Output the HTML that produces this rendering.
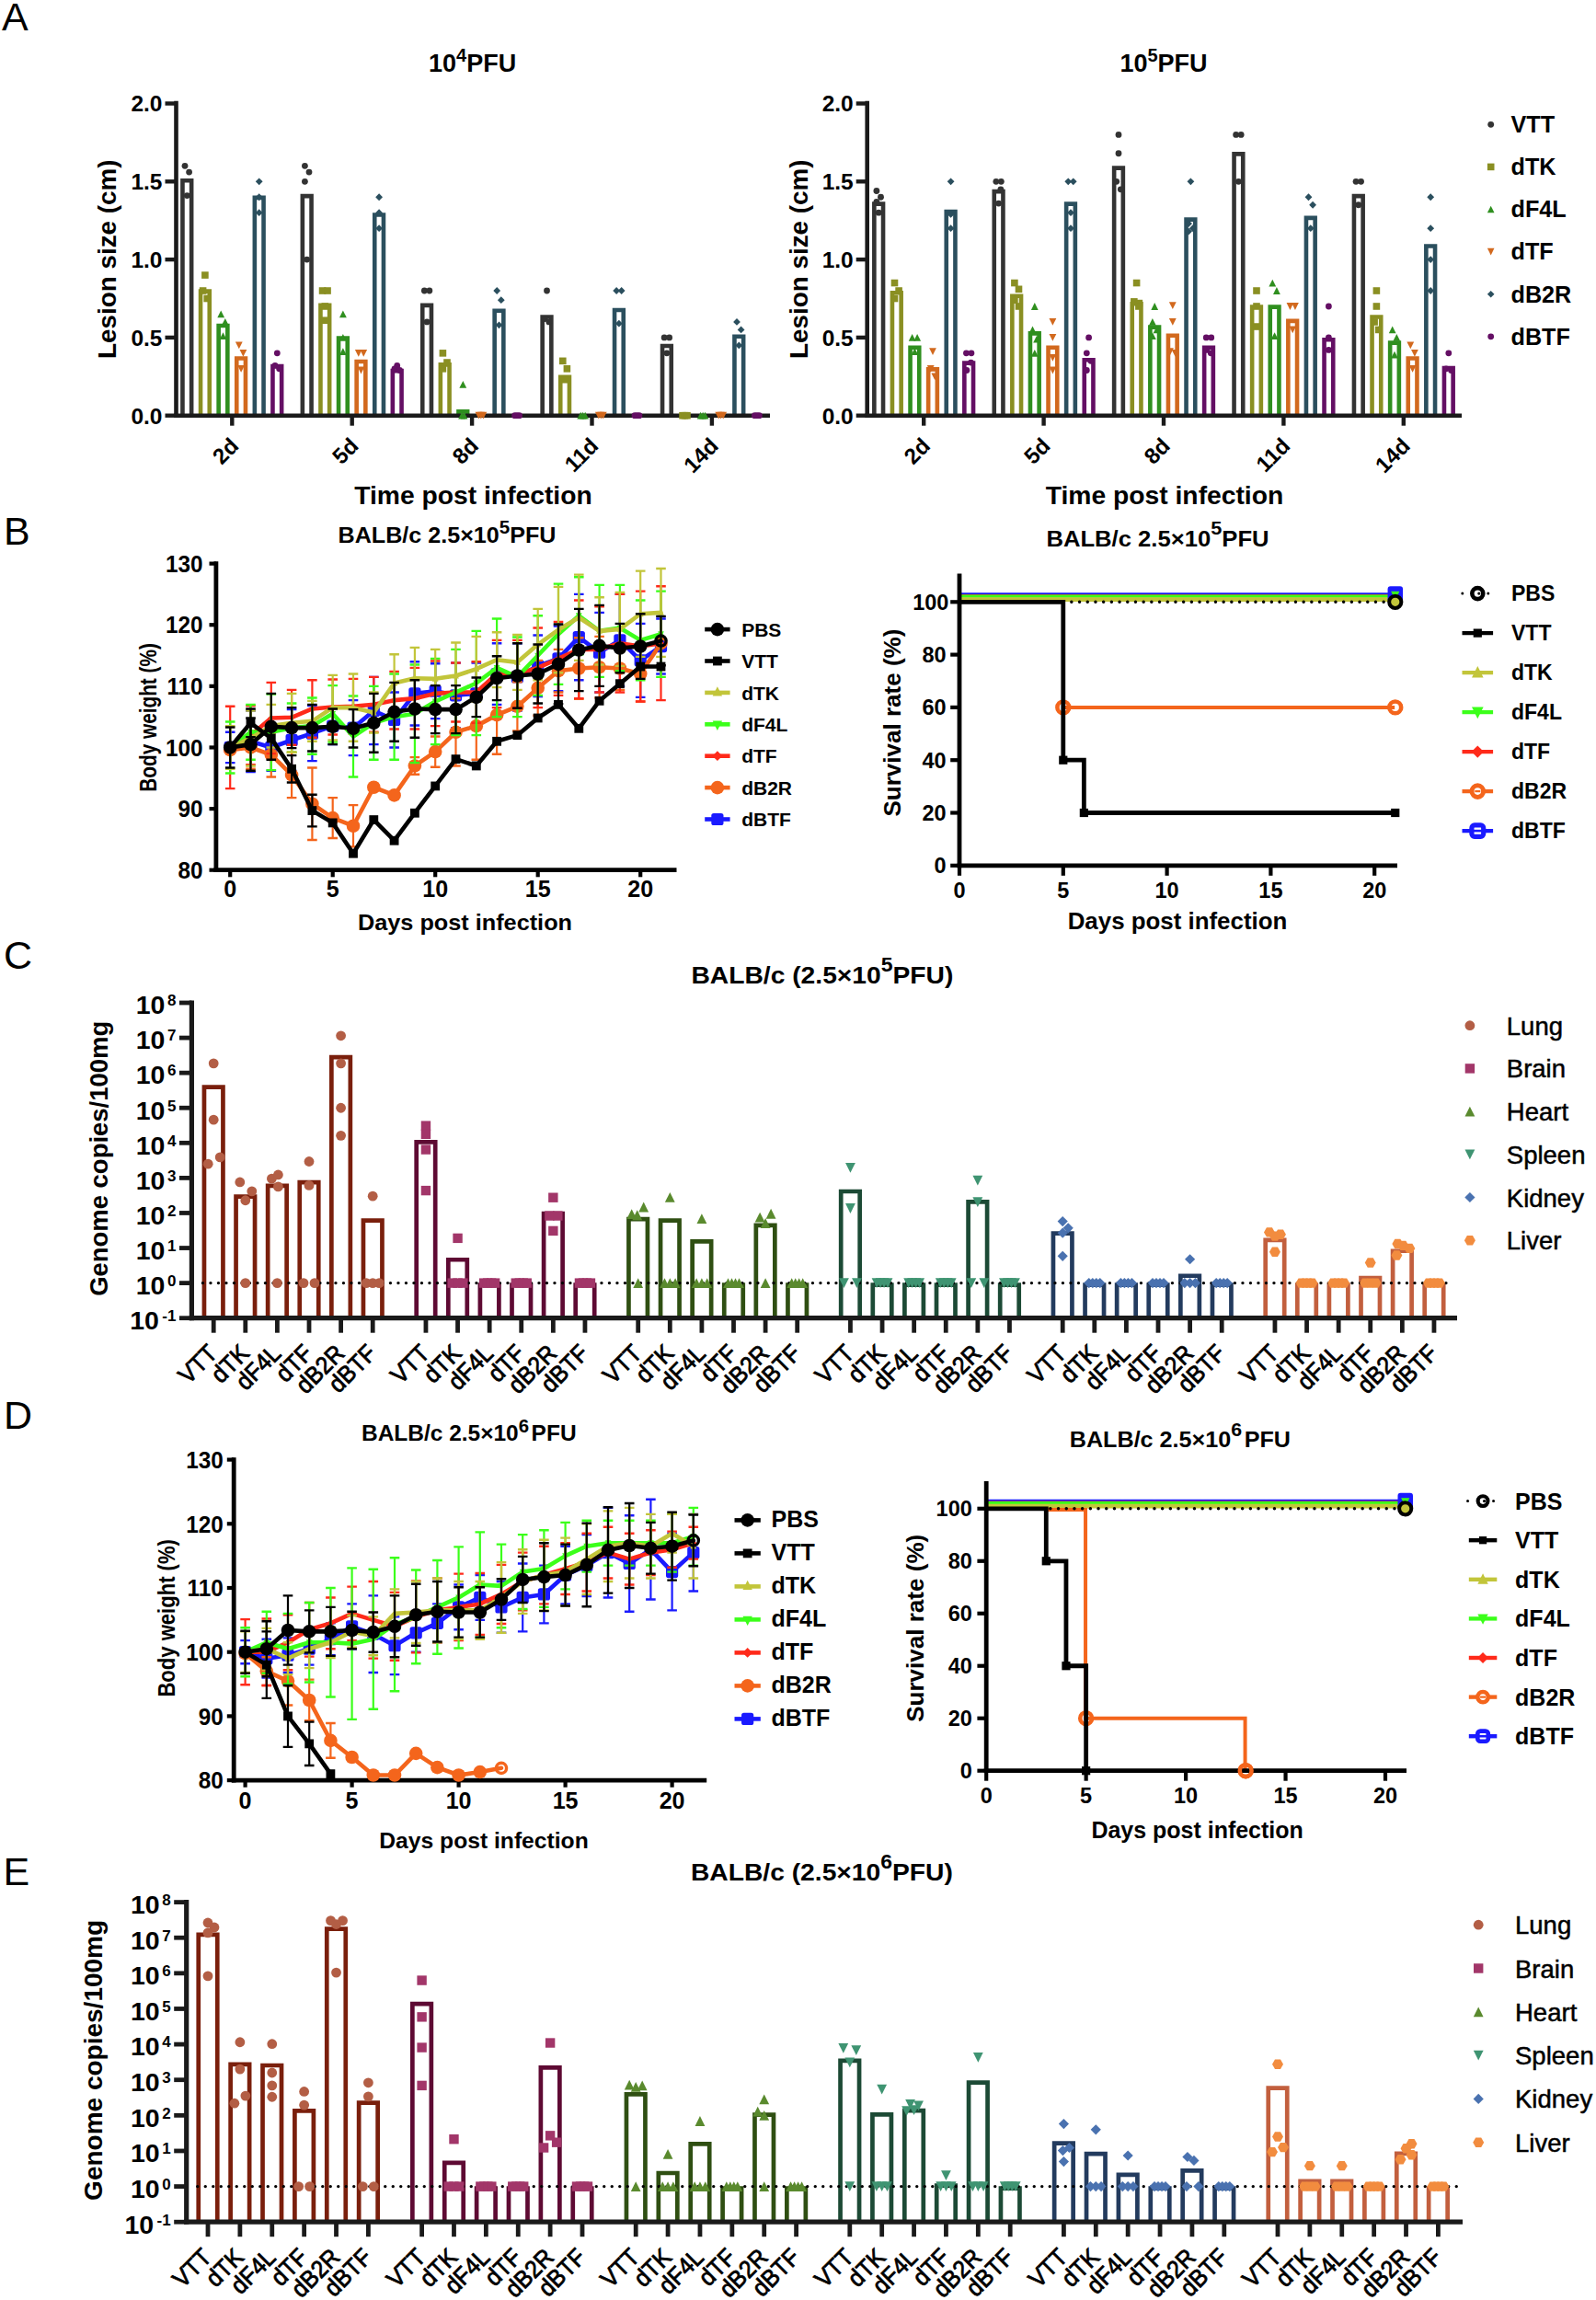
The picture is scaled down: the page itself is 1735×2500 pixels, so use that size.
<!DOCTYPE html>
<html lang="en"><head><meta charset="utf-8"><title>Figure</title>
<style>html,body{margin:0;padding:0;background:#fff}svg{display:block}text{font-family:"Liberation Sans",sans-serif}</style>
</head><body>
<svg width="1735" height="2500" viewBox="0 0 1735 2500">
<rect x="0" y="0" width="1735" height="2500" fill="#fff"/>
<text x="2" y="33" font-size="43">A</text>
<path d="M198.45 451.7L198.45 196.21L208.15 196.21L208.15 451.7" fill="#fff" stroke="#333333" stroke-width="4.6" stroke-linejoin="miter"/>
<path d="M218.05 451.7L218.05 316.62L227.75 316.62L227.75 451.7" fill="#fff" stroke="#8a8f22" stroke-width="4.6" stroke-linejoin="miter"/>
<path d="M237.65 451.7L237.65 353.94L247.35 353.94L247.35 451.7" fill="#fff" stroke="#2f8f1f" stroke-width="4.6" stroke-linejoin="miter"/>
<path d="M257.25 451.7L257.25 389.55L266.95 389.55L266.95 451.7" fill="#fff" stroke="#d2691e" stroke-width="4.6" stroke-linejoin="miter"/>
<path d="M276.85 451.7L276.85 214.86L286.55 214.86L286.55 451.7" fill="#fff" stroke="#2b4f5e" stroke-width="4.6" stroke-linejoin="miter"/>
<path d="M296.45 451.7L296.45 398.03L306.15 398.03L306.15 451.7" fill="#fff" stroke="#640f64" stroke-width="4.6" stroke-linejoin="miter"/>
<path d="M328.85 451.7L328.85 213.17L338.55 213.17L338.55 451.7" fill="#fff" stroke="#333333" stroke-width="4.6" stroke-linejoin="miter"/>
<path d="M348.45 451.7L348.45 331.89L358.15 331.89L358.15 451.7" fill="#fff" stroke="#8a8f22" stroke-width="4.6" stroke-linejoin="miter"/>
<path d="M368.05 451.7L368.05 367.5L377.75 367.5L377.75 451.7" fill="#fff" stroke="#2f8f1f" stroke-width="4.6" stroke-linejoin="miter"/>
<path d="M387.65 451.7L387.65 392.94L397.35 392.94L397.35 451.7" fill="#fff" stroke="#d2691e" stroke-width="4.6" stroke-linejoin="miter"/>
<path d="M407.25 451.7L407.25 233.52L416.95 233.52L416.95 451.7" fill="#fff" stroke="#2b4f5e" stroke-width="4.6" stroke-linejoin="miter"/>
<path d="M426.85 451.7L426.85 403.12L436.55 403.12L436.55 451.7" fill="#fff" stroke="#640f64" stroke-width="4.6" stroke-linejoin="miter"/>
<path d="M459.25 451.7L459.25 331.89L468.95 331.89L468.95 451.7" fill="#fff" stroke="#333333" stroke-width="4.6" stroke-linejoin="miter"/>
<path d="M478.85 451.7L478.85 396.34L488.55 396.34L488.55 451.7" fill="#fff" stroke="#8a8f22" stroke-width="4.6" stroke-linejoin="miter"/>
<path d="M498.45 451.7L498.45 447.22L508.15 447.22L508.15 451.7" fill="#fff" stroke="#2f8f1f" stroke-width="4.6" stroke-linejoin="miter"/>
<path d="M537.65 451.7L537.65 337.82L547.35 337.82L547.35 451.7" fill="#fff" stroke="#2b4f5e" stroke-width="4.6" stroke-linejoin="miter"/>
<path d="M589.65 451.7L589.65 344.44L599.35 344.44L599.35 451.7" fill="#fff" stroke="#333333" stroke-width="4.6" stroke-linejoin="miter"/>
<path d="M609.25 451.7L609.25 409.9L618.95 409.9L618.95 451.7" fill="#fff" stroke="#8a8f22" stroke-width="4.6" stroke-linejoin="miter"/>
<path d="M668.05 451.7L668.05 336.98L677.75 336.98L677.75 451.7" fill="#fff" stroke="#2b4f5e" stroke-width="4.6" stroke-linejoin="miter"/>
<path d="M720.05 451.7L720.05 375.98L729.75 375.98L729.75 451.7" fill="#fff" stroke="#333333" stroke-width="4.6" stroke-linejoin="miter"/>
<path d="M798.45 451.7L798.45 365.81L808.15 365.81L808.15 451.7" fill="#fff" stroke="#2b4f5e" stroke-width="4.6" stroke-linejoin="miter"/>
<line x1="191.5" y1="109.7" x2="191.5" y2="454" stroke="#1a1a1a" stroke-width="4.6"/>
<line x1="189.2" y1="451.7" x2="837" y2="451.7" stroke="#1a1a1a" stroke-width="4.6"/>
<line x1="179.5" y1="451.7" x2="191.5" y2="451.7" stroke="#1a1a1a" stroke-width="4.4"/>
<text x="176.5" y="460.5" font-size="24.5" font-weight="bold" text-anchor="end">0.0</text>
<line x1="179.5" y1="366.9" x2="191.5" y2="366.9" stroke="#1a1a1a" stroke-width="4.4"/>
<text x="176.5" y="375.7" font-size="24.5" font-weight="bold" text-anchor="end">0.5</text>
<line x1="179.5" y1="282.1" x2="191.5" y2="282.1" stroke="#1a1a1a" stroke-width="4.4"/>
<text x="176.5" y="290.9" font-size="24.5" font-weight="bold" text-anchor="end">1.0</text>
<line x1="179.5" y1="197.3" x2="191.5" y2="197.3" stroke="#1a1a1a" stroke-width="4.4"/>
<text x="176.5" y="206.1" font-size="24.5" font-weight="bold" text-anchor="end">1.5</text>
<line x1="179.5" y1="112.5" x2="191.5" y2="112.5" stroke="#1a1a1a" stroke-width="4.4"/>
<text x="176.5" y="121.3" font-size="24.5" font-weight="bold" text-anchor="end">2.0</text>
<line x1="252.3" y1="451.7" x2="252.3" y2="462.7" stroke="#1a1a1a" stroke-width="4.4"/>
<text x="260.8" y="486.2" font-size="24" transform="rotate(-45 260.8 486.2)" font-weight="bold" text-anchor="end">2d</text>
<line x1="382.7" y1="451.7" x2="382.7" y2="462.7" stroke="#1a1a1a" stroke-width="4.4"/>
<text x="391.2" y="486.2" font-size="24" transform="rotate(-45 391.2 486.2)" font-weight="bold" text-anchor="end">5d</text>
<line x1="513.1" y1="451.7" x2="513.1" y2="462.7" stroke="#1a1a1a" stroke-width="4.4"/>
<text x="521.6" y="486.2" font-size="24" transform="rotate(-45 521.6 486.2)" font-weight="bold" text-anchor="end">8d</text>
<line x1="643.5" y1="451.7" x2="643.5" y2="462.7" stroke="#1a1a1a" stroke-width="4.4"/>
<text x="652" y="486.2" font-size="24" transform="rotate(-45 652 486.2)" font-weight="bold" text-anchor="end">11d</text>
<line x1="773.9" y1="451.7" x2="773.9" y2="462.7" stroke="#1a1a1a" stroke-width="4.4"/>
<text x="782.4" y="486.2" font-size="24" transform="rotate(-45 782.4 486.2)" font-weight="bold" text-anchor="end">14d</text>
<circle cx="201" cy="180.34" r="3.4" fill="#333333"/>
<circle cx="205.6" cy="187.12" r="3.4" fill="#333333"/>
<circle cx="203.3" cy="212.56" r="3.4" fill="#333333"/>
<rect x="219.1" y="295.26" width="7.6" height="7.6" fill="#8a8f22"/>
<rect x="216.8" y="312.22" width="7.6" height="7.6" fill="#8a8f22"/>
<rect x="221.4" y="320.7" width="7.6" height="7.6" fill="#8a8f22"/>
<path d="M240.2 337.56L244.1 345.36L236.3 345.36Z" fill="#2f8f1f"/>
<path d="M244.8 346.04L248.7 353.84L240.9 353.84Z" fill="#2f8f1f"/>
<path d="M242.5 361.3L246.4 369.1L238.6 369.1Z" fill="#2f8f1f"/>
<path d="M259.8 379.28L263.7 371.48L255.9 371.48Z" fill="#d2691e"/>
<path d="M264.4 387.76L268.3 379.96L260.5 379.96Z" fill="#d2691e"/>
<path d="M262.1 404.72L266 396.92L258.2 396.92Z" fill="#d2691e"/>
<path d="M281.7 193.4L285.6 197.3L281.7 201.2L277.8 197.3Z" fill="#2b4f5e"/>
<path d="M281.7 210.36L285.6 214.26L281.7 218.16L277.8 214.26Z" fill="#2b4f5e"/>
<path d="M281.7 227.32L285.6 231.22L281.7 235.12L277.8 231.22Z" fill="#2b4f5e"/>
<circle cx="301.3" cy="383.86" r="3.4" fill="#640f64"/>
<circle cx="299" cy="397.43" r="3.4" fill="#640f64"/>
<circle cx="303.6" cy="400.82" r="3.4" fill="#640f64"/>
<circle cx="331.4" cy="180.34" r="3.4" fill="#333333"/>
<circle cx="336" cy="187.12" r="3.4" fill="#333333"/>
<circle cx="331.4" cy="197.3" r="3.4" fill="#333333"/>
<circle cx="333.7" cy="282.1" r="3.4" fill="#333333"/>
<rect x="346.75" y="312.22" width="7.6" height="7.6" fill="#8a8f22"/>
<rect x="352.25" y="312.22" width="7.6" height="7.6" fill="#8a8f22"/>
<rect x="349.5" y="329.18" width="7.6" height="7.6" fill="#8a8f22"/>
<rect x="349.5" y="344.44" width="7.6" height="7.6" fill="#8a8f22"/>
<path d="M372.9 337.56L376.8 345.36L369 345.36Z" fill="#2f8f1f"/>
<path d="M372.9 363L376.8 370.8L369 370.8Z" fill="#2f8f1f"/>
<path d="M372.9 378.26L376.8 386.06L369 386.06Z" fill="#2f8f1f"/>
<path d="M389.75 387.76L393.65 379.96L385.85 379.96Z" fill="#d2691e"/>
<path d="M395.25 387.76L399.15 379.96L391.35 379.96Z" fill="#d2691e"/>
<path d="M392.5 406.42L396.4 398.62L388.6 398.62Z" fill="#d2691e"/>
<path d="M412.1 210.36L416 214.26L412.1 218.16L408.2 214.26Z" fill="#2b4f5e"/>
<path d="M412.1 227.32L416 231.22L412.1 235.12L408.2 231.22Z" fill="#2b4f5e"/>
<path d="M412.1 244.28L416 248.18L412.1 252.08L408.2 248.18Z" fill="#2b4f5e"/>
<circle cx="431.7" cy="397.43" r="3.4" fill="#640f64"/>
<circle cx="428.95" cy="400.82" r="3.4" fill="#640f64"/>
<circle cx="434.45" cy="402.52" r="3.4" fill="#640f64"/>
<circle cx="461.35" cy="316.02" r="3.4" fill="#333333"/>
<circle cx="466.85" cy="316.02" r="3.4" fill="#333333"/>
<circle cx="464.1" cy="349.94" r="3.4" fill="#333333"/>
<rect x="477.6" y="380.06" width="7.6" height="7.6" fill="#8a8f22"/>
<rect x="482.2" y="390.24" width="7.6" height="7.6" fill="#8a8f22"/>
<rect x="477.6" y="397.02" width="7.6" height="7.6" fill="#8a8f22"/>
<path d="M503.3 413.88L507.2 421.68L499.4 421.68Z" fill="#2f8f1f"/>
<path d="M502.06 447.8L505.96 455.6L498.16 455.6Z" fill="#2f8f1f"/>
<path d="M504.54 447.8L508.44 455.6L500.64 455.6Z" fill="#2f8f1f"/>
<path d="M520.42 455.6L524.32 447.8L516.52 447.8Z" fill="#d2691e"/>
<path d="M522.9 455.6L526.8 447.8L519 447.8Z" fill="#d2691e"/>
<path d="M525.38 455.6L529.27 447.8L521.48 447.8Z" fill="#d2691e"/>
<path d="M540.2 312.12L544.1 316.02L540.2 319.92L536.3 316.02Z" fill="#2b4f5e"/>
<path d="M544.8 322.3L548.7 326.2L544.8 330.1L540.9 326.2Z" fill="#2b4f5e"/>
<path d="M542.5 349.43L546.4 353.33L542.5 357.23L538.6 353.33Z" fill="#2b4f5e"/>
<circle cx="559.62" cy="451.7" r="3.4" fill="#640f64"/>
<circle cx="562.1" cy="451.7" r="3.4" fill="#640f64"/>
<circle cx="564.58" cy="451.7" r="3.4" fill="#640f64"/>
<circle cx="594.5" cy="316.02" r="3.4" fill="#333333"/>
<circle cx="592.2" cy="346.55" r="3.4" fill="#333333"/>
<circle cx="596.8" cy="349.94" r="3.4" fill="#333333"/>
<rect x="608" y="388.54" width="7.6" height="7.6" fill="#8a8f22"/>
<rect x="612.6" y="397.02" width="7.6" height="7.6" fill="#8a8f22"/>
<rect x="610.3" y="408.89" width="7.6" height="7.6" fill="#8a8f22"/>
<path d="M631.23 447.8L635.12 455.6L627.33 455.6Z" fill="#2f8f1f"/>
<path d="M633.7 447.8L637.6 455.6L629.8 455.6Z" fill="#2f8f1f"/>
<path d="M636.18 447.8L640.08 455.6L632.28 455.6Z" fill="#2f8f1f"/>
<path d="M650.82 455.6L654.72 447.8L646.92 447.8Z" fill="#d2691e"/>
<path d="M653.3 455.6L657.2 447.8L649.4 447.8Z" fill="#d2691e"/>
<path d="M655.77 455.6L659.67 447.8L651.88 447.8Z" fill="#d2691e"/>
<path d="M670.15 312.12L674.05 316.02L670.15 319.92L666.25 316.02Z" fill="#2b4f5e"/>
<path d="M675.65 312.12L679.55 316.02L675.65 319.92L671.75 316.02Z" fill="#2b4f5e"/>
<path d="M672.9 347.74L676.8 351.64L672.9 355.54L669 351.64Z" fill="#2b4f5e"/>
<circle cx="690.02" cy="451.7" r="3.4" fill="#640f64"/>
<circle cx="692.5" cy="451.7" r="3.4" fill="#640f64"/>
<circle cx="694.98" cy="451.7" r="3.4" fill="#640f64"/>
<circle cx="722.15" cy="366.9" r="3.4" fill="#333333"/>
<circle cx="727.65" cy="366.9" r="3.4" fill="#333333"/>
<circle cx="724.9" cy="383.86" r="3.4" fill="#333333"/>
<rect x="738.23" y="447.9" width="7.6" height="7.6" fill="#8a8f22"/>
<rect x="740.7" y="447.9" width="7.6" height="7.6" fill="#8a8f22"/>
<rect x="743.18" y="447.9" width="7.6" height="7.6" fill="#8a8f22"/>
<path d="M761.63 447.8L765.53 455.6L757.73 455.6Z" fill="#2f8f1f"/>
<path d="M764.1 447.8L768 455.6L760.2 455.6Z" fill="#2f8f1f"/>
<path d="M766.58 447.8L770.48 455.6L762.68 455.6Z" fill="#2f8f1f"/>
<path d="M781.23 455.6L785.12 447.8L777.33 447.8Z" fill="#d2691e"/>
<path d="M783.7 455.6L787.6 447.8L779.8 447.8Z" fill="#d2691e"/>
<path d="M786.18 455.6L790.08 447.8L782.28 447.8Z" fill="#d2691e"/>
<path d="M801 346.04L804.9 349.94L801 353.84L797.1 349.94Z" fill="#2b4f5e"/>
<path d="M805.6 354.52L809.5 358.42L805.6 362.32L801.7 358.42Z" fill="#2b4f5e"/>
<path d="M803.3 371.48L807.2 375.38L803.3 379.28L799.4 375.38Z" fill="#2b4f5e"/>
<circle cx="820.43" cy="451.7" r="3.4" fill="#640f64"/>
<circle cx="822.9" cy="451.7" r="3.4" fill="#640f64"/>
<circle cx="825.38" cy="451.7" r="3.4" fill="#640f64"/>
<path d="M950.35 451.7L950.35 221.65L960.05 221.65L960.05 451.7" fill="#fff" stroke="#333333" stroke-width="4.6" stroke-linejoin="miter"/>
<path d="M969.95 451.7L969.95 318.32L979.65 318.32L979.65 451.7" fill="#fff" stroke="#8a8f22" stroke-width="4.6" stroke-linejoin="miter"/>
<path d="M989.55 451.7L989.55 377.68L999.25 377.68L999.25 451.7" fill="#fff" stroke="#2f8f1f" stroke-width="4.6" stroke-linejoin="miter"/>
<path d="M1009.15 451.7L1009.15 401.42L1018.85 401.42L1018.85 451.7" fill="#fff" stroke="#d2691e" stroke-width="4.6" stroke-linejoin="miter"/>
<path d="M1028.75 451.7L1028.75 230.13L1038.45 230.13L1038.45 451.7" fill="#fff" stroke="#2b4f5e" stroke-width="4.6" stroke-linejoin="miter"/>
<path d="M1048.35 451.7L1048.35 394.64L1058.05 394.64L1058.05 451.7" fill="#fff" stroke="#640f64" stroke-width="4.6" stroke-linejoin="miter"/>
<path d="M1080.75 451.7L1080.75 208.08L1090.45 208.08L1090.45 451.7" fill="#fff" stroke="#333333" stroke-width="4.6" stroke-linejoin="miter"/>
<path d="M1100.35 451.7L1100.35 321.71L1110.05 321.71L1110.05 451.7" fill="#fff" stroke="#8a8f22" stroke-width="4.6" stroke-linejoin="miter"/>
<path d="M1119.95 451.7L1119.95 362.42L1129.65 362.42L1129.65 451.7" fill="#fff" stroke="#2f8f1f" stroke-width="4.6" stroke-linejoin="miter"/>
<path d="M1139.55 451.7L1139.55 377.68L1149.25 377.68L1149.25 451.7" fill="#fff" stroke="#d2691e" stroke-width="4.6" stroke-linejoin="miter"/>
<path d="M1159.15 451.7L1159.15 221.65L1168.85 221.65L1168.85 451.7" fill="#fff" stroke="#2b4f5e" stroke-width="4.6" stroke-linejoin="miter"/>
<path d="M1178.75 451.7L1178.75 391.25L1188.45 391.25L1188.45 451.7" fill="#fff" stroke="#640f64" stroke-width="4.6" stroke-linejoin="miter"/>
<path d="M1211.15 451.7L1211.15 182.64L1220.85 182.64L1220.85 451.7" fill="#fff" stroke="#333333" stroke-width="4.6" stroke-linejoin="miter"/>
<path d="M1230.75 451.7L1230.75 330.19L1240.45 330.19L1240.45 451.7" fill="#fff" stroke="#8a8f22" stroke-width="4.6" stroke-linejoin="miter"/>
<path d="M1250.35 451.7L1250.35 355.63L1260.05 355.63L1260.05 451.7" fill="#fff" stroke="#2f8f1f" stroke-width="4.6" stroke-linejoin="miter"/>
<path d="M1269.95 451.7L1269.95 364.79L1279.65 364.79L1279.65 451.7" fill="#fff" stroke="#d2691e" stroke-width="4.6" stroke-linejoin="miter"/>
<path d="M1289.55 451.7L1289.55 238.61L1299.25 238.61L1299.25 451.7" fill="#fff" stroke="#2b4f5e" stroke-width="4.6" stroke-linejoin="miter"/>
<path d="M1309.15 451.7L1309.15 377.68L1318.85 377.68L1318.85 451.7" fill="#fff" stroke="#640f64" stroke-width="4.6" stroke-linejoin="miter"/>
<path d="M1341.55 451.7L1341.55 167.38L1351.25 167.38L1351.25 451.7" fill="#fff" stroke="#333333" stroke-width="4.6" stroke-linejoin="miter"/>
<path d="M1361.15 451.7L1361.15 333.58L1370.85 333.58L1370.85 451.7" fill="#fff" stroke="#8a8f22" stroke-width="4.6" stroke-linejoin="miter"/>
<path d="M1380.75 451.7L1380.75 333.58L1390.45 333.58L1390.45 451.7" fill="#fff" stroke="#2f8f1f" stroke-width="4.6" stroke-linejoin="miter"/>
<path d="M1400.35 451.7L1400.35 348.85L1410.05 348.85L1410.05 451.7" fill="#fff" stroke="#d2691e" stroke-width="4.6" stroke-linejoin="miter"/>
<path d="M1419.95 451.7L1419.95 236.91L1429.65 236.91L1429.65 451.7" fill="#fff" stroke="#2b4f5e" stroke-width="4.6" stroke-linejoin="miter"/>
<path d="M1439.55 451.7L1439.55 369.2L1449.25 369.2L1449.25 451.7" fill="#fff" stroke="#640f64" stroke-width="4.6" stroke-linejoin="miter"/>
<path d="M1471.95 451.7L1471.95 213.17L1481.65 213.17L1481.65 451.7" fill="#fff" stroke="#333333" stroke-width="4.6" stroke-linejoin="miter"/>
<path d="M1491.55 451.7L1491.55 344.44L1501.25 344.44L1501.25 451.7" fill="#fff" stroke="#8a8f22" stroke-width="4.6" stroke-linejoin="miter"/>
<path d="M1511.15 451.7L1511.15 372.59L1520.85 372.59L1520.85 451.7" fill="#fff" stroke="#2f8f1f" stroke-width="4.6" stroke-linejoin="miter"/>
<path d="M1530.75 451.7L1530.75 389.55L1540.45 389.55L1540.45 451.7" fill="#fff" stroke="#d2691e" stroke-width="4.6" stroke-linejoin="miter"/>
<path d="M1550.35 451.7L1550.35 267.44L1560.05 267.44L1560.05 451.7" fill="#fff" stroke="#2b4f5e" stroke-width="4.6" stroke-linejoin="miter"/>
<path d="M1569.95 451.7L1569.95 400.07L1579.65 400.07L1579.65 451.7" fill="#fff" stroke="#640f64" stroke-width="4.6" stroke-linejoin="miter"/>
<line x1="942.7" y1="109.7" x2="942.7" y2="454" stroke="#1a1a1a" stroke-width="4.6"/>
<line x1="940.4" y1="451.7" x2="1589" y2="451.7" stroke="#1a1a1a" stroke-width="4.6"/>
<line x1="930.7" y1="451.7" x2="942.7" y2="451.7" stroke="#1a1a1a" stroke-width="4.4"/>
<text x="927.7" y="460.5" font-size="24.5" font-weight="bold" text-anchor="end">0.0</text>
<line x1="930.7" y1="366.9" x2="942.7" y2="366.9" stroke="#1a1a1a" stroke-width="4.4"/>
<text x="927.7" y="375.7" font-size="24.5" font-weight="bold" text-anchor="end">0.5</text>
<line x1="930.7" y1="282.1" x2="942.7" y2="282.1" stroke="#1a1a1a" stroke-width="4.4"/>
<text x="927.7" y="290.9" font-size="24.5" font-weight="bold" text-anchor="end">1.0</text>
<line x1="930.7" y1="197.3" x2="942.7" y2="197.3" stroke="#1a1a1a" stroke-width="4.4"/>
<text x="927.7" y="206.1" font-size="24.5" font-weight="bold" text-anchor="end">1.5</text>
<line x1="930.7" y1="112.5" x2="942.7" y2="112.5" stroke="#1a1a1a" stroke-width="4.4"/>
<text x="927.7" y="121.3" font-size="24.5" font-weight="bold" text-anchor="end">2.0</text>
<line x1="1004.2" y1="451.7" x2="1004.2" y2="462.7" stroke="#1a1a1a" stroke-width="4.4"/>
<text x="1012.7" y="486.2" font-size="24" transform="rotate(-45 1012.7 486.2)" font-weight="bold" text-anchor="end">2d</text>
<line x1="1134.6" y1="451.7" x2="1134.6" y2="462.7" stroke="#1a1a1a" stroke-width="4.4"/>
<text x="1143.1" y="486.2" font-size="24" transform="rotate(-45 1143.1 486.2)" font-weight="bold" text-anchor="end">5d</text>
<line x1="1265" y1="451.7" x2="1265" y2="462.7" stroke="#1a1a1a" stroke-width="4.4"/>
<text x="1273.5" y="486.2" font-size="24" transform="rotate(-45 1273.5 486.2)" font-weight="bold" text-anchor="end">8d</text>
<line x1="1395.4" y1="451.7" x2="1395.4" y2="462.7" stroke="#1a1a1a" stroke-width="4.4"/>
<text x="1403.9" y="486.2" font-size="24" transform="rotate(-45 1403.9 486.2)" font-weight="bold" text-anchor="end">11d</text>
<line x1="1525.8" y1="451.7" x2="1525.8" y2="462.7" stroke="#1a1a1a" stroke-width="4.4"/>
<text x="1534.3" y="486.2" font-size="24" transform="rotate(-45 1534.3 486.2)" font-weight="bold" text-anchor="end">14d</text>
<circle cx="952.9" cy="207.48" r="3.4" fill="#333333"/>
<circle cx="957.5" cy="214.26" r="3.4" fill="#333333"/>
<circle cx="952.9" cy="219.35" r="3.4" fill="#333333"/>
<circle cx="955.2" cy="231.22" r="3.4" fill="#333333"/>
<rect x="968.7" y="303.74" width="7.6" height="7.6" fill="#8a8f22"/>
<rect x="973.3" y="312.22" width="7.6" height="7.6" fill="#8a8f22"/>
<rect x="968.7" y="320.7" width="7.6" height="7.6" fill="#8a8f22"/>
<path d="M991.65 363L995.55 370.8L987.75 370.8Z" fill="#2f8f1f"/>
<path d="M997.15 363L1001.05 370.8L993.25 370.8Z" fill="#2f8f1f"/>
<path d="M994.4 378.26L998.3 386.06L990.5 386.06Z" fill="#2f8f1f"/>
<path d="M1014 386.06L1017.9 378.26L1010.1 378.26Z" fill="#d2691e"/>
<path d="M1011.7 404.72L1015.6 396.92L1007.8 396.92Z" fill="#d2691e"/>
<path d="M1016.3 413.2L1020.2 405.4L1012.4 405.4Z" fill="#d2691e"/>
<path d="M1033.6 193.4L1037.5 197.3L1033.6 201.2L1029.7 197.3Z" fill="#2b4f5e"/>
<path d="M1033.6 229.02L1037.5 232.92L1033.6 236.82L1029.7 232.92Z" fill="#2b4f5e"/>
<path d="M1033.6 244.28L1037.5 248.18L1033.6 252.08L1029.7 248.18Z" fill="#2b4f5e"/>
<circle cx="1050.45" cy="383.86" r="3.4" fill="#640f64"/>
<circle cx="1055.95" cy="383.86" r="3.4" fill="#640f64"/>
<circle cx="1055.5" cy="394.04" r="3.4" fill="#640f64"/>
<circle cx="1050.9" cy="402.52" r="3.4" fill="#640f64"/>
<circle cx="1082.85" cy="197.3" r="3.4" fill="#333333"/>
<circle cx="1088.35" cy="197.3" r="3.4" fill="#333333"/>
<circle cx="1087.9" cy="205.78" r="3.4" fill="#333333"/>
<circle cx="1085.6" cy="221.04" r="3.4" fill="#333333"/>
<rect x="1099.1" y="303.74" width="7.6" height="7.6" fill="#8a8f22"/>
<rect x="1103.7" y="310.52" width="7.6" height="7.6" fill="#8a8f22"/>
<rect x="1099.1" y="322.4" width="7.6" height="7.6" fill="#8a8f22"/>
<rect x="1103.7" y="329.18" width="7.6" height="7.6" fill="#8a8f22"/>
<path d="M1124.8 329.08L1128.7 336.88L1120.9 336.88Z" fill="#2f8f1f"/>
<path d="M1122.5 354.52L1126.4 362.32L1118.6 362.32Z" fill="#2f8f1f"/>
<path d="M1127.1 364.7L1131 372.5L1123.2 372.5Z" fill="#2f8f1f"/>
<path d="M1124.8 379.96L1128.7 387.76L1120.9 387.76Z" fill="#2f8f1f"/>
<path d="M1144.4 353.84L1148.3 346.04L1140.5 346.04Z" fill="#d2691e"/>
<path d="M1144.4 370.8L1148.3 363L1140.5 363Z" fill="#d2691e"/>
<path d="M1144.4 392.85L1148.3 385.05L1140.5 385.05Z" fill="#d2691e"/>
<path d="M1144.4 406.42L1148.3 398.62L1140.5 398.62Z" fill="#d2691e"/>
<path d="M1161.25 193.4L1165.15 197.3L1161.25 201.2L1157.35 197.3Z" fill="#2b4f5e"/>
<path d="M1166.75 193.4L1170.65 197.3L1166.75 201.2L1162.85 197.3Z" fill="#2b4f5e"/>
<path d="M1164 227.32L1167.9 231.22L1164 235.12L1160.1 231.22Z" fill="#2b4f5e"/>
<path d="M1164 244.28L1167.9 248.18L1164 252.08L1160.1 248.18Z" fill="#2b4f5e"/>
<circle cx="1183.6" cy="366.9" r="3.4" fill="#640f64"/>
<circle cx="1181.3" cy="383.86" r="3.4" fill="#640f64"/>
<circle cx="1185.9" cy="392.34" r="3.4" fill="#640f64"/>
<circle cx="1181.3" cy="402.52" r="3.4" fill="#640f64"/>
<circle cx="1216" cy="146.42" r="3.4" fill="#333333"/>
<circle cx="1216" cy="166.77" r="3.4" fill="#333333"/>
<circle cx="1213.7" cy="197.3" r="3.4" fill="#333333"/>
<circle cx="1218.3" cy="205.78" r="3.4" fill="#333333"/>
<rect x="1231.8" y="303.74" width="7.6" height="7.6" fill="#8a8f22"/>
<rect x="1229.05" y="324.09" width="7.6" height="7.6" fill="#8a8f22"/>
<rect x="1234.55" y="325.79" width="7.6" height="7.6" fill="#8a8f22"/>
<rect x="1234.1" y="329.18" width="7.6" height="7.6" fill="#8a8f22"/>
<path d="M1255.2 329.08L1259.1 336.88L1251.3 336.88Z" fill="#2f8f1f"/>
<path d="M1252.9 346.04L1256.8 353.84L1249 353.84Z" fill="#2f8f1f"/>
<path d="M1257.5 354.52L1261.4 362.32L1253.6 362.32Z" fill="#2f8f1f"/>
<path d="M1252.9 361.3L1256.8 369.1L1249 369.1Z" fill="#2f8f1f"/>
<path d="M1274.8 336.03L1278.7 328.23L1270.9 328.23Z" fill="#d2691e"/>
<path d="M1274.8 353.84L1278.7 346.04L1270.9 346.04Z" fill="#d2691e"/>
<path d="M1272.05 386.06L1275.95 378.26L1268.15 378.26Z" fill="#d2691e"/>
<path d="M1277.55 387.76L1281.45 379.96L1273.65 379.96Z" fill="#d2691e"/>
<path d="M1294.4 193.4L1298.3 197.3L1294.4 201.2L1290.5 197.3Z" fill="#2b4f5e"/>
<path d="M1292.1 239.19L1296 243.09L1292.1 246.99L1288.2 243.09Z" fill="#2b4f5e"/>
<path d="M1296.7 244.28L1300.6 248.18L1296.7 252.08L1292.8 248.18Z" fill="#2b4f5e"/>
<path d="M1292.1 247.67L1296 251.57L1292.1 255.47L1288.2 251.57Z" fill="#2b4f5e"/>
<circle cx="1311.25" cy="366.9" r="3.4" fill="#640f64"/>
<circle cx="1316.75" cy="366.9" r="3.4" fill="#640f64"/>
<circle cx="1311.7" cy="380.47" r="3.4" fill="#640f64"/>
<circle cx="1316.3" cy="383.86" r="3.4" fill="#640f64"/>
<circle cx="1343.65" cy="146.42" r="3.4" fill="#333333"/>
<circle cx="1349.15" cy="146.42" r="3.4" fill="#333333"/>
<circle cx="1346.4" cy="197.3" r="3.4" fill="#333333"/>
<rect x="1362.2" y="312.22" width="7.6" height="7.6" fill="#8a8f22"/>
<rect x="1362.2" y="329.18" width="7.6" height="7.6" fill="#8a8f22"/>
<rect x="1362.2" y="351.23" width="7.6" height="7.6" fill="#8a8f22"/>
<path d="M1383.3 303.64L1387.2 311.44L1379.4 311.44Z" fill="#2f8f1f"/>
<path d="M1387.9 312.12L1391.8 319.92L1384 319.92Z" fill="#2f8f1f"/>
<path d="M1385.6 361.3L1389.5 369.1L1381.7 369.1Z" fill="#2f8f1f"/>
<path d="M1402.45 336.88L1406.35 329.08L1398.55 329.08Z" fill="#d2691e"/>
<path d="M1407.95 336.88L1411.85 329.08L1404.05 329.08Z" fill="#d2691e"/>
<path d="M1405.2 362.32L1409.1 354.52L1401.3 354.52Z" fill="#d2691e"/>
<path d="M1422.5 210.36L1426.4 214.26L1422.5 218.16L1418.6 214.26Z" fill="#2b4f5e"/>
<path d="M1427.1 218.84L1431 222.74L1427.1 226.64L1423.2 222.74Z" fill="#2b4f5e"/>
<path d="M1424.8 244.28L1428.7 248.18L1424.8 252.08L1420.9 248.18Z" fill="#2b4f5e"/>
<circle cx="1444.4" cy="332.98" r="3.4" fill="#640f64"/>
<circle cx="1444.4" cy="366.9" r="3.4" fill="#640f64"/>
<circle cx="1444.4" cy="380.47" r="3.4" fill="#640f64"/>
<circle cx="1474.05" cy="197.3" r="3.4" fill="#333333"/>
<circle cx="1479.55" cy="197.3" r="3.4" fill="#333333"/>
<circle cx="1476.8" cy="222.74" r="3.4" fill="#333333"/>
<rect x="1492.6" y="312.22" width="7.6" height="7.6" fill="#8a8f22"/>
<rect x="1492.6" y="329.18" width="7.6" height="7.6" fill="#8a8f22"/>
<rect x="1490.3" y="346.14" width="7.6" height="7.6" fill="#8a8f22"/>
<rect x="1494.9" y="354.62" width="7.6" height="7.6" fill="#8a8f22"/>
<path d="M1513.7 354.52L1517.6 362.32L1509.8 362.32Z" fill="#2f8f1f"/>
<path d="M1518.3 363L1522.2 370.8L1514.4 370.8Z" fill="#2f8f1f"/>
<path d="M1516 381.66L1519.9 389.46L1512.1 389.46Z" fill="#2f8f1f"/>
<path d="M1533.3 379.28L1537.2 371.48L1529.4 371.48Z" fill="#d2691e"/>
<path d="M1537.9 387.76L1541.8 379.96L1534 379.96Z" fill="#d2691e"/>
<path d="M1535.6 404.72L1539.5 396.92L1531.7 396.92Z" fill="#d2691e"/>
<path d="M1555.2 210.36L1559.1 214.26L1555.2 218.16L1551.3 214.26Z" fill="#2b4f5e"/>
<path d="M1555.2 244.28L1559.1 248.18L1555.2 252.08L1551.3 248.18Z" fill="#2b4f5e"/>
<path d="M1555.2 278.2L1559.1 282.1L1555.2 286L1551.3 282.1Z" fill="#2b4f5e"/>
<path d="M1555.2 312.12L1559.1 316.02L1555.2 319.92L1551.3 316.02Z" fill="#2b4f5e"/>
<circle cx="1574.8" cy="383.86" r="3.4" fill="#640f64"/>
<circle cx="1572.05" cy="400.82" r="3.4" fill="#640f64"/>
<circle cx="1577.55" cy="402.52" r="3.4" fill="#640f64"/>
<text x="513.6" y="78" font-size="27" font-weight="bold" text-anchor="middle">10<tspan dy="-11.3" font-size="20">4</tspan><tspan dy="11.3">PFU</tspan></text>
<text x="1265" y="78" font-size="27" font-weight="bold" text-anchor="middle">10<tspan dy="-11.3" font-size="20">5</tspan><tspan dy="11.3">PFU</tspan></text>
<text x="514.5" y="547.5" font-size="27" font-weight="bold" text-anchor="middle" textLength="258.5" lengthAdjust="spacingAndGlyphs">Time post infection</text>
<text x="1266" y="547.5" font-size="27" font-weight="bold" text-anchor="middle" textLength="258.5" lengthAdjust="spacingAndGlyphs">Time post infection</text>
<text x="126.5" y="281.7" font-size="27" transform="rotate(-90 126.5 281.7)" font-weight="bold" text-anchor="middle" textLength="216.5" lengthAdjust="spacingAndGlyphs">Lesion size (cm)</text>
<text x="878" y="281.7" font-size="27" transform="rotate(-90 878 281.7)" font-weight="bold" text-anchor="middle" textLength="216.5" lengthAdjust="spacingAndGlyphs">Lesion size (cm)</text>
<circle cx="1620.7" cy="135.3" r="3.4" fill="#333333"/>
<text x="1642.5" y="144.1" font-size="25.2" font-weight="bold">VTT</text>
<rect x="1616.9" y="177.6" width="7.6" height="7.6" fill="#8a8f22"/>
<text x="1642.5" y="190.2" font-size="25.2" font-weight="bold">dTK</text>
<path d="M1620.7 223.7L1624.5 231.3L1616.9 231.3Z" fill="#2f8f1f"/>
<text x="1642.5" y="236.3" font-size="25.2" font-weight="bold">dF4L</text>
<path d="M1620.7 277.4L1624.5 269.8L1616.9 269.8Z" fill="#d2691e"/>
<text x="1642.5" y="282.4" font-size="25.2" font-weight="bold">dTF</text>
<path d="M1620.7 315.9L1624.5 319.7L1620.7 323.5L1616.9 319.7Z" fill="#2b4f5e"/>
<text x="1642.5" y="328.5" font-size="25.2" font-weight="bold">dB2R</text>
<circle cx="1620.7" cy="365.8" r="3.4" fill="#640f64"/>
<text x="1642.5" y="374.6" font-size="25.2" font-weight="bold">dBTF</text>
<text x="4" y="591.5" font-size="43">B</text>
<line x1="234.9" y1="610.2" x2="234.9" y2="948.1" stroke="#000" stroke-width="4.8"/>
<line x1="232.5" y1="945.7" x2="735.5" y2="945.7" stroke="#000" stroke-width="4.8"/>
<line x1="227.5" y1="945.7" x2="234.9" y2="945.7" stroke="#000" stroke-width="4.2"/>
<text font-size="25.6" transform="translate(220.6 954.9) scale(0.95 1)" font-weight="bold" text-anchor="end">80</text>
<line x1="227.5" y1="879.08" x2="234.9" y2="879.08" stroke="#000" stroke-width="4.2"/>
<text font-size="25.6" transform="translate(220.6 888.28) scale(0.95 1)" font-weight="bold" text-anchor="end">90</text>
<line x1="227.5" y1="812.46" x2="234.9" y2="812.46" stroke="#000" stroke-width="4.2"/>
<text font-size="25.6" transform="translate(220.6 821.66) scale(0.95 1)" font-weight="bold" text-anchor="end">100</text>
<line x1="227.5" y1="745.84" x2="234.9" y2="745.84" stroke="#000" stroke-width="4.2"/>
<text font-size="25.6" transform="translate(220.6 755.04) scale(0.95 1)" font-weight="bold" text-anchor="end">110</text>
<line x1="227.5" y1="679.22" x2="234.9" y2="679.22" stroke="#000" stroke-width="4.2"/>
<text font-size="25.6" transform="translate(220.6 688.42) scale(0.95 1)" font-weight="bold" text-anchor="end">120</text>
<line x1="227.5" y1="612.6" x2="234.9" y2="612.6" stroke="#000" stroke-width="4.2"/>
<text font-size="25.6" transform="translate(220.6 621.8) scale(0.95 1)" font-weight="bold" text-anchor="end">130</text>
<line x1="250.2" y1="945.7" x2="250.2" y2="953.3" stroke="#000" stroke-width="4.2"/>
<text font-size="25.6" transform="translate(250.2 975.4) scale(0.98 1)" font-weight="bold" text-anchor="middle">0</text>
<line x1="361.7" y1="945.7" x2="361.7" y2="953.3" stroke="#000" stroke-width="4.2"/>
<text font-size="25.6" transform="translate(361.7 975.4) scale(0.98 1)" font-weight="bold" text-anchor="middle">5</text>
<line x1="473.2" y1="945.7" x2="473.2" y2="953.3" stroke="#000" stroke-width="4.2"/>
<text font-size="25.6" transform="translate(473.2 975.4) scale(0.98 1)" font-weight="bold" text-anchor="middle">10</text>
<line x1="584.7" y1="945.7" x2="584.7" y2="953.3" stroke="#000" stroke-width="4.2"/>
<text font-size="25.6" transform="translate(584.7 975.4) scale(0.98 1)" font-weight="bold" text-anchor="middle">15</text>
<line x1="696.2" y1="945.7" x2="696.2" y2="953.3" stroke="#000" stroke-width="4.2"/>
<text font-size="25.6" transform="translate(696.2 975.4) scale(0.98 1)" font-weight="bold" text-anchor="middle">20</text>
<clipPath id="clip234"><rect x="234.9" y="572.6" width="540.6" height="382.1"/></clipPath>
<g clip-path="url(#clip234)">
<line x1="250.2" y1="795.81" x2="250.2" y2="829.12" stroke="#1a1aff" stroke-width="2.2"/>
<line x1="244.9" y1="795.81" x2="255.5" y2="795.81" stroke="#1a1aff" stroke-width="2.4"/>
<line x1="244.9" y1="829.12" x2="255.5" y2="829.12" stroke="#1a1aff" stroke-width="2.4"/>
<line x1="272.5" y1="772.49" x2="272.5" y2="839.11" stroke="#1a1aff" stroke-width="2.2"/>
<line x1="267.2" y1="772.49" x2="277.8" y2="772.49" stroke="#1a1aff" stroke-width="2.4"/>
<line x1="267.2" y1="839.11" x2="277.8" y2="839.11" stroke="#1a1aff" stroke-width="2.4"/>
<line x1="294.8" y1="787.14" x2="294.8" y2="837.78" stroke="#1a1aff" stroke-width="2.2"/>
<line x1="289.5" y1="787.14" x2="300.1" y2="787.14" stroke="#1a1aff" stroke-width="2.4"/>
<line x1="289.5" y1="837.78" x2="300.1" y2="837.78" stroke="#1a1aff" stroke-width="2.4"/>
<line x1="317.1" y1="771.16" x2="317.1" y2="837.78" stroke="#1a1aff" stroke-width="2.2"/>
<line x1="311.8" y1="771.16" x2="322.4" y2="771.16" stroke="#1a1aff" stroke-width="2.4"/>
<line x1="311.8" y1="837.78" x2="322.4" y2="837.78" stroke="#1a1aff" stroke-width="2.4"/>
<line x1="339.4" y1="767.16" x2="339.4" y2="827.12" stroke="#1a1aff" stroke-width="2.2"/>
<line x1="334.1" y1="767.16" x2="344.7" y2="767.16" stroke="#1a1aff" stroke-width="2.4"/>
<line x1="334.1" y1="827.12" x2="344.7" y2="827.12" stroke="#1a1aff" stroke-width="2.4"/>
<line x1="361.7" y1="769.16" x2="361.7" y2="809.13" stroke="#1a1aff" stroke-width="2.2"/>
<line x1="356.4" y1="769.16" x2="367" y2="769.16" stroke="#1a1aff" stroke-width="2.4"/>
<line x1="356.4" y1="809.13" x2="367" y2="809.13" stroke="#1a1aff" stroke-width="2.4"/>
<line x1="384" y1="761.16" x2="384" y2="821.12" stroke="#1a1aff" stroke-width="2.2"/>
<line x1="378.7" y1="761.16" x2="389.3" y2="761.16" stroke="#1a1aff" stroke-width="2.4"/>
<line x1="378.7" y1="821.12" x2="389.3" y2="821.12" stroke="#1a1aff" stroke-width="2.4"/>
<line x1="406.3" y1="735.85" x2="406.3" y2="809.13" stroke="#1a1aff" stroke-width="2.2"/>
<line x1="401" y1="735.85" x2="411.6" y2="735.85" stroke="#1a1aff" stroke-width="2.4"/>
<line x1="401" y1="809.13" x2="411.6" y2="809.13" stroke="#1a1aff" stroke-width="2.4"/>
<line x1="428.6" y1="752.5" x2="428.6" y2="812.46" stroke="#1a1aff" stroke-width="2.2"/>
<line x1="423.3" y1="752.5" x2="433.9" y2="752.5" stroke="#1a1aff" stroke-width="2.4"/>
<line x1="423.3" y1="812.46" x2="433.9" y2="812.46" stroke="#1a1aff" stroke-width="2.4"/>
<line x1="450.9" y1="719.19" x2="450.9" y2="788.48" stroke="#1a1aff" stroke-width="2.2"/>
<line x1="445.6" y1="719.19" x2="456.2" y2="719.19" stroke="#1a1aff" stroke-width="2.4"/>
<line x1="445.6" y1="788.48" x2="456.2" y2="788.48" stroke="#1a1aff" stroke-width="2.4"/>
<line x1="473.2" y1="721.19" x2="473.2" y2="781.15" stroke="#1a1aff" stroke-width="2.2"/>
<line x1="467.9" y1="721.19" x2="478.5" y2="721.19" stroke="#1a1aff" stroke-width="2.4"/>
<line x1="467.9" y1="781.15" x2="478.5" y2="781.15" stroke="#1a1aff" stroke-width="2.4"/>
<line x1="495.5" y1="720.52" x2="495.5" y2="791.14" stroke="#1a1aff" stroke-width="2.2"/>
<line x1="490.2" y1="720.52" x2="500.8" y2="720.52" stroke="#1a1aff" stroke-width="2.4"/>
<line x1="490.2" y1="791.14" x2="500.8" y2="791.14" stroke="#1a1aff" stroke-width="2.4"/>
<line x1="517.8" y1="720.52" x2="517.8" y2="787.14" stroke="#1a1aff" stroke-width="2.2"/>
<line x1="512.5" y1="720.52" x2="523.1" y2="720.52" stroke="#1a1aff" stroke-width="2.4"/>
<line x1="512.5" y1="787.14" x2="523.1" y2="787.14" stroke="#1a1aff" stroke-width="2.4"/>
<line x1="540.1" y1="699.21" x2="540.1" y2="765.83" stroke="#1a1aff" stroke-width="2.2"/>
<line x1="534.8" y1="699.21" x2="545.4" y2="699.21" stroke="#1a1aff" stroke-width="2.4"/>
<line x1="534.8" y1="765.83" x2="545.4" y2="765.83" stroke="#1a1aff" stroke-width="2.4"/>
<line x1="562.4" y1="699.21" x2="562.4" y2="772.49" stroke="#1a1aff" stroke-width="2.2"/>
<line x1="557.1" y1="699.21" x2="567.7" y2="699.21" stroke="#1a1aff" stroke-width="2.4"/>
<line x1="557.1" y1="772.49" x2="567.7" y2="772.49" stroke="#1a1aff" stroke-width="2.4"/>
<line x1="584.7" y1="690.55" x2="584.7" y2="757.17" stroke="#1a1aff" stroke-width="2.2"/>
<line x1="579.4" y1="690.55" x2="590" y2="690.55" stroke="#1a1aff" stroke-width="2.4"/>
<line x1="579.4" y1="757.17" x2="590" y2="757.17" stroke="#1a1aff" stroke-width="2.4"/>
<line x1="607" y1="680.55" x2="607" y2="751.17" stroke="#1a1aff" stroke-width="2.2"/>
<line x1="601.7" y1="680.55" x2="612.3" y2="680.55" stroke="#1a1aff" stroke-width="2.4"/>
<line x1="601.7" y1="751.17" x2="612.3" y2="751.17" stroke="#1a1aff" stroke-width="2.4"/>
<line x1="629.3" y1="645.91" x2="629.3" y2="739.18" stroke="#1a1aff" stroke-width="2.2"/>
<line x1="624" y1="645.91" x2="634.6" y2="645.91" stroke="#1a1aff" stroke-width="2.4"/>
<line x1="624" y1="739.18" x2="634.6" y2="739.18" stroke="#1a1aff" stroke-width="2.4"/>
<line x1="651.6" y1="665.9" x2="651.6" y2="752.5" stroke="#1a1aff" stroke-width="2.2"/>
<line x1="646.3" y1="665.9" x2="656.9" y2="665.9" stroke="#1a1aff" stroke-width="2.4"/>
<line x1="646.3" y1="752.5" x2="656.9" y2="752.5" stroke="#1a1aff" stroke-width="2.4"/>
<line x1="673.9" y1="645.91" x2="673.9" y2="745.84" stroke="#1a1aff" stroke-width="2.2"/>
<line x1="668.6" y1="645.91" x2="679.2" y2="645.91" stroke="#1a1aff" stroke-width="2.4"/>
<line x1="668.6" y1="745.84" x2="679.2" y2="745.84" stroke="#1a1aff" stroke-width="2.4"/>
<line x1="696.2" y1="677.89" x2="696.2" y2="757.83" stroke="#1a1aff" stroke-width="2.2"/>
<line x1="690.9" y1="677.89" x2="701.5" y2="677.89" stroke="#1a1aff" stroke-width="2.4"/>
<line x1="690.9" y1="757.83" x2="701.5" y2="757.83" stroke="#1a1aff" stroke-width="2.4"/>
<line x1="718.5" y1="672.56" x2="718.5" y2="732.52" stroke="#1a1aff" stroke-width="2.2"/>
<line x1="713.2" y1="672.56" x2="723.8" y2="672.56" stroke="#1a1aff" stroke-width="2.4"/>
<line x1="713.2" y1="732.52" x2="723.8" y2="732.52" stroke="#1a1aff" stroke-width="2.4"/>
<polyline points="250.2,812.46 272.5,805.8 294.8,812.46 317.1,804.47 339.4,797.14 361.7,789.14 384,791.14 406.3,772.49 428.6,782.48 450.9,753.83 473.2,751.17 495.5,755.83 517.8,753.83 540.1,732.52 562.4,735.85 584.7,723.86 607,715.86 629.3,692.54 651.6,709.2 673.9,695.88 696.2,717.86 718.5,702.54" fill="none" stroke="#1a1aff" stroke-width="4.6" stroke-linejoin="round" stroke-linecap="round"/>
<rect x="243.6" y="805.86" width="13.2" height="13.2" rx="2.6" fill="#1a1aff"/>
<rect x="265.9" y="799.2" width="13.2" height="13.2" rx="2.6" fill="#1a1aff"/>
<rect x="288.2" y="805.86" width="13.2" height="13.2" rx="2.6" fill="#1a1aff"/>
<rect x="310.5" y="797.87" width="13.2" height="13.2" rx="2.6" fill="#1a1aff"/>
<rect x="332.8" y="790.54" width="13.2" height="13.2" rx="2.6" fill="#1a1aff"/>
<rect x="355.1" y="782.54" width="13.2" height="13.2" rx="2.6" fill="#1a1aff"/>
<rect x="377.4" y="784.54" width="13.2" height="13.2" rx="2.6" fill="#1a1aff"/>
<rect x="399.7" y="765.89" width="13.2" height="13.2" rx="2.6" fill="#1a1aff"/>
<rect x="422" y="775.88" width="13.2" height="13.2" rx="2.6" fill="#1a1aff"/>
<rect x="444.3" y="747.23" width="13.2" height="13.2" rx="2.6" fill="#1a1aff"/>
<rect x="466.6" y="744.57" width="13.2" height="13.2" rx="2.6" fill="#1a1aff"/>
<rect x="488.9" y="749.23" width="13.2" height="13.2" rx="2.6" fill="#1a1aff"/>
<rect x="511.2" y="747.23" width="13.2" height="13.2" rx="2.6" fill="#1a1aff"/>
<rect x="533.5" y="725.92" width="13.2" height="13.2" rx="2.6" fill="#1a1aff"/>
<rect x="555.8" y="729.25" width="13.2" height="13.2" rx="2.6" fill="#1a1aff"/>
<rect x="578.1" y="717.26" width="13.2" height="13.2" rx="2.6" fill="#1a1aff"/>
<rect x="600.4" y="709.26" width="13.2" height="13.2" rx="2.6" fill="#1a1aff"/>
<rect x="622.7" y="685.94" width="13.2" height="13.2" rx="2.6" fill="#1a1aff"/>
<rect x="645" y="702.6" width="13.2" height="13.2" rx="2.6" fill="#1a1aff"/>
<rect x="667.3" y="689.27" width="13.2" height="13.2" rx="2.6" fill="#1a1aff"/>
<rect x="689.6" y="711.26" width="13.2" height="13.2" rx="2.6" fill="#1a1aff"/>
<rect x="711.9" y="695.94" width="13.2" height="13.2" rx="2.6" fill="#1a1aff"/>
<line x1="272.5" y1="789.14" x2="272.5" y2="835.78" stroke="#f4651c" stroke-width="2.2"/>
<line x1="267.2" y1="789.14" x2="277.8" y2="789.14" stroke="#f4651c" stroke-width="2.4"/>
<line x1="267.2" y1="835.78" x2="277.8" y2="835.78" stroke="#f4651c" stroke-width="2.4"/>
<line x1="294.8" y1="796.47" x2="294.8" y2="844.44" stroke="#f4651c" stroke-width="2.2"/>
<line x1="289.5" y1="796.47" x2="300.1" y2="796.47" stroke="#f4651c" stroke-width="2.4"/>
<line x1="289.5" y1="844.44" x2="300.1" y2="844.44" stroke="#f4651c" stroke-width="2.4"/>
<line x1="317.1" y1="817.79" x2="317.1" y2="867.09" stroke="#f4651c" stroke-width="2.2"/>
<line x1="311.8" y1="817.79" x2="322.4" y2="817.79" stroke="#f4651c" stroke-width="2.4"/>
<line x1="311.8" y1="867.09" x2="322.4" y2="867.09" stroke="#f4651c" stroke-width="2.4"/>
<line x1="339.4" y1="834.44" x2="339.4" y2="913.06" stroke="#f4651c" stroke-width="2.2"/>
<line x1="334.1" y1="834.44" x2="344.7" y2="834.44" stroke="#f4651c" stroke-width="2.4"/>
<line x1="334.1" y1="913.06" x2="344.7" y2="913.06" stroke="#f4651c" stroke-width="2.4"/>
<line x1="361.7" y1="867.09" x2="361.7" y2="911.06" stroke="#f4651c" stroke-width="2.2"/>
<line x1="356.4" y1="867.09" x2="367" y2="867.09" stroke="#f4651c" stroke-width="2.4"/>
<line x1="356.4" y1="911.06" x2="367" y2="911.06" stroke="#f4651c" stroke-width="2.4"/>
<line x1="384" y1="875.08" x2="384" y2="920.38" stroke="#f4651c" stroke-width="2.2"/>
<line x1="378.7" y1="875.08" x2="389.3" y2="875.08" stroke="#f4651c" stroke-width="2.4"/>
<line x1="378.7" y1="920.38" x2="389.3" y2="920.38" stroke="#f4651c" stroke-width="2.4"/>
<line x1="450.9" y1="823.12" x2="450.9" y2="841.77" stroke="#f4651c" stroke-width="2.2"/>
<line x1="445.6" y1="823.12" x2="456.2" y2="823.12" stroke="#f4651c" stroke-width="2.4"/>
<line x1="445.6" y1="841.77" x2="456.2" y2="841.77" stroke="#f4651c" stroke-width="2.4"/>
<line x1="473.2" y1="800.47" x2="473.2" y2="833.78" stroke="#f4651c" stroke-width="2.2"/>
<line x1="467.9" y1="800.47" x2="478.5" y2="800.47" stroke="#f4651c" stroke-width="2.4"/>
<line x1="467.9" y1="833.78" x2="478.5" y2="833.78" stroke="#f4651c" stroke-width="2.4"/>
<line x1="495.5" y1="759.16" x2="495.5" y2="832.45" stroke="#f4651c" stroke-width="2.2"/>
<line x1="490.2" y1="759.16" x2="500.8" y2="759.16" stroke="#f4651c" stroke-width="2.4"/>
<line x1="490.2" y1="832.45" x2="500.8" y2="832.45" stroke="#f4651c" stroke-width="2.4"/>
<line x1="517.8" y1="752.5" x2="517.8" y2="825.78" stroke="#f4651c" stroke-width="2.2"/>
<line x1="512.5" y1="752.5" x2="523.1" y2="752.5" stroke="#f4651c" stroke-width="2.4"/>
<line x1="512.5" y1="825.78" x2="523.1" y2="825.78" stroke="#f4651c" stroke-width="2.4"/>
<line x1="540.1" y1="734.51" x2="540.1" y2="819.79" stroke="#f4651c" stroke-width="2.2"/>
<line x1="534.8" y1="734.51" x2="545.4" y2="734.51" stroke="#f4651c" stroke-width="2.4"/>
<line x1="534.8" y1="819.79" x2="545.4" y2="819.79" stroke="#f4651c" stroke-width="2.4"/>
<line x1="562.4" y1="741.18" x2="562.4" y2="794.47" stroke="#f4651c" stroke-width="2.2"/>
<line x1="557.1" y1="741.18" x2="567.7" y2="741.18" stroke="#f4651c" stroke-width="2.4"/>
<line x1="557.1" y1="794.47" x2="567.7" y2="794.47" stroke="#f4651c" stroke-width="2.4"/>
<line x1="584.7" y1="717.86" x2="584.7" y2="777.82" stroke="#f4651c" stroke-width="2.2"/>
<line x1="579.4" y1="717.86" x2="590" y2="717.86" stroke="#f4651c" stroke-width="2.4"/>
<line x1="579.4" y1="777.82" x2="590" y2="777.82" stroke="#f4651c" stroke-width="2.4"/>
<line x1="607" y1="705.87" x2="607" y2="752.5" stroke="#f4651c" stroke-width="2.2"/>
<line x1="601.7" y1="705.87" x2="612.3" y2="705.87" stroke="#f4651c" stroke-width="2.4"/>
<line x1="601.7" y1="752.5" x2="612.3" y2="752.5" stroke="#f4651c" stroke-width="2.4"/>
<line x1="629.3" y1="693.21" x2="629.3" y2="759.83" stroke="#f4651c" stroke-width="2.2"/>
<line x1="624" y1="693.21" x2="634.6" y2="693.21" stroke="#f4651c" stroke-width="2.4"/>
<line x1="624" y1="759.83" x2="634.6" y2="759.83" stroke="#f4651c" stroke-width="2.4"/>
<line x1="651.6" y1="691.88" x2="651.6" y2="758.5" stroke="#f4651c" stroke-width="2.2"/>
<line x1="646.3" y1="691.88" x2="656.9" y2="691.88" stroke="#f4651c" stroke-width="2.4"/>
<line x1="646.3" y1="758.5" x2="656.9" y2="758.5" stroke="#f4651c" stroke-width="2.4"/>
<line x1="673.9" y1="703.2" x2="673.9" y2="749.84" stroke="#f4651c" stroke-width="2.2"/>
<line x1="668.6" y1="703.2" x2="679.2" y2="703.2" stroke="#f4651c" stroke-width="2.4"/>
<line x1="668.6" y1="749.84" x2="679.2" y2="749.84" stroke="#f4651c" stroke-width="2.4"/>
<line x1="696.2" y1="702.54" x2="696.2" y2="762.5" stroke="#f4651c" stroke-width="2.2"/>
<line x1="690.9" y1="702.54" x2="701.5" y2="702.54" stroke="#f4651c" stroke-width="2.4"/>
<line x1="690.9" y1="762.5" x2="701.5" y2="762.5" stroke="#f4651c" stroke-width="2.4"/>
<polyline points="250.2,815.12 272.5,812.46 294.8,820.45 317.1,842.44 339.4,873.75 361.7,889.07 384,897.73 406.3,855.76 428.6,864.42 450.9,832.45 473.2,817.12 495.5,795.81 517.8,789.14 540.1,777.15 562.4,767.82 584.7,747.84 607,729.19 629.3,726.52 651.6,725.19 673.9,726.52 696.2,732.52 718.5,699.21" fill="none" stroke="#f4651c" stroke-width="4.6" stroke-linejoin="round" stroke-linecap="round"/>
<circle cx="250.2" cy="815.12" r="7.3" fill="#f4651c"/>
<circle cx="272.5" cy="812.46" r="7.3" fill="#f4651c"/>
<circle cx="294.8" cy="820.45" r="7.3" fill="#f4651c"/>
<circle cx="317.1" cy="842.44" r="7.3" fill="#f4651c"/>
<circle cx="339.4" cy="873.75" r="7.3" fill="#f4651c"/>
<circle cx="361.7" cy="889.07" r="7.3" fill="#f4651c"/>
<circle cx="384" cy="897.73" r="7.3" fill="#f4651c"/>
<circle cx="406.3" cy="855.76" r="7.3" fill="#f4651c"/>
<circle cx="428.6" cy="864.42" r="7.3" fill="#f4651c"/>
<circle cx="450.9" cy="832.45" r="7.3" fill="#f4651c"/>
<circle cx="473.2" cy="817.12" r="7.3" fill="#f4651c"/>
<circle cx="495.5" cy="795.81" r="7.3" fill="#f4651c"/>
<circle cx="517.8" cy="789.14" r="7.3" fill="#f4651c"/>
<circle cx="540.1" cy="777.15" r="7.3" fill="#f4651c"/>
<circle cx="562.4" cy="767.82" r="7.3" fill="#f4651c"/>
<circle cx="584.7" cy="747.84" r="7.3" fill="#f4651c"/>
<circle cx="607" cy="729.19" r="7.3" fill="#f4651c"/>
<circle cx="629.3" cy="726.52" r="7.3" fill="#f4651c"/>
<circle cx="651.6" cy="725.19" r="7.3" fill="#f4651c"/>
<circle cx="673.9" cy="726.52" r="7.3" fill="#f4651c"/>
<circle cx="696.2" cy="732.52" r="7.3" fill="#f4651c"/>
<circle cx="718.5" cy="699.21" r="5.6" fill="#fff" fill-opacity="0.0" stroke="#f4651c" stroke-width="3.4"/>
<line x1="250.2" y1="767.82" x2="250.2" y2="857.1" stroke="#ff2a1a" stroke-width="2.2"/>
<line x1="244.9" y1="767.82" x2="255.5" y2="767.82" stroke="#ff2a1a" stroke-width="2.4"/>
<line x1="244.9" y1="857.1" x2="255.5" y2="857.1" stroke="#ff2a1a" stroke-width="2.4"/>
<line x1="272.5" y1="767.16" x2="272.5" y2="831.11" stroke="#ff2a1a" stroke-width="2.2"/>
<line x1="267.2" y1="767.16" x2="277.8" y2="767.16" stroke="#ff2a1a" stroke-width="2.4"/>
<line x1="267.2" y1="831.11" x2="277.8" y2="831.11" stroke="#ff2a1a" stroke-width="2.4"/>
<line x1="294.8" y1="741.84" x2="294.8" y2="819.12" stroke="#ff2a1a" stroke-width="2.2"/>
<line x1="289.5" y1="741.84" x2="300.1" y2="741.84" stroke="#ff2a1a" stroke-width="2.4"/>
<line x1="289.5" y1="819.12" x2="300.1" y2="819.12" stroke="#ff2a1a" stroke-width="2.4"/>
<line x1="317.1" y1="749.84" x2="317.1" y2="809.8" stroke="#ff2a1a" stroke-width="2.2"/>
<line x1="311.8" y1="749.84" x2="322.4" y2="749.84" stroke="#ff2a1a" stroke-width="2.4"/>
<line x1="311.8" y1="809.8" x2="322.4" y2="809.8" stroke="#ff2a1a" stroke-width="2.4"/>
<line x1="339.4" y1="739.18" x2="339.4" y2="801.8" stroke="#ff2a1a" stroke-width="2.2"/>
<line x1="334.1" y1="739.18" x2="344.7" y2="739.18" stroke="#ff2a1a" stroke-width="2.4"/>
<line x1="334.1" y1="801.8" x2="344.7" y2="801.8" stroke="#ff2a1a" stroke-width="2.4"/>
<line x1="361.7" y1="738.51" x2="361.7" y2="798.47" stroke="#ff2a1a" stroke-width="2.2"/>
<line x1="356.4" y1="738.51" x2="367" y2="738.51" stroke="#ff2a1a" stroke-width="2.4"/>
<line x1="356.4" y1="798.47" x2="367" y2="798.47" stroke="#ff2a1a" stroke-width="2.4"/>
<line x1="384" y1="737.85" x2="384" y2="797.8" stroke="#ff2a1a" stroke-width="2.2"/>
<line x1="378.7" y1="737.85" x2="389.3" y2="737.85" stroke="#ff2a1a" stroke-width="2.4"/>
<line x1="378.7" y1="797.8" x2="389.3" y2="797.8" stroke="#ff2a1a" stroke-width="2.4"/>
<line x1="406.3" y1="735.85" x2="406.3" y2="795.81" stroke="#ff2a1a" stroke-width="2.2"/>
<line x1="401" y1="735.85" x2="411.6" y2="735.85" stroke="#ff2a1a" stroke-width="2.4"/>
<line x1="401" y1="795.81" x2="411.6" y2="795.81" stroke="#ff2a1a" stroke-width="2.4"/>
<line x1="428.6" y1="729.85" x2="428.6" y2="792.47" stroke="#ff2a1a" stroke-width="2.2"/>
<line x1="423.3" y1="729.85" x2="433.9" y2="729.85" stroke="#ff2a1a" stroke-width="2.4"/>
<line x1="423.3" y1="792.47" x2="433.9" y2="792.47" stroke="#ff2a1a" stroke-width="2.4"/>
<line x1="450.9" y1="725.85" x2="450.9" y2="792.47" stroke="#ff2a1a" stroke-width="2.2"/>
<line x1="445.6" y1="725.85" x2="456.2" y2="725.85" stroke="#ff2a1a" stroke-width="2.4"/>
<line x1="445.6" y1="792.47" x2="456.2" y2="792.47" stroke="#ff2a1a" stroke-width="2.4"/>
<line x1="473.2" y1="718.53" x2="473.2" y2="789.14" stroke="#ff2a1a" stroke-width="2.2"/>
<line x1="467.9" y1="718.53" x2="478.5" y2="718.53" stroke="#ff2a1a" stroke-width="2.4"/>
<line x1="467.9" y1="789.14" x2="478.5" y2="789.14" stroke="#ff2a1a" stroke-width="2.4"/>
<line x1="495.5" y1="720.52" x2="495.5" y2="784.48" stroke="#ff2a1a" stroke-width="2.2"/>
<line x1="490.2" y1="720.52" x2="500.8" y2="720.52" stroke="#ff2a1a" stroke-width="2.4"/>
<line x1="490.2" y1="784.48" x2="500.8" y2="784.48" stroke="#ff2a1a" stroke-width="2.4"/>
<line x1="517.8" y1="719.19" x2="517.8" y2="785.81" stroke="#ff2a1a" stroke-width="2.2"/>
<line x1="512.5" y1="719.19" x2="523.1" y2="719.19" stroke="#ff2a1a" stroke-width="2.4"/>
<line x1="512.5" y1="785.81" x2="523.1" y2="785.81" stroke="#ff2a1a" stroke-width="2.4"/>
<line x1="540.1" y1="695.88" x2="540.1" y2="769.16" stroke="#ff2a1a" stroke-width="2.2"/>
<line x1="534.8" y1="695.88" x2="545.4" y2="695.88" stroke="#ff2a1a" stroke-width="2.4"/>
<line x1="534.8" y1="769.16" x2="545.4" y2="769.16" stroke="#ff2a1a" stroke-width="2.4"/>
<line x1="562.4" y1="695.88" x2="562.4" y2="769.16" stroke="#ff2a1a" stroke-width="2.2"/>
<line x1="557.1" y1="695.88" x2="567.7" y2="695.88" stroke="#ff2a1a" stroke-width="2.4"/>
<line x1="557.1" y1="769.16" x2="567.7" y2="769.16" stroke="#ff2a1a" stroke-width="2.4"/>
<line x1="584.7" y1="682.55" x2="584.7" y2="769.16" stroke="#ff2a1a" stroke-width="2.2"/>
<line x1="579.4" y1="682.55" x2="590" y2="682.55" stroke="#ff2a1a" stroke-width="2.4"/>
<line x1="579.4" y1="769.16" x2="590" y2="769.16" stroke="#ff2a1a" stroke-width="2.4"/>
<line x1="607" y1="675.89" x2="607" y2="755.83" stroke="#ff2a1a" stroke-width="2.2"/>
<line x1="601.7" y1="675.89" x2="612.3" y2="675.89" stroke="#ff2a1a" stroke-width="2.4"/>
<line x1="601.7" y1="755.83" x2="612.3" y2="755.83" stroke="#ff2a1a" stroke-width="2.4"/>
<line x1="629.3" y1="652.57" x2="629.3" y2="759.16" stroke="#ff2a1a" stroke-width="2.2"/>
<line x1="624" y1="652.57" x2="634.6" y2="652.57" stroke="#ff2a1a" stroke-width="2.4"/>
<line x1="624" y1="759.16" x2="634.6" y2="759.16" stroke="#ff2a1a" stroke-width="2.4"/>
<line x1="651.6" y1="659.23" x2="651.6" y2="752.5" stroke="#ff2a1a" stroke-width="2.2"/>
<line x1="646.3" y1="659.23" x2="656.9" y2="659.23" stroke="#ff2a1a" stroke-width="2.4"/>
<line x1="646.3" y1="752.5" x2="656.9" y2="752.5" stroke="#ff2a1a" stroke-width="2.4"/>
<line x1="673.9" y1="645.91" x2="673.9" y2="752.5" stroke="#ff2a1a" stroke-width="2.2"/>
<line x1="668.6" y1="645.91" x2="679.2" y2="645.91" stroke="#ff2a1a" stroke-width="2.4"/>
<line x1="668.6" y1="752.5" x2="679.2" y2="752.5" stroke="#ff2a1a" stroke-width="2.4"/>
<line x1="696.2" y1="642.58" x2="696.2" y2="762.5" stroke="#ff2a1a" stroke-width="2.2"/>
<line x1="690.9" y1="642.58" x2="701.5" y2="642.58" stroke="#ff2a1a" stroke-width="2.4"/>
<line x1="690.9" y1="762.5" x2="701.5" y2="762.5" stroke="#ff2a1a" stroke-width="2.4"/>
<line x1="718.5" y1="637.25" x2="718.5" y2="761.16" stroke="#ff2a1a" stroke-width="2.2"/>
<line x1="713.2" y1="637.25" x2="723.8" y2="637.25" stroke="#ff2a1a" stroke-width="2.4"/>
<line x1="713.2" y1="761.16" x2="723.8" y2="761.16" stroke="#ff2a1a" stroke-width="2.4"/>
<polyline points="250.2,812.46 272.5,799.14 294.8,780.48 317.1,779.82 339.4,770.49 361.7,768.49 384,767.82 406.3,765.83 428.6,761.16 450.9,759.16 473.2,753.83 495.5,752.5 517.8,752.5 540.1,732.52 562.4,732.52 584.7,725.85 607,715.86 629.3,705.87 651.6,705.87 673.9,699.21 696.2,702.54 718.5,699.21" fill="none" stroke="#ff2a1a" stroke-width="4.6" stroke-linejoin="round" stroke-linecap="round"/>
<path d="M250.2 808.86L253.8 812.46L250.2 816.06L246.6 812.46Z" fill="#ff2a1a"/>
<path d="M272.5 795.54L276.1 799.14L272.5 802.74L268.9 799.14Z" fill="#ff2a1a"/>
<path d="M294.8 776.88L298.4 780.48L294.8 784.08L291.2 780.48Z" fill="#ff2a1a"/>
<path d="M317.1 776.22L320.7 779.82L317.1 783.42L313.5 779.82Z" fill="#ff2a1a"/>
<path d="M339.4 766.89L343 770.49L339.4 774.09L335.8 770.49Z" fill="#ff2a1a"/>
<path d="M361.7 764.89L365.3 768.49L361.7 772.09L358.1 768.49Z" fill="#ff2a1a"/>
<path d="M384 764.22L387.6 767.82L384 771.42L380.4 767.82Z" fill="#ff2a1a"/>
<path d="M406.3 762.23L409.9 765.83L406.3 769.43L402.7 765.83Z" fill="#ff2a1a"/>
<path d="M428.6 757.56L432.2 761.16L428.6 764.76L425 761.16Z" fill="#ff2a1a"/>
<path d="M450.9 755.56L454.5 759.16L450.9 762.76L447.3 759.16Z" fill="#ff2a1a"/>
<path d="M473.2 750.23L476.8 753.83L473.2 757.43L469.6 753.83Z" fill="#ff2a1a"/>
<path d="M495.5 748.9L499.1 752.5L495.5 756.1L491.9 752.5Z" fill="#ff2a1a"/>
<path d="M517.8 748.9L521.4 752.5L517.8 756.1L514.2 752.5Z" fill="#ff2a1a"/>
<path d="M540.1 728.92L543.7 732.52L540.1 736.12L536.5 732.52Z" fill="#ff2a1a"/>
<path d="M562.4 728.92L566 732.52L562.4 736.12L558.8 732.52Z" fill="#ff2a1a"/>
<path d="M584.7 722.25L588.3 725.85L584.7 729.45L581.1 725.85Z" fill="#ff2a1a"/>
<path d="M607 712.26L610.6 715.86L607 719.46L603.4 715.86Z" fill="#ff2a1a"/>
<path d="M629.3 702.27L632.9 705.87L629.3 709.47L625.7 705.87Z" fill="#ff2a1a"/>
<path d="M651.6 702.27L655.2 705.87L651.6 709.47L648 705.87Z" fill="#ff2a1a"/>
<path d="M673.9 695.61L677.5 699.21L673.9 702.81L670.3 699.21Z" fill="#ff2a1a"/>
<path d="M696.2 698.94L699.8 702.54L696.2 706.14L692.6 702.54Z" fill="#ff2a1a"/>
<path d="M718.5 695.61L722.1 699.21L718.5 702.81L714.9 699.21Z" fill="#ff2a1a"/>
<line x1="250.2" y1="784.48" x2="250.2" y2="840.44" stroke="#3bff1a" stroke-width="2.2"/>
<line x1="244.9" y1="784.48" x2="255.5" y2="784.48" stroke="#3bff1a" stroke-width="2.4"/>
<line x1="244.9" y1="840.44" x2="255.5" y2="840.44" stroke="#3bff1a" stroke-width="2.4"/>
<line x1="272.5" y1="765.83" x2="272.5" y2="825.78" stroke="#3bff1a" stroke-width="2.2"/>
<line x1="267.2" y1="765.83" x2="277.8" y2="765.83" stroke="#3bff1a" stroke-width="2.4"/>
<line x1="267.2" y1="825.78" x2="277.8" y2="825.78" stroke="#3bff1a" stroke-width="2.4"/>
<line x1="294.8" y1="754.5" x2="294.8" y2="837.11" stroke="#3bff1a" stroke-width="2.2"/>
<line x1="289.5" y1="754.5" x2="300.1" y2="754.5" stroke="#3bff1a" stroke-width="2.4"/>
<line x1="289.5" y1="837.11" x2="300.1" y2="837.11" stroke="#3bff1a" stroke-width="2.4"/>
<line x1="317.1" y1="764.49" x2="317.1" y2="817.79" stroke="#3bff1a" stroke-width="2.2"/>
<line x1="311.8" y1="764.49" x2="322.4" y2="764.49" stroke="#3bff1a" stroke-width="2.4"/>
<line x1="311.8" y1="817.79" x2="322.4" y2="817.79" stroke="#3bff1a" stroke-width="2.4"/>
<line x1="339.4" y1="758.5" x2="339.4" y2="819.79" stroke="#3bff1a" stroke-width="2.2"/>
<line x1="334.1" y1="758.5" x2="344.7" y2="758.5" stroke="#3bff1a" stroke-width="2.4"/>
<line x1="334.1" y1="819.79" x2="344.7" y2="819.79" stroke="#3bff1a" stroke-width="2.4"/>
<line x1="361.7" y1="745.17" x2="361.7" y2="806.46" stroke="#3bff1a" stroke-width="2.2"/>
<line x1="356.4" y1="745.17" x2="367" y2="745.17" stroke="#3bff1a" stroke-width="2.4"/>
<line x1="356.4" y1="806.46" x2="367" y2="806.46" stroke="#3bff1a" stroke-width="2.4"/>
<line x1="384" y1="756.5" x2="384" y2="844.44" stroke="#3bff1a" stroke-width="2.2"/>
<line x1="378.7" y1="756.5" x2="389.3" y2="756.5" stroke="#3bff1a" stroke-width="2.4"/>
<line x1="378.7" y1="844.44" x2="389.3" y2="844.44" stroke="#3bff1a" stroke-width="2.4"/>
<line x1="406.3" y1="745.84" x2="406.3" y2="825.78" stroke="#3bff1a" stroke-width="2.2"/>
<line x1="401" y1="745.84" x2="411.6" y2="745.84" stroke="#3bff1a" stroke-width="2.4"/>
<line x1="401" y1="825.78" x2="411.6" y2="825.78" stroke="#3bff1a" stroke-width="2.4"/>
<line x1="428.6" y1="732.52" x2="428.6" y2="825.78" stroke="#3bff1a" stroke-width="2.2"/>
<line x1="423.3" y1="732.52" x2="433.9" y2="732.52" stroke="#3bff1a" stroke-width="2.4"/>
<line x1="423.3" y1="825.78" x2="433.9" y2="825.78" stroke="#3bff1a" stroke-width="2.4"/>
<line x1="450.9" y1="722.52" x2="450.9" y2="829.12" stroke="#3bff1a" stroke-width="2.2"/>
<line x1="445.6" y1="722.52" x2="456.2" y2="722.52" stroke="#3bff1a" stroke-width="2.4"/>
<line x1="445.6" y1="829.12" x2="456.2" y2="829.12" stroke="#3bff1a" stroke-width="2.4"/>
<line x1="473.2" y1="715.86" x2="473.2" y2="809.13" stroke="#3bff1a" stroke-width="2.2"/>
<line x1="467.9" y1="715.86" x2="478.5" y2="715.86" stroke="#3bff1a" stroke-width="2.4"/>
<line x1="467.9" y1="809.13" x2="478.5" y2="809.13" stroke="#3bff1a" stroke-width="2.4"/>
<line x1="495.5" y1="705.87" x2="495.5" y2="799.14" stroke="#3bff1a" stroke-width="2.2"/>
<line x1="490.2" y1="705.87" x2="500.8" y2="705.87" stroke="#3bff1a" stroke-width="2.4"/>
<line x1="490.2" y1="799.14" x2="500.8" y2="799.14" stroke="#3bff1a" stroke-width="2.4"/>
<line x1="517.8" y1="685.88" x2="517.8" y2="799.14" stroke="#3bff1a" stroke-width="2.2"/>
<line x1="512.5" y1="685.88" x2="523.1" y2="685.88" stroke="#3bff1a" stroke-width="2.4"/>
<line x1="512.5" y1="799.14" x2="523.1" y2="799.14" stroke="#3bff1a" stroke-width="2.4"/>
<line x1="540.1" y1="672.56" x2="540.1" y2="779.15" stroke="#3bff1a" stroke-width="2.2"/>
<line x1="534.8" y1="672.56" x2="545.4" y2="672.56" stroke="#3bff1a" stroke-width="2.4"/>
<line x1="534.8" y1="779.15" x2="545.4" y2="779.15" stroke="#3bff1a" stroke-width="2.4"/>
<line x1="562.4" y1="692.54" x2="562.4" y2="779.15" stroke="#3bff1a" stroke-width="2.2"/>
<line x1="557.1" y1="692.54" x2="567.7" y2="692.54" stroke="#3bff1a" stroke-width="2.4"/>
<line x1="557.1" y1="779.15" x2="567.7" y2="779.15" stroke="#3bff1a" stroke-width="2.4"/>
<line x1="584.7" y1="669.23" x2="584.7" y2="755.83" stroke="#3bff1a" stroke-width="2.2"/>
<line x1="579.4" y1="669.23" x2="590" y2="669.23" stroke="#3bff1a" stroke-width="2.4"/>
<line x1="579.4" y1="755.83" x2="590" y2="755.83" stroke="#3bff1a" stroke-width="2.4"/>
<line x1="607" y1="634.58" x2="607" y2="743.84" stroke="#3bff1a" stroke-width="2.2"/>
<line x1="601.7" y1="634.58" x2="612.3" y2="634.58" stroke="#3bff1a" stroke-width="2.4"/>
<line x1="601.7" y1="743.84" x2="612.3" y2="743.84" stroke="#3bff1a" stroke-width="2.4"/>
<line x1="629.3" y1="627.26" x2="629.3" y2="711.2" stroke="#3bff1a" stroke-width="2.2"/>
<line x1="624" y1="627.26" x2="634.6" y2="627.26" stroke="#3bff1a" stroke-width="2.4"/>
<line x1="624" y1="711.2" x2="634.6" y2="711.2" stroke="#3bff1a" stroke-width="2.4"/>
<line x1="651.6" y1="635.92" x2="651.6" y2="735.85" stroke="#3bff1a" stroke-width="2.2"/>
<line x1="646.3" y1="635.92" x2="656.9" y2="635.92" stroke="#3bff1a" stroke-width="2.4"/>
<line x1="646.3" y1="735.85" x2="656.9" y2="735.85" stroke="#3bff1a" stroke-width="2.4"/>
<line x1="673.9" y1="635.92" x2="673.9" y2="729.18" stroke="#3bff1a" stroke-width="2.2"/>
<line x1="668.6" y1="635.92" x2="679.2" y2="635.92" stroke="#3bff1a" stroke-width="2.4"/>
<line x1="668.6" y1="729.18" x2="679.2" y2="729.18" stroke="#3bff1a" stroke-width="2.4"/>
<line x1="696.2" y1="652.57" x2="696.2" y2="739.18" stroke="#3bff1a" stroke-width="2.2"/>
<line x1="690.9" y1="652.57" x2="701.5" y2="652.57" stroke="#3bff1a" stroke-width="2.4"/>
<line x1="690.9" y1="739.18" x2="701.5" y2="739.18" stroke="#3bff1a" stroke-width="2.4"/>
<line x1="718.5" y1="642.58" x2="718.5" y2="735.85" stroke="#3bff1a" stroke-width="2.2"/>
<line x1="713.2" y1="642.58" x2="723.8" y2="642.58" stroke="#3bff1a" stroke-width="2.4"/>
<line x1="713.2" y1="735.85" x2="723.8" y2="735.85" stroke="#3bff1a" stroke-width="2.4"/>
<polyline points="250.2,812.46 272.5,795.81 294.8,795.81 317.1,791.14 339.4,789.14 361.7,775.82 384,800.47 406.3,785.81 428.6,779.15 450.9,775.82 473.2,762.5 495.5,752.5 517.8,742.51 540.1,725.85 562.4,735.85 584.7,712.53 607,689.21 629.3,669.23 651.6,685.88 673.9,682.55 696.2,695.88 718.5,689.21" fill="none" stroke="#3bff1a" stroke-width="4.6" stroke-linejoin="round" stroke-linecap="round"/>
<path d="M250.2 816.36L253.6 809.56L246.8 809.56Z" fill="#3bff1a"/>
<path d="M272.5 799.71L275.9 792.91L269.1 792.91Z" fill="#3bff1a"/>
<path d="M294.8 799.71L298.2 792.91L291.4 792.91Z" fill="#3bff1a"/>
<path d="M317.1 795.04L320.5 788.24L313.7 788.24Z" fill="#3bff1a"/>
<path d="M339.4 793.04L342.8 786.24L336 786.24Z" fill="#3bff1a"/>
<path d="M361.7 779.72L365.1 772.92L358.3 772.92Z" fill="#3bff1a"/>
<path d="M384 804.37L387.4 797.57L380.6 797.57Z" fill="#3bff1a"/>
<path d="M406.3 789.71L409.7 782.91L402.9 782.91Z" fill="#3bff1a"/>
<path d="M428.6 783.05L432 776.25L425.2 776.25Z" fill="#3bff1a"/>
<path d="M450.9 779.72L454.3 772.92L447.5 772.92Z" fill="#3bff1a"/>
<path d="M473.2 766.39L476.6 759.6L469.8 759.6Z" fill="#3bff1a"/>
<path d="M495.5 756.4L498.9 749.6L492.1 749.6Z" fill="#3bff1a"/>
<path d="M517.8 746.41L521.2 739.61L514.4 739.61Z" fill="#3bff1a"/>
<path d="M540.1 729.75L543.5 722.95L536.7 722.95Z" fill="#3bff1a"/>
<path d="M562.4 739.75L565.8 732.95L559 732.95Z" fill="#3bff1a"/>
<path d="M584.7 716.43L588.1 709.63L581.3 709.63Z" fill="#3bff1a"/>
<path d="M607 693.11L610.4 686.31L603.6 686.31Z" fill="#3bff1a"/>
<path d="M629.3 673.13L632.7 666.33L625.9 666.33Z" fill="#3bff1a"/>
<path d="M651.6 689.78L655 682.98L648.2 682.98Z" fill="#3bff1a"/>
<path d="M673.9 686.45L677.3 679.65L670.5 679.65Z" fill="#3bff1a"/>
<path d="M696.2 699.77L699.6 692.98L692.8 692.98Z" fill="#3bff1a"/>
<path d="M718.5 693.11L721.9 686.31L715.1 686.31Z" fill="#3bff1a"/>
<line x1="250.2" y1="789.14" x2="250.2" y2="835.78" stroke="#c2c53a" stroke-width="2.2"/>
<line x1="244.9" y1="789.14" x2="255.5" y2="789.14" stroke="#c2c53a" stroke-width="2.4"/>
<line x1="244.9" y1="835.78" x2="255.5" y2="835.78" stroke="#c2c53a" stroke-width="2.4"/>
<line x1="272.5" y1="772.49" x2="272.5" y2="832.45" stroke="#c2c53a" stroke-width="2.2"/>
<line x1="267.2" y1="772.49" x2="277.8" y2="772.49" stroke="#c2c53a" stroke-width="2.4"/>
<line x1="267.2" y1="832.45" x2="277.8" y2="832.45" stroke="#c2c53a" stroke-width="2.4"/>
<line x1="294.8" y1="765.83" x2="294.8" y2="812.46" stroke="#c2c53a" stroke-width="2.2"/>
<line x1="289.5" y1="765.83" x2="300.1" y2="765.83" stroke="#c2c53a" stroke-width="2.4"/>
<line x1="289.5" y1="812.46" x2="300.1" y2="812.46" stroke="#c2c53a" stroke-width="2.4"/>
<line x1="317.1" y1="753.83" x2="317.1" y2="817.79" stroke="#c2c53a" stroke-width="2.2"/>
<line x1="311.8" y1="753.83" x2="322.4" y2="753.83" stroke="#c2c53a" stroke-width="2.4"/>
<line x1="311.8" y1="817.79" x2="322.4" y2="817.79" stroke="#c2c53a" stroke-width="2.4"/>
<line x1="339.4" y1="761.83" x2="339.4" y2="805.8" stroke="#c2c53a" stroke-width="2.2"/>
<line x1="334.1" y1="761.83" x2="344.7" y2="761.83" stroke="#c2c53a" stroke-width="2.4"/>
<line x1="334.1" y1="805.8" x2="344.7" y2="805.8" stroke="#c2c53a" stroke-width="2.4"/>
<line x1="361.7" y1="733.85" x2="361.7" y2="804.47" stroke="#c2c53a" stroke-width="2.2"/>
<line x1="356.4" y1="733.85" x2="367" y2="733.85" stroke="#c2c53a" stroke-width="2.4"/>
<line x1="356.4" y1="804.47" x2="367" y2="804.47" stroke="#c2c53a" stroke-width="2.4"/>
<line x1="384" y1="732.52" x2="384" y2="805.8" stroke="#c2c53a" stroke-width="2.2"/>
<line x1="378.7" y1="732.52" x2="389.3" y2="732.52" stroke="#c2c53a" stroke-width="2.4"/>
<line x1="378.7" y1="805.8" x2="389.3" y2="805.8" stroke="#c2c53a" stroke-width="2.4"/>
<line x1="406.3" y1="752.5" x2="406.3" y2="796.47" stroke="#c2c53a" stroke-width="2.2"/>
<line x1="401" y1="752.5" x2="411.6" y2="752.5" stroke="#c2c53a" stroke-width="2.4"/>
<line x1="401" y1="796.47" x2="411.6" y2="796.47" stroke="#c2c53a" stroke-width="2.4"/>
<line x1="428.6" y1="711.2" x2="428.6" y2="773.82" stroke="#c2c53a" stroke-width="2.2"/>
<line x1="423.3" y1="711.2" x2="433.9" y2="711.2" stroke="#c2c53a" stroke-width="2.4"/>
<line x1="423.3" y1="773.82" x2="433.9" y2="773.82" stroke="#c2c53a" stroke-width="2.4"/>
<line x1="450.9" y1="703.87" x2="450.9" y2="770.49" stroke="#c2c53a" stroke-width="2.2"/>
<line x1="445.6" y1="703.87" x2="456.2" y2="703.87" stroke="#c2c53a" stroke-width="2.4"/>
<line x1="445.6" y1="770.49" x2="456.2" y2="770.49" stroke="#c2c53a" stroke-width="2.4"/>
<line x1="473.2" y1="705.87" x2="473.2" y2="769.82" stroke="#c2c53a" stroke-width="2.2"/>
<line x1="467.9" y1="705.87" x2="478.5" y2="705.87" stroke="#c2c53a" stroke-width="2.4"/>
<line x1="467.9" y1="769.82" x2="478.5" y2="769.82" stroke="#c2c53a" stroke-width="2.4"/>
<line x1="495.5" y1="698.54" x2="495.5" y2="770.49" stroke="#c2c53a" stroke-width="2.2"/>
<line x1="490.2" y1="698.54" x2="500.8" y2="698.54" stroke="#c2c53a" stroke-width="2.4"/>
<line x1="490.2" y1="770.49" x2="500.8" y2="770.49" stroke="#c2c53a" stroke-width="2.4"/>
<line x1="517.8" y1="691.88" x2="517.8" y2="762.5" stroke="#c2c53a" stroke-width="2.2"/>
<line x1="512.5" y1="691.88" x2="523.1" y2="691.88" stroke="#c2c53a" stroke-width="2.4"/>
<line x1="512.5" y1="762.5" x2="523.1" y2="762.5" stroke="#c2c53a" stroke-width="2.4"/>
<line x1="540.1" y1="687.21" x2="540.1" y2="747.17" stroke="#c2c53a" stroke-width="2.2"/>
<line x1="534.8" y1="687.21" x2="545.4" y2="687.21" stroke="#c2c53a" stroke-width="2.4"/>
<line x1="534.8" y1="747.17" x2="545.4" y2="747.17" stroke="#c2c53a" stroke-width="2.4"/>
<line x1="562.4" y1="689.88" x2="562.4" y2="749.84" stroke="#c2c53a" stroke-width="2.2"/>
<line x1="557.1" y1="689.88" x2="567.7" y2="689.88" stroke="#c2c53a" stroke-width="2.4"/>
<line x1="557.1" y1="749.84" x2="567.7" y2="749.84" stroke="#c2c53a" stroke-width="2.4"/>
<line x1="584.7" y1="661.9" x2="584.7" y2="739.18" stroke="#c2c53a" stroke-width="2.2"/>
<line x1="579.4" y1="661.9" x2="590" y2="661.9" stroke="#c2c53a" stroke-width="2.4"/>
<line x1="579.4" y1="739.18" x2="590" y2="739.18" stroke="#c2c53a" stroke-width="2.4"/>
<line x1="607" y1="637.92" x2="607" y2="731.18" stroke="#c2c53a" stroke-width="2.2"/>
<line x1="601.7" y1="637.92" x2="612.3" y2="637.92" stroke="#c2c53a" stroke-width="2.4"/>
<line x1="601.7" y1="731.18" x2="612.3" y2="731.18" stroke="#c2c53a" stroke-width="2.4"/>
<line x1="629.3" y1="624.59" x2="629.3" y2="717.86" stroke="#c2c53a" stroke-width="2.2"/>
<line x1="624" y1="624.59" x2="634.6" y2="624.59" stroke="#c2c53a" stroke-width="2.4"/>
<line x1="624" y1="717.86" x2="634.6" y2="717.86" stroke="#c2c53a" stroke-width="2.4"/>
<line x1="651.6" y1="649.24" x2="651.6" y2="722.52" stroke="#c2c53a" stroke-width="2.2"/>
<line x1="646.3" y1="649.24" x2="656.9" y2="649.24" stroke="#c2c53a" stroke-width="2.4"/>
<line x1="646.3" y1="722.52" x2="656.9" y2="722.52" stroke="#c2c53a" stroke-width="2.4"/>
<line x1="673.9" y1="643.91" x2="673.9" y2="723.86" stroke="#c2c53a" stroke-width="2.2"/>
<line x1="668.6" y1="643.91" x2="679.2" y2="643.91" stroke="#c2c53a" stroke-width="2.4"/>
<line x1="668.6" y1="723.86" x2="679.2" y2="723.86" stroke="#c2c53a" stroke-width="2.4"/>
<line x1="696.2" y1="620.59" x2="696.2" y2="713.86" stroke="#c2c53a" stroke-width="2.2"/>
<line x1="690.9" y1="620.59" x2="701.5" y2="620.59" stroke="#c2c53a" stroke-width="2.4"/>
<line x1="690.9" y1="713.86" x2="701.5" y2="713.86" stroke="#c2c53a" stroke-width="2.4"/>
<line x1="718.5" y1="617.93" x2="718.5" y2="713.86" stroke="#c2c53a" stroke-width="2.2"/>
<line x1="713.2" y1="617.93" x2="723.8" y2="617.93" stroke="#c2c53a" stroke-width="2.4"/>
<line x1="713.2" y1="713.86" x2="723.8" y2="713.86" stroke="#c2c53a" stroke-width="2.4"/>
<polyline points="250.2,812.46 272.5,802.47 294.8,789.14 317.1,785.81 339.4,783.81 361.7,769.16 384,769.16 406.3,774.49 428.6,742.51 450.9,737.18 473.2,737.85 495.5,734.51 517.8,727.19 540.1,717.19 562.4,719.86 584.7,700.54 607,684.55 629.3,671.23 651.6,685.88 673.9,683.88 696.2,667.23 718.5,665.9" fill="none" stroke="#c2c53a" stroke-width="4.6" stroke-linejoin="round" stroke-linecap="round"/>
<path d="M250.2 808.56L253.6 815.36L246.8 815.36Z" fill="#c2c53a"/>
<path d="M272.5 798.57L275.9 805.37L269.1 805.37Z" fill="#c2c53a"/>
<path d="M294.8 785.24L298.2 792.04L291.4 792.04Z" fill="#c2c53a"/>
<path d="M317.1 781.91L320.5 788.71L313.7 788.71Z" fill="#c2c53a"/>
<path d="M339.4 779.91L342.8 786.71L336 786.71Z" fill="#c2c53a"/>
<path d="M361.7 765.26L365.1 772.06L358.3 772.06Z" fill="#c2c53a"/>
<path d="M384 765.26L387.4 772.06L380.6 772.06Z" fill="#c2c53a"/>
<path d="M406.3 770.59L409.7 777.39L402.9 777.39Z" fill="#c2c53a"/>
<path d="M428.6 738.61L432 745.41L425.2 745.41Z" fill="#c2c53a"/>
<path d="M450.9 733.28L454.3 740.08L447.5 740.08Z" fill="#c2c53a"/>
<path d="M473.2 733.95L476.6 740.75L469.8 740.75Z" fill="#c2c53a"/>
<path d="M495.5 730.61L498.9 737.41L492.1 737.41Z" fill="#c2c53a"/>
<path d="M517.8 723.29L521.2 730.09L514.4 730.09Z" fill="#c2c53a"/>
<path d="M540.1 713.29L543.5 720.09L536.7 720.09Z" fill="#c2c53a"/>
<path d="M562.4 715.96L565.8 722.76L559 722.76Z" fill="#c2c53a"/>
<path d="M584.7 696.64L588.1 703.44L581.3 703.44Z" fill="#c2c53a"/>
<path d="M607 680.65L610.4 687.45L603.6 687.45Z" fill="#c2c53a"/>
<path d="M629.3 667.33L632.7 674.13L625.9 674.13Z" fill="#c2c53a"/>
<path d="M651.6 681.98L655 688.78L648.2 688.78Z" fill="#c2c53a"/>
<path d="M673.9 679.98L677.3 686.78L670.5 686.78Z" fill="#c2c53a"/>
<path d="M696.2 663.33L699.6 670.13L692.8 670.13Z" fill="#c2c53a"/>
<path d="M718.5 662L721.9 668.8L715.1 668.8Z" fill="#c2c53a"/>
<line x1="272.5" y1="770.49" x2="272.5" y2="801.13" stroke="#000" stroke-width="2.2"/>
<line x1="267.2" y1="770.49" x2="277.8" y2="770.49" stroke="#000" stroke-width="2.4"/>
<line x1="267.2" y1="801.13" x2="277.8" y2="801.13" stroke="#000" stroke-width="2.4"/>
<line x1="317.1" y1="821.12" x2="317.1" y2="850.43" stroke="#000" stroke-width="2.2"/>
<line x1="311.8" y1="821.12" x2="322.4" y2="821.12" stroke="#000" stroke-width="2.4"/>
<line x1="311.8" y1="850.43" x2="322.4" y2="850.43" stroke="#000" stroke-width="2.4"/>
<line x1="339.4" y1="863.76" x2="339.4" y2="898.4" stroke="#000" stroke-width="2.2"/>
<line x1="334.1" y1="863.76" x2="344.7" y2="863.76" stroke="#000" stroke-width="2.4"/>
<line x1="334.1" y1="898.4" x2="344.7" y2="898.4" stroke="#000" stroke-width="2.4"/>
<polyline points="250.2,812.46 272.5,785.81 294.8,802.47 317.1,835.78 339.4,881.08 361.7,894.4 384,927.71 406.3,891.07 428.6,913.72 450.9,883.74 473.2,854.43 495.5,825.12 517.8,832.45 540.1,805.8 562.4,799.14 584.7,780.48 607,765.83 629.3,791.81 651.6,761.83 673.9,743.18 696.2,724.52 718.5,724.52" fill="none" stroke="#000" stroke-width="4.6" stroke-linejoin="round" stroke-linecap="round"/>
<rect x="245.3" y="807.56" width="9.8" height="9.8" fill="#000"/>
<rect x="267.6" y="780.91" width="9.8" height="9.8" fill="#000"/>
<rect x="289.9" y="797.57" width="9.8" height="9.8" fill="#000"/>
<rect x="312.2" y="830.88" width="9.8" height="9.8" fill="#000"/>
<rect x="334.5" y="876.18" width="9.8" height="9.8" fill="#000"/>
<rect x="356.8" y="889.5" width="9.8" height="9.8" fill="#000"/>
<rect x="379.1" y="922.81" width="9.8" height="9.8" fill="#000"/>
<rect x="401.4" y="886.17" width="9.8" height="9.8" fill="#000"/>
<rect x="423.7" y="908.82" width="9.8" height="9.8" fill="#000"/>
<rect x="446" y="878.84" width="9.8" height="9.8" fill="#000"/>
<rect x="468.3" y="849.53" width="9.8" height="9.8" fill="#000"/>
<rect x="490.6" y="820.22" width="9.8" height="9.8" fill="#000"/>
<rect x="512.9" y="827.55" width="9.8" height="9.8" fill="#000"/>
<rect x="535.2" y="800.9" width="9.8" height="9.8" fill="#000"/>
<rect x="557.5" y="794.24" width="9.8" height="9.8" fill="#000"/>
<rect x="579.8" y="775.58" width="9.8" height="9.8" fill="#000"/>
<rect x="602.1" y="760.93" width="9.8" height="9.8" fill="#000"/>
<rect x="624.4" y="786.91" width="9.8" height="9.8" fill="#000"/>
<rect x="646.7" y="756.93" width="9.8" height="9.8" fill="#000"/>
<rect x="669" y="738.28" width="9.8" height="9.8" fill="#000"/>
<rect x="691.3" y="719.62" width="9.8" height="9.8" fill="#000"/>
<rect x="713.6" y="719.62" width="9.8" height="9.8" fill="#000"/>
<line x1="250.2" y1="790.48" x2="250.2" y2="834.44" stroke="#000" stroke-width="2.2"/>
<line x1="244.9" y1="790.48" x2="255.5" y2="790.48" stroke="#000" stroke-width="2.4"/>
<line x1="244.9" y1="834.44" x2="255.5" y2="834.44" stroke="#000" stroke-width="2.4"/>
<line x1="272.5" y1="780.48" x2="272.5" y2="837.78" stroke="#000" stroke-width="2.2"/>
<line x1="267.2" y1="780.48" x2="277.8" y2="780.48" stroke="#000" stroke-width="2.4"/>
<line x1="267.2" y1="837.78" x2="277.8" y2="837.78" stroke="#000" stroke-width="2.4"/>
<line x1="294.8" y1="753.83" x2="294.8" y2="825.78" stroke="#000" stroke-width="2.2"/>
<line x1="289.5" y1="753.83" x2="300.1" y2="753.83" stroke="#000" stroke-width="2.4"/>
<line x1="289.5" y1="825.78" x2="300.1" y2="825.78" stroke="#000" stroke-width="2.4"/>
<line x1="317.1" y1="769.16" x2="317.1" y2="813.13" stroke="#000" stroke-width="2.2"/>
<line x1="311.8" y1="769.16" x2="322.4" y2="769.16" stroke="#000" stroke-width="2.4"/>
<line x1="311.8" y1="813.13" x2="322.4" y2="813.13" stroke="#000" stroke-width="2.4"/>
<line x1="339.4" y1="765.83" x2="339.4" y2="816.46" stroke="#000" stroke-width="2.2"/>
<line x1="334.1" y1="765.83" x2="344.7" y2="765.83" stroke="#000" stroke-width="2.4"/>
<line x1="334.1" y1="816.46" x2="344.7" y2="816.46" stroke="#000" stroke-width="2.4"/>
<line x1="361.7" y1="770.49" x2="361.7" y2="809.13" stroke="#000" stroke-width="2.2"/>
<line x1="356.4" y1="770.49" x2="367" y2="770.49" stroke="#000" stroke-width="2.4"/>
<line x1="356.4" y1="809.13" x2="367" y2="809.13" stroke="#000" stroke-width="2.4"/>
<line x1="384" y1="771.16" x2="384" y2="812.46" stroke="#000" stroke-width="2.2"/>
<line x1="378.7" y1="771.16" x2="389.3" y2="771.16" stroke="#000" stroke-width="2.4"/>
<line x1="378.7" y1="812.46" x2="389.3" y2="812.46" stroke="#000" stroke-width="2.4"/>
<line x1="406.3" y1="753.83" x2="406.3" y2="817.79" stroke="#000" stroke-width="2.2"/>
<line x1="401" y1="753.83" x2="411.6" y2="753.83" stroke="#000" stroke-width="2.4"/>
<line x1="401" y1="817.79" x2="411.6" y2="817.79" stroke="#000" stroke-width="2.4"/>
<line x1="428.6" y1="741.84" x2="428.6" y2="805.8" stroke="#000" stroke-width="2.2"/>
<line x1="423.3" y1="741.84" x2="433.9" y2="741.84" stroke="#000" stroke-width="2.4"/>
<line x1="423.3" y1="805.8" x2="433.9" y2="805.8" stroke="#000" stroke-width="2.4"/>
<line x1="450.9" y1="739.18" x2="450.9" y2="801.8" stroke="#000" stroke-width="2.2"/>
<line x1="445.6" y1="739.18" x2="456.2" y2="739.18" stroke="#000" stroke-width="2.4"/>
<line x1="445.6" y1="801.8" x2="456.2" y2="801.8" stroke="#000" stroke-width="2.4"/>
<line x1="473.2" y1="745.17" x2="473.2" y2="797.14" stroke="#000" stroke-width="2.2"/>
<line x1="467.9" y1="745.17" x2="478.5" y2="745.17" stroke="#000" stroke-width="2.4"/>
<line x1="467.9" y1="797.14" x2="478.5" y2="797.14" stroke="#000" stroke-width="2.4"/>
<line x1="495.5" y1="745.17" x2="495.5" y2="797.14" stroke="#000" stroke-width="2.2"/>
<line x1="490.2" y1="745.17" x2="500.8" y2="745.17" stroke="#000" stroke-width="2.4"/>
<line x1="490.2" y1="797.14" x2="500.8" y2="797.14" stroke="#000" stroke-width="2.4"/>
<line x1="517.8" y1="736.51" x2="517.8" y2="779.15" stroke="#000" stroke-width="2.2"/>
<line x1="512.5" y1="736.51" x2="523.1" y2="736.51" stroke="#000" stroke-width="2.4"/>
<line x1="512.5" y1="779.15" x2="523.1" y2="779.15" stroke="#000" stroke-width="2.4"/>
<line x1="540.1" y1="713.2" x2="540.1" y2="761.16" stroke="#000" stroke-width="2.2"/>
<line x1="534.8" y1="713.2" x2="545.4" y2="713.2" stroke="#000" stroke-width="2.4"/>
<line x1="534.8" y1="761.16" x2="545.4" y2="761.16" stroke="#000" stroke-width="2.4"/>
<line x1="562.4" y1="699.21" x2="562.4" y2="769.82" stroke="#000" stroke-width="2.2"/>
<line x1="557.1" y1="699.21" x2="567.7" y2="699.21" stroke="#000" stroke-width="2.4"/>
<line x1="557.1" y1="769.82" x2="567.7" y2="769.82" stroke="#000" stroke-width="2.4"/>
<line x1="584.7" y1="700.54" x2="584.7" y2="764.49" stroke="#000" stroke-width="2.2"/>
<line x1="579.4" y1="700.54" x2="590" y2="700.54" stroke="#000" stroke-width="2.4"/>
<line x1="579.4" y1="764.49" x2="590" y2="764.49" stroke="#000" stroke-width="2.4"/>
<line x1="607" y1="678.55" x2="607" y2="765.16" stroke="#000" stroke-width="2.2"/>
<line x1="601.7" y1="678.55" x2="612.3" y2="678.55" stroke="#000" stroke-width="2.4"/>
<line x1="601.7" y1="765.16" x2="612.3" y2="765.16" stroke="#000" stroke-width="2.4"/>
<line x1="629.3" y1="661.9" x2="629.3" y2="751.17" stroke="#000" stroke-width="2.2"/>
<line x1="624" y1="661.9" x2="634.6" y2="661.9" stroke="#000" stroke-width="2.4"/>
<line x1="624" y1="751.17" x2="634.6" y2="751.17" stroke="#000" stroke-width="2.4"/>
<line x1="651.6" y1="657.9" x2="651.6" y2="745.84" stroke="#000" stroke-width="2.2"/>
<line x1="646.3" y1="657.9" x2="656.9" y2="657.9" stroke="#000" stroke-width="2.4"/>
<line x1="646.3" y1="745.84" x2="656.9" y2="745.84" stroke="#000" stroke-width="2.4"/>
<line x1="673.9" y1="677.89" x2="673.9" y2="731.18" stroke="#000" stroke-width="2.2"/>
<line x1="668.6" y1="677.89" x2="679.2" y2="677.89" stroke="#000" stroke-width="2.4"/>
<line x1="668.6" y1="731.18" x2="679.2" y2="731.18" stroke="#000" stroke-width="2.4"/>
<line x1="696.2" y1="667.23" x2="696.2" y2="737.85" stroke="#000" stroke-width="2.2"/>
<line x1="690.9" y1="667.23" x2="701.5" y2="667.23" stroke="#000" stroke-width="2.4"/>
<line x1="690.9" y1="737.85" x2="701.5" y2="737.85" stroke="#000" stroke-width="2.4"/>
<line x1="718.5" y1="669.89" x2="718.5" y2="723.19" stroke="#000" stroke-width="2.2"/>
<line x1="713.2" y1="669.89" x2="723.8" y2="669.89" stroke="#000" stroke-width="2.4"/>
<line x1="713.2" y1="723.19" x2="723.8" y2="723.19" stroke="#000" stroke-width="2.4"/>
<polyline points="250.2,812.46 272.5,809.13 294.8,789.81 317.1,791.14 339.4,791.14 361.7,789.81 384,791.81 406.3,785.81 428.6,773.82 450.9,770.49 473.2,771.16 495.5,771.16 517.8,757.83 540.1,737.18 562.4,734.51 584.7,732.52 607,721.86 629.3,706.53 651.6,701.87 673.9,704.54 696.2,702.54 718.5,696.54" fill="none" stroke="#000" stroke-width="4.6" stroke-linejoin="round" stroke-linecap="round"/>
<circle cx="250.2" cy="812.46" r="7.3" fill="#000"/>
<circle cx="272.5" cy="809.13" r="7.3" fill="#000"/>
<circle cx="294.8" cy="789.81" r="7.3" fill="#000"/>
<circle cx="317.1" cy="791.14" r="7.3" fill="#000"/>
<circle cx="339.4" cy="791.14" r="7.3" fill="#000"/>
<circle cx="361.7" cy="789.81" r="7.3" fill="#000"/>
<circle cx="384" cy="791.81" r="7.3" fill="#000"/>
<circle cx="406.3" cy="785.81" r="7.3" fill="#000"/>
<circle cx="428.6" cy="773.82" r="7.3" fill="#000"/>
<circle cx="450.9" cy="770.49" r="7.3" fill="#000"/>
<circle cx="473.2" cy="771.16" r="7.3" fill="#000"/>
<circle cx="495.5" cy="771.16" r="7.3" fill="#000"/>
<circle cx="517.8" cy="757.83" r="7.3" fill="#000"/>
<circle cx="540.1" cy="737.18" r="7.3" fill="#000"/>
<circle cx="562.4" cy="734.51" r="7.3" fill="#000"/>
<circle cx="584.7" cy="732.52" r="7.3" fill="#000"/>
<circle cx="607" cy="721.86" r="7.3" fill="#000"/>
<circle cx="629.3" cy="706.53" r="7.3" fill="#000"/>
<circle cx="651.6" cy="701.87" r="7.3" fill="#000"/>
<circle cx="673.9" cy="704.54" r="7.3" fill="#000"/>
<circle cx="696.2" cy="702.54" r="7.3" fill="#000"/>
<circle cx="718.5" cy="696.54" r="5.6" fill="#fff" fill-opacity="0.0" stroke="#000" stroke-width="3.4"/>
</g>
<text font-size="24.4" transform="translate(486 589.7) scale(1.03 1)" font-weight="bold" text-anchor="middle">BALB/c 2.5×10<tspan dy="-9.5" font-size="20">5</tspan><tspan dy="9.5">PFU</tspan></text>
<text x="505.5" y="1011" font-size="24.5" font-weight="bold" text-anchor="middle" textLength="233" lengthAdjust="spacingAndGlyphs">Days post infection</text>
<text x="170.5" y="779.95" font-size="25" transform="rotate(-90 170.5 779.95)" font-weight="bold" text-anchor="middle" textLength="161.5" lengthAdjust="spacingAndGlyphs">Body weight (%)</text>
<line x1="766.2" y1="684.1" x2="793.6" y2="684.1" stroke="#000" stroke-width="4.6"/>
<circle cx="779.9" cy="684.1" r="7.3" fill="#000"/>
<text x="806.2" y="691.7" font-size="21" font-weight="bold">PBS</text>
<line x1="766.2" y1="718.5" x2="793.6" y2="718.5" stroke="#000" stroke-width="4.6"/>
<rect x="775" y="713.6" width="9.8" height="9.8" fill="#000"/>
<text x="806.2" y="726.1" font-size="21" font-weight="bold">VTT</text>
<line x1="766.2" y1="752.9" x2="793.6" y2="752.9" stroke="#c2c53a" stroke-width="4.6"/>
<path d="M779.9 746.2L785.1 756.6L774.7 756.6Z" fill="#c2c53a"/>
<text x="806.2" y="760.5" font-size="21" font-weight="bold">dTK</text>
<line x1="766.2" y1="787.3" x2="793.6" y2="787.3" stroke="#3bff1a" stroke-width="4.6"/>
<path d="M779.9 794L785.1 783.6L774.7 783.6Z" fill="#3bff1a"/>
<text x="806.2" y="794.9" font-size="21" font-weight="bold">dF4L</text>
<line x1="766.2" y1="821.7" x2="793.6" y2="821.7" stroke="#ff2a1a" stroke-width="4.6"/>
<path d="M779.9 816.3L785.3 821.7L779.9 827.1L774.5 821.7Z" fill="#ff2a1a"/>
<text x="806.2" y="829.3" font-size="21" font-weight="bold">dTF</text>
<line x1="766.2" y1="856.1" x2="793.6" y2="856.1" stroke="#f4651c" stroke-width="4.6"/>
<circle cx="779.9" cy="856.1" r="7.3" fill="#f4651c"/>
<text x="806.2" y="863.7" font-size="21" font-weight="bold">dB2R</text>
<line x1="766.2" y1="890.5" x2="793.6" y2="890.5" stroke="#1a1aff" stroke-width="4.6"/>
<rect x="773.3" y="883.9" width="13.2" height="13.2" rx="2.6" fill="#1a1aff"/>
<text x="806.2" y="898.1" font-size="21" font-weight="bold">dBTF</text>
<line x1="1043" y1="646.3" x2="1516.76" y2="646.3" stroke="#1a1aff" stroke-width="4.2"/>
<line x1="1043" y1="647.6" x2="1516.76" y2="647.6" stroke="#ff2a1a" stroke-width="3.4"/>
<line x1="1043" y1="648.1" x2="1516.76" y2="648.1" stroke="#3bff1a" stroke-width="3.4"/>
<line x1="1043" y1="651.6" x2="1516.76" y2="651.6" stroke="#c2c53a" stroke-width="4.6"/>
<rect x="1508.56" y="637.3" width="16.5" height="17" rx="3" fill="#1a1aff"/>
<path d="M1516.76 651.9L1521.36 642.7L1512.16 642.7Z" fill="#3bff1a"/>
<path d="M1155.2 768.9L1516.16 768.9" fill="none" stroke="#f4651c" stroke-width="4" stroke-linejoin="miter"/>
<circle cx="1155.8" cy="768.9" r="6.4" fill="none" stroke="#f4651c" stroke-width="4.6"/>
<circle cx="1516.76" cy="768.9" r="6.4" fill="none" stroke="#f4651c" stroke-width="4.6"/>
<path d="M1043 654.3L1155.8 654.3L1155.8 826.2L1178.36 826.2L1178.36 883.5L1516.76 883.5" fill="none" stroke="#000" stroke-width="4.8" stroke-linejoin="miter"/>
<line x1="1043" y1="654.3" x2="1516.76" y2="654.3" stroke="#000" stroke-width="3.4" stroke-dasharray="0.1 8.6" stroke-linecap="round"/>
<line x1="1043" y1="623.5" x2="1043" y2="943.2" stroke="#000" stroke-width="4.8"/>
<line x1="1040.6" y1="940.8" x2="1519" y2="940.8" stroke="#000" stroke-width="4.8"/>
<rect x="1151.2" y="821.6" width="9.2" height="9.2" fill="#000"/>
<rect x="1173.76" y="878.9" width="9.2" height="9.2" fill="#000"/>
<rect x="1512.16" y="878.9" width="9.2" height="9.2" fill="#000"/>
<circle cx="1516.76" cy="654.3" r="6.6" fill="#c2c53a" stroke="#000" stroke-width="4"/>
<line x1="1033.2" y1="940.8" x2="1043" y2="940.8" stroke="#000" stroke-width="4.2"/>
<text x="1028.6" y="949.2" font-size="23.5" font-weight="bold" text-anchor="end">0</text>
<line x1="1033.2" y1="883.5" x2="1043" y2="883.5" stroke="#000" stroke-width="4.2"/>
<text x="1028.6" y="891.9" font-size="23.5" font-weight="bold" text-anchor="end">20</text>
<line x1="1033.2" y1="826.2" x2="1043" y2="826.2" stroke="#000" stroke-width="4.2"/>
<text x="1028.6" y="834.6" font-size="23.5" font-weight="bold" text-anchor="end">40</text>
<line x1="1033.2" y1="768.9" x2="1043" y2="768.9" stroke="#000" stroke-width="4.2"/>
<text x="1028.6" y="777.3" font-size="23.5" font-weight="bold" text-anchor="end">60</text>
<line x1="1033.2" y1="711.6" x2="1043" y2="711.6" stroke="#000" stroke-width="4.2"/>
<text x="1028.6" y="720" font-size="23.5" font-weight="bold" text-anchor="end">80</text>
<line x1="1033.2" y1="654.3" x2="1043" y2="654.3" stroke="#000" stroke-width="4.2"/>
<text x="1031.4" y="662.7" font-size="23.5" font-weight="bold" text-anchor="end">100</text>
<line x1="1043" y1="940.8" x2="1043" y2="951.8" stroke="#000" stroke-width="4.2"/>
<text x="1043" y="976.3" font-size="23.5" font-weight="bold" text-anchor="middle">0</text>
<line x1="1155.8" y1="940.8" x2="1155.8" y2="951.8" stroke="#000" stroke-width="4.2"/>
<text x="1155.8" y="976.3" font-size="23.5" font-weight="bold" text-anchor="middle">5</text>
<line x1="1268.6" y1="940.8" x2="1268.6" y2="951.8" stroke="#000" stroke-width="4.2"/>
<text x="1268.6" y="976.3" font-size="23.5" font-weight="bold" text-anchor="middle">10</text>
<line x1="1381.4" y1="940.8" x2="1381.4" y2="951.8" stroke="#000" stroke-width="4.2"/>
<text x="1381.4" y="976.3" font-size="23.5" font-weight="bold" text-anchor="middle">15</text>
<line x1="1494.2" y1="940.8" x2="1494.2" y2="951.8" stroke="#000" stroke-width="4.2"/>
<text x="1494.2" y="976.3" font-size="23.5" font-weight="bold" text-anchor="middle">20</text>
<text font-size="24.2" transform="translate(1258.5 593.8) scale(1.06 1)" font-weight="bold" text-anchor="middle">BALB/c 2.5×10<tspan dy="-12.5" font-size="20.5">5</tspan><tspan dy="12.5">PFU</tspan></text>
<text x="1280" y="1009.5" font-size="25" font-weight="bold" text-anchor="middle" textLength="238.6" lengthAdjust="spacingAndGlyphs">Days post infection</text>
<text x="979.5" y="785.6" font-size="26" transform="rotate(-90 979.5 785.6)" font-weight="bold" text-anchor="middle" textLength="204" lengthAdjust="spacingAndGlyphs">Survival rate (%)</text>
<circle cx="1589.8" cy="645.1" r="1.5" fill="#000"/>
<circle cx="1617.8" cy="645.1" r="1.5" fill="#000"/>
<circle cx="1606.3" cy="645.1" r="6" fill="#fff" stroke="#000" stroke-width="4.6"/>
<circle cx="1607.8" cy="645.1" r="1.6" fill="#000"/>
<text x="1643" y="653.38" font-size="23" font-weight="bold">PBS</text>
<line x1="1589.5" y1="688.1" x2="1623.1" y2="688.1" stroke="#000" stroke-width="4.4"/>
<rect x="1601.7" y="683.5" width="9.2" height="9.2" fill="#000"/>
<text x="1643" y="696.38" font-size="23" font-weight="bold">VTT</text>
<line x1="1589.5" y1="731.1" x2="1623.1" y2="731.1" stroke="#c2c53a" stroke-width="4.4"/>
<path d="M1606.3 724L1612.6 736.6L1600 736.6Z" fill="#c2c53a"/>
<text x="1643" y="739.38" font-size="23" font-weight="bold">dTK</text>
<line x1="1589.5" y1="774.1" x2="1623.1" y2="774.1" stroke="#3bff1a" stroke-width="4.4"/>
<path d="M1606.3 781.2L1612.6 768.6L1600 768.6Z" fill="#3bff1a"/>
<text x="1643" y="782.38" font-size="23" font-weight="bold">dF4L</text>
<line x1="1589.5" y1="817.1" x2="1623.1" y2="817.1" stroke="#ff2a1a" stroke-width="4.4"/>
<path d="M1606.3 810.5L1612.9 817.1L1606.3 823.7L1599.7 817.1Z" fill="#ff2a1a"/>
<text x="1643" y="825.38" font-size="23" font-weight="bold">dTF</text>
<line x1="1589.5" y1="860.1" x2="1623.1" y2="860.1" stroke="#f4651c" stroke-width="4.4"/>
<circle cx="1606.3" cy="860.1" r="6.3" fill="#fff" stroke="#f4651c" stroke-width="5"/>
<line x1="1603.3" y1="860.1" x2="1609.3" y2="860.1" stroke="#f4651c" stroke-width="2.2"/>
<text x="1643" y="868.38" font-size="23" font-weight="bold">dB2R</text>
<line x1="1589.5" y1="903.1" x2="1623.1" y2="903.1" stroke="#1a1aff" stroke-width="4.4"/>
<rect x="1599.9" y="896.9" width="12.8" height="12.4" rx="3" fill="#fff" stroke="#1a1aff" stroke-width="5.2"/>
<line x1="1601.3" y1="903.1" x2="1611.3" y2="903.1" stroke="#1a1aff" stroke-width="2.6"/>
<text x="1643" y="911.38" font-size="23" font-weight="bold">dBTF</text>
<text x="4" y="1552.8" font-size="43">D</text>
<line x1="254.2" y1="1584.2" x2="254.2" y2="1937.5" stroke="#000" stroke-width="4.8"/>
<line x1="251.8" y1="1935.1" x2="768.2" y2="1935.1" stroke="#000" stroke-width="4.8"/>
<line x1="246.8" y1="1935.1" x2="254.2" y2="1935.1" stroke="#000" stroke-width="4.2"/>
<text font-size="25.6" transform="translate(242.7 1944.3) scale(0.95 1)" font-weight="bold" text-anchor="end">80</text>
<line x1="246.8" y1="1865.4" x2="254.2" y2="1865.4" stroke="#000" stroke-width="4.2"/>
<text font-size="25.6" transform="translate(242.7 1874.6) scale(0.95 1)" font-weight="bold" text-anchor="end">90</text>
<line x1="246.8" y1="1795.7" x2="254.2" y2="1795.7" stroke="#000" stroke-width="4.2"/>
<text font-size="25.6" transform="translate(242.7 1804.9) scale(0.95 1)" font-weight="bold" text-anchor="end">100</text>
<line x1="246.8" y1="1726" x2="254.2" y2="1726" stroke="#000" stroke-width="4.2"/>
<text font-size="25.6" transform="translate(242.7 1735.2) scale(0.95 1)" font-weight="bold" text-anchor="end">110</text>
<line x1="246.8" y1="1656.3" x2="254.2" y2="1656.3" stroke="#000" stroke-width="4.2"/>
<text font-size="25.6" transform="translate(242.7 1665.5) scale(0.95 1)" font-weight="bold" text-anchor="end">120</text>
<line x1="246.8" y1="1586.6" x2="254.2" y2="1586.6" stroke="#000" stroke-width="4.2"/>
<text font-size="25.6" transform="translate(242.7 1595.8) scale(0.95 1)" font-weight="bold" text-anchor="end">130</text>
<line x1="266.6" y1="1935.1" x2="266.6" y2="1942.7" stroke="#000" stroke-width="4.2"/>
<text font-size="25.6" transform="translate(266.6 1966.3) scale(0.98 1)" font-weight="bold" text-anchor="middle">0</text>
<line x1="382.6" y1="1935.1" x2="382.6" y2="1942.7" stroke="#000" stroke-width="4.2"/>
<text font-size="25.6" transform="translate(382.6 1966.3) scale(0.98 1)" font-weight="bold" text-anchor="middle">5</text>
<line x1="498.6" y1="1935.1" x2="498.6" y2="1942.7" stroke="#000" stroke-width="4.2"/>
<text font-size="25.6" transform="translate(498.6 1966.3) scale(0.98 1)" font-weight="bold" text-anchor="middle">10</text>
<line x1="614.6" y1="1935.1" x2="614.6" y2="1942.7" stroke="#000" stroke-width="4.2"/>
<text font-size="25.6" transform="translate(614.6 1966.3) scale(0.98 1)" font-weight="bold" text-anchor="middle">15</text>
<line x1="730.6" y1="1935.1" x2="730.6" y2="1942.7" stroke="#000" stroke-width="4.2"/>
<text font-size="25.6" transform="translate(730.6 1966.3) scale(0.98 1)" font-weight="bold" text-anchor="middle">20</text>
<clipPath id="clip254"><rect x="254.2" y="1546.6" width="554" height="397.5"/></clipPath>
<g clip-path="url(#clip254)">
<line x1="266.6" y1="1783.15" x2="266.6" y2="1808.25" stroke="#1a1aff" stroke-width="2.2"/>
<line x1="261.3" y1="1783.15" x2="271.9" y2="1783.15" stroke="#1a1aff" stroke-width="2.4"/>
<line x1="261.3" y1="1808.25" x2="271.9" y2="1808.25" stroke="#1a1aff" stroke-width="2.4"/>
<line x1="289.8" y1="1781.76" x2="289.8" y2="1823.58" stroke="#1a1aff" stroke-width="2.2"/>
<line x1="284.5" y1="1781.76" x2="295.1" y2="1781.76" stroke="#1a1aff" stroke-width="2.4"/>
<line x1="284.5" y1="1823.58" x2="295.1" y2="1823.58" stroke="#1a1aff" stroke-width="2.4"/>
<line x1="313" y1="1780.37" x2="313" y2="1818" stroke="#1a1aff" stroke-width="2.2"/>
<line x1="307.7" y1="1780.37" x2="318.3" y2="1780.37" stroke="#1a1aff" stroke-width="2.4"/>
<line x1="307.7" y1="1818" x2="318.3" y2="1818" stroke="#1a1aff" stroke-width="2.4"/>
<line x1="336.2" y1="1774.79" x2="336.2" y2="1809.64" stroke="#1a1aff" stroke-width="2.2"/>
<line x1="330.9" y1="1774.79" x2="341.5" y2="1774.79" stroke="#1a1aff" stroke-width="2.4"/>
<line x1="330.9" y1="1809.64" x2="341.5" y2="1809.64" stroke="#1a1aff" stroke-width="2.4"/>
<line x1="359.4" y1="1764.34" x2="359.4" y2="1799.18" stroke="#1a1aff" stroke-width="2.2"/>
<line x1="354.1" y1="1764.34" x2="364.7" y2="1764.34" stroke="#1a1aff" stroke-width="2.4"/>
<line x1="354.1" y1="1799.18" x2="364.7" y2="1799.18" stroke="#1a1aff" stroke-width="2.4"/>
<line x1="382.6" y1="1743.42" x2="382.6" y2="1792.21" stroke="#1a1aff" stroke-width="2.2"/>
<line x1="377.3" y1="1743.42" x2="387.9" y2="1743.42" stroke="#1a1aff" stroke-width="2.4"/>
<line x1="377.3" y1="1792.21" x2="387.9" y2="1792.21" stroke="#1a1aff" stroke-width="2.4"/>
<line x1="405.8" y1="1734.36" x2="405.8" y2="1818" stroke="#1a1aff" stroke-width="2.2"/>
<line x1="400.5" y1="1734.36" x2="411.1" y2="1734.36" stroke="#1a1aff" stroke-width="2.4"/>
<line x1="400.5" y1="1818" x2="411.1" y2="1818" stroke="#1a1aff" stroke-width="2.4"/>
<line x1="429" y1="1757.37" x2="429" y2="1820.1" stroke="#1a1aff" stroke-width="2.2"/>
<line x1="423.7" y1="1757.37" x2="434.3" y2="1757.37" stroke="#1a1aff" stroke-width="2.4"/>
<line x1="423.7" y1="1820.1" x2="434.3" y2="1820.1" stroke="#1a1aff" stroke-width="2.4"/>
<line x1="452.2" y1="1753.88" x2="452.2" y2="1795.7" stroke="#1a1aff" stroke-width="2.2"/>
<line x1="446.9" y1="1753.88" x2="457.5" y2="1753.88" stroke="#1a1aff" stroke-width="2.4"/>
<line x1="446.9" y1="1795.7" x2="457.5" y2="1795.7" stroke="#1a1aff" stroke-width="2.4"/>
<line x1="475.4" y1="1743.42" x2="475.4" y2="1785.25" stroke="#1a1aff" stroke-width="2.2"/>
<line x1="470.1" y1="1743.42" x2="480.7" y2="1743.42" stroke="#1a1aff" stroke-width="2.4"/>
<line x1="470.1" y1="1785.25" x2="480.7" y2="1785.25" stroke="#1a1aff" stroke-width="2.4"/>
<line x1="498.6" y1="1722.51" x2="498.6" y2="1771.3" stroke="#1a1aff" stroke-width="2.2"/>
<line x1="493.3" y1="1722.51" x2="503.9" y2="1722.51" stroke="#1a1aff" stroke-width="2.4"/>
<line x1="493.3" y1="1771.3" x2="503.9" y2="1771.3" stroke="#1a1aff" stroke-width="2.4"/>
<line x1="521.8" y1="1712.06" x2="521.8" y2="1760.85" stroke="#1a1aff" stroke-width="2.2"/>
<line x1="516.5" y1="1712.06" x2="527.1" y2="1712.06" stroke="#1a1aff" stroke-width="2.4"/>
<line x1="516.5" y1="1760.85" x2="527.1" y2="1760.85" stroke="#1a1aff" stroke-width="2.4"/>
<line x1="545" y1="1719.03" x2="545" y2="1774.79" stroke="#1a1aff" stroke-width="2.2"/>
<line x1="539.7" y1="1719.03" x2="550.3" y2="1719.03" stroke="#1a1aff" stroke-width="2.4"/>
<line x1="539.7" y1="1774.79" x2="550.3" y2="1774.79" stroke="#1a1aff" stroke-width="2.4"/>
<line x1="568.2" y1="1699.51" x2="568.2" y2="1773.4" stroke="#1a1aff" stroke-width="2.2"/>
<line x1="562.9" y1="1699.51" x2="573.5" y2="1699.51" stroke="#1a1aff" stroke-width="2.4"/>
<line x1="562.9" y1="1773.4" x2="573.5" y2="1773.4" stroke="#1a1aff" stroke-width="2.4"/>
<line x1="591.4" y1="1701.6" x2="591.4" y2="1764.33" stroke="#1a1aff" stroke-width="2.2"/>
<line x1="586.1" y1="1701.6" x2="596.7" y2="1701.6" stroke="#1a1aff" stroke-width="2.4"/>
<line x1="586.1" y1="1764.33" x2="596.7" y2="1764.33" stroke="#1a1aff" stroke-width="2.4"/>
<line x1="614.6" y1="1680.69" x2="614.6" y2="1743.42" stroke="#1a1aff" stroke-width="2.2"/>
<line x1="609.3" y1="1680.69" x2="619.9" y2="1680.69" stroke="#1a1aff" stroke-width="2.4"/>
<line x1="609.3" y1="1743.42" x2="619.9" y2="1743.42" stroke="#1a1aff" stroke-width="2.4"/>
<line x1="637.8" y1="1668.15" x2="637.8" y2="1735.06" stroke="#1a1aff" stroke-width="2.2"/>
<line x1="632.5" y1="1668.15" x2="643.1" y2="1668.15" stroke="#1a1aff" stroke-width="2.4"/>
<line x1="632.5" y1="1735.06" x2="643.1" y2="1735.06" stroke="#1a1aff" stroke-width="2.4"/>
<line x1="661" y1="1638.88" x2="661" y2="1736.45" stroke="#1a1aff" stroke-width="2.2"/>
<line x1="655.7" y1="1638.88" x2="666.3" y2="1638.88" stroke="#1a1aff" stroke-width="2.4"/>
<line x1="655.7" y1="1736.45" x2="666.3" y2="1736.45" stroke="#1a1aff" stroke-width="2.4"/>
<line x1="684.2" y1="1647.24" x2="684.2" y2="1751.79" stroke="#1a1aff" stroke-width="2.2"/>
<line x1="678.9" y1="1647.24" x2="689.5" y2="1647.24" stroke="#1a1aff" stroke-width="2.4"/>
<line x1="678.9" y1="1751.79" x2="689.5" y2="1751.79" stroke="#1a1aff" stroke-width="2.4"/>
<line x1="707.4" y1="1629.81" x2="707.4" y2="1738.55" stroke="#1a1aff" stroke-width="2.2"/>
<line x1="702.1" y1="1629.81" x2="712.7" y2="1629.81" stroke="#1a1aff" stroke-width="2.4"/>
<line x1="702.1" y1="1738.55" x2="712.7" y2="1738.55" stroke="#1a1aff" stroke-width="2.4"/>
<line x1="730.6" y1="1666.75" x2="730.6" y2="1750.39" stroke="#1a1aff" stroke-width="2.2"/>
<line x1="725.3" y1="1666.75" x2="735.9" y2="1666.75" stroke="#1a1aff" stroke-width="2.4"/>
<line x1="725.3" y1="1750.39" x2="735.9" y2="1750.39" stroke="#1a1aff" stroke-width="2.4"/>
<line x1="753.8" y1="1645.85" x2="753.8" y2="1729.48" stroke="#1a1aff" stroke-width="2.2"/>
<line x1="748.5" y1="1645.85" x2="759.1" y2="1645.85" stroke="#1a1aff" stroke-width="2.4"/>
<line x1="748.5" y1="1729.48" x2="759.1" y2="1729.48" stroke="#1a1aff" stroke-width="2.4"/>
<polyline points="266.6,1795.7 289.8,1802.67 313,1799.18 336.2,1792.21 359.4,1781.76 382.6,1767.82 405.8,1776.18 429,1788.73 452.2,1774.79 475.4,1764.34 498.6,1746.91 521.8,1736.45 545,1746.91 568.2,1736.45 591.4,1732.97 614.6,1712.06 637.8,1701.61 661,1687.66 684.2,1699.51 707.4,1684.18 730.6,1708.57 753.8,1687.66" fill="none" stroke="#1a1aff" stroke-width="4.6" stroke-linejoin="round" stroke-linecap="round"/>
<rect x="260" y="1789.1" width="13.2" height="13.2" rx="2.6" fill="#1a1aff"/>
<rect x="283.2" y="1796.07" width="13.2" height="13.2" rx="2.6" fill="#1a1aff"/>
<rect x="306.4" y="1792.59" width="13.2" height="13.2" rx="2.6" fill="#1a1aff"/>
<rect x="329.6" y="1785.62" width="13.2" height="13.2" rx="2.6" fill="#1a1aff"/>
<rect x="352.8" y="1775.16" width="13.2" height="13.2" rx="2.6" fill="#1a1aff"/>
<rect x="376" y="1761.22" width="13.2" height="13.2" rx="2.6" fill="#1a1aff"/>
<rect x="399.2" y="1769.58" width="13.2" height="13.2" rx="2.6" fill="#1a1aff"/>
<rect x="422.4" y="1782.13" width="13.2" height="13.2" rx="2.6" fill="#1a1aff"/>
<rect x="445.6" y="1768.19" width="13.2" height="13.2" rx="2.6" fill="#1a1aff"/>
<rect x="468.8" y="1757.74" width="13.2" height="13.2" rx="2.6" fill="#1a1aff"/>
<rect x="492" y="1740.31" width="13.2" height="13.2" rx="2.6" fill="#1a1aff"/>
<rect x="515.2" y="1729.86" width="13.2" height="13.2" rx="2.6" fill="#1a1aff"/>
<rect x="538.4" y="1740.31" width="13.2" height="13.2" rx="2.6" fill="#1a1aff"/>
<rect x="561.6" y="1729.86" width="13.2" height="13.2" rx="2.6" fill="#1a1aff"/>
<rect x="584.8" y="1726.37" width="13.2" height="13.2" rx="2.6" fill="#1a1aff"/>
<rect x="608" y="1705.46" width="13.2" height="13.2" rx="2.6" fill="#1a1aff"/>
<rect x="631.2" y="1695.01" width="13.2" height="13.2" rx="2.6" fill="#1a1aff"/>
<rect x="654.4" y="1681.07" width="13.2" height="13.2" rx="2.6" fill="#1a1aff"/>
<rect x="677.6" y="1692.91" width="13.2" height="13.2" rx="2.6" fill="#1a1aff"/>
<rect x="700.8" y="1677.58" width="13.2" height="13.2" rx="2.6" fill="#1a1aff"/>
<rect x="724" y="1701.97" width="13.2" height="13.2" rx="2.6" fill="#1a1aff"/>
<rect x="747.2" y="1681.07" width="13.2" height="13.2" rx="2.6" fill="#1a1aff"/>
<line x1="289.8" y1="1801.28" x2="289.8" y2="1831.94" stroke="#f4651c" stroke-width="2.2"/>
<line x1="284.5" y1="1801.28" x2="295.1" y2="1801.28" stroke="#f4651c" stroke-width="2.4"/>
<line x1="284.5" y1="1831.94" x2="295.1" y2="1831.94" stroke="#f4651c" stroke-width="2.4"/>
<line x1="313" y1="1800.58" x2="313" y2="1853.55" stroke="#f4651c" stroke-width="2.2"/>
<line x1="307.7" y1="1800.58" x2="318.3" y2="1800.58" stroke="#f4651c" stroke-width="2.4"/>
<line x1="307.7" y1="1853.55" x2="318.3" y2="1853.55" stroke="#f4651c" stroke-width="2.4"/>
<line x1="336.2" y1="1825.67" x2="336.2" y2="1870.28" stroke="#f4651c" stroke-width="2.2"/>
<line x1="330.9" y1="1825.67" x2="341.5" y2="1825.67" stroke="#f4651c" stroke-width="2.4"/>
<line x1="330.9" y1="1870.28" x2="341.5" y2="1870.28" stroke="#f4651c" stroke-width="2.4"/>
<line x1="359.4" y1="1873.07" x2="359.4" y2="1910.7" stroke="#f4651c" stroke-width="2.2"/>
<line x1="354.1" y1="1873.07" x2="364.7" y2="1873.07" stroke="#f4651c" stroke-width="2.4"/>
<line x1="354.1" y1="1910.7" x2="364.7" y2="1910.7" stroke="#f4651c" stroke-width="2.4"/>
<polyline points="266.6,1797.09 289.8,1816.61 313,1827.06 336.2,1847.97 359.4,1891.89 382.6,1910.01 405.8,1929.52 429,1929.52 452.2,1905.83 475.4,1921.16 498.6,1929.52 521.8,1926.04 545,1921.86" fill="none" stroke="#f4651c" stroke-width="4.6" stroke-linejoin="round" stroke-linecap="round"/>
<circle cx="266.6" cy="1797.09" r="7.3" fill="#f4651c"/>
<circle cx="289.8" cy="1816.61" r="7.3" fill="#f4651c"/>
<circle cx="313" cy="1827.06" r="7.3" fill="#f4651c"/>
<circle cx="336.2" cy="1847.97" r="7.3" fill="#f4651c"/>
<circle cx="359.4" cy="1891.89" r="7.3" fill="#f4651c"/>
<circle cx="382.6" cy="1910.01" r="7.3" fill="#f4651c"/>
<circle cx="405.8" cy="1929.52" r="7.3" fill="#f4651c"/>
<circle cx="429" cy="1929.52" r="7.3" fill="#f4651c"/>
<circle cx="452.2" cy="1905.83" r="7.3" fill="#f4651c"/>
<circle cx="475.4" cy="1921.16" r="7.3" fill="#f4651c"/>
<circle cx="498.6" cy="1929.52" r="7.3" fill="#f4651c"/>
<circle cx="521.8" cy="1926.04" r="7.3" fill="#f4651c"/>
<circle cx="545" cy="1921.86" r="5.6" fill="#fff" fill-opacity="0.0" stroke="#f4651c" stroke-width="3.4"/>
<line x1="266.6" y1="1760.15" x2="266.6" y2="1831.25" stroke="#ff2a1a" stroke-width="2.2"/>
<line x1="261.3" y1="1760.15" x2="271.9" y2="1760.15" stroke="#ff2a1a" stroke-width="2.4"/>
<line x1="261.3" y1="1831.25" x2="271.9" y2="1831.25" stroke="#ff2a1a" stroke-width="2.4"/>
<line x1="289.8" y1="1759.46" x2="289.8" y2="1831.94" stroke="#ff2a1a" stroke-width="2.2"/>
<line x1="284.5" y1="1759.46" x2="295.1" y2="1759.46" stroke="#ff2a1a" stroke-width="2.4"/>
<line x1="284.5" y1="1831.94" x2="295.1" y2="1831.94" stroke="#ff2a1a" stroke-width="2.4"/>
<line x1="313" y1="1755.27" x2="313" y2="1815.22" stroke="#ff2a1a" stroke-width="2.2"/>
<line x1="307.7" y1="1755.27" x2="318.3" y2="1755.27" stroke="#ff2a1a" stroke-width="2.4"/>
<line x1="307.7" y1="1815.22" x2="318.3" y2="1815.22" stroke="#ff2a1a" stroke-width="2.4"/>
<line x1="336.2" y1="1742.03" x2="336.2" y2="1800.58" stroke="#ff2a1a" stroke-width="2.2"/>
<line x1="330.9" y1="1742.03" x2="341.5" y2="1742.03" stroke="#ff2a1a" stroke-width="2.4"/>
<line x1="330.9" y1="1800.58" x2="341.5" y2="1800.58" stroke="#ff2a1a" stroke-width="2.4"/>
<line x1="359.4" y1="1736.45" x2="359.4" y2="1792.22" stroke="#ff2a1a" stroke-width="2.2"/>
<line x1="354.1" y1="1736.45" x2="364.7" y2="1736.45" stroke="#ff2a1a" stroke-width="2.4"/>
<line x1="354.1" y1="1792.22" x2="364.7" y2="1792.22" stroke="#ff2a1a" stroke-width="2.4"/>
<line x1="382.6" y1="1724.61" x2="382.6" y2="1783.15" stroke="#ff2a1a" stroke-width="2.2"/>
<line x1="377.3" y1="1724.61" x2="387.9" y2="1724.61" stroke="#ff2a1a" stroke-width="2.4"/>
<line x1="377.3" y1="1783.15" x2="387.9" y2="1783.15" stroke="#ff2a1a" stroke-width="2.4"/>
<line x1="405.8" y1="1719.03" x2="405.8" y2="1802.67" stroke="#ff2a1a" stroke-width="2.2"/>
<line x1="400.5" y1="1719.03" x2="411.1" y2="1719.03" stroke="#ff2a1a" stroke-width="2.4"/>
<line x1="400.5" y1="1802.67" x2="411.1" y2="1802.67" stroke="#ff2a1a" stroke-width="2.4"/>
<line x1="429" y1="1730.88" x2="429" y2="1804.76" stroke="#ff2a1a" stroke-width="2.2"/>
<line x1="423.7" y1="1730.88" x2="434.3" y2="1730.88" stroke="#ff2a1a" stroke-width="2.4"/>
<line x1="423.7" y1="1804.76" x2="434.3" y2="1804.76" stroke="#ff2a1a" stroke-width="2.4"/>
<line x1="452.2" y1="1718.33" x2="452.2" y2="1796.4" stroke="#ff2a1a" stroke-width="2.2"/>
<line x1="446.9" y1="1718.33" x2="457.5" y2="1718.33" stroke="#ff2a1a" stroke-width="2.4"/>
<line x1="446.9" y1="1796.4" x2="457.5" y2="1796.4" stroke="#ff2a1a" stroke-width="2.4"/>
<line x1="475.4" y1="1715.55" x2="475.4" y2="1785.24" stroke="#ff2a1a" stroke-width="2.2"/>
<line x1="470.1" y1="1715.55" x2="480.7" y2="1715.55" stroke="#ff2a1a" stroke-width="2.4"/>
<line x1="470.1" y1="1785.24" x2="480.7" y2="1785.24" stroke="#ff2a1a" stroke-width="2.4"/>
<line x1="498.6" y1="1710.67" x2="498.6" y2="1783.15" stroke="#ff2a1a" stroke-width="2.2"/>
<line x1="493.3" y1="1710.67" x2="503.9" y2="1710.67" stroke="#ff2a1a" stroke-width="2.4"/>
<line x1="493.3" y1="1783.15" x2="503.9" y2="1783.15" stroke="#ff2a1a" stroke-width="2.4"/>
<line x1="521.8" y1="1709.97" x2="521.8" y2="1776.88" stroke="#ff2a1a" stroke-width="2.2"/>
<line x1="516.5" y1="1709.97" x2="527.1" y2="1709.97" stroke="#ff2a1a" stroke-width="2.4"/>
<line x1="516.5" y1="1776.88" x2="527.1" y2="1776.88" stroke="#ff2a1a" stroke-width="2.4"/>
<line x1="545" y1="1700.91" x2="545" y2="1765.03" stroke="#ff2a1a" stroke-width="2.2"/>
<line x1="539.7" y1="1700.91" x2="550.3" y2="1700.91" stroke="#ff2a1a" stroke-width="2.4"/>
<line x1="539.7" y1="1765.03" x2="550.3" y2="1765.03" stroke="#ff2a1a" stroke-width="2.4"/>
<line x1="568.2" y1="1687.66" x2="568.2" y2="1750.39" stroke="#ff2a1a" stroke-width="2.2"/>
<line x1="562.9" y1="1687.66" x2="573.5" y2="1687.66" stroke="#ff2a1a" stroke-width="2.4"/>
<line x1="562.9" y1="1750.39" x2="573.5" y2="1750.39" stroke="#ff2a1a" stroke-width="2.4"/>
<line x1="591.4" y1="1680.69" x2="591.4" y2="1743.42" stroke="#ff2a1a" stroke-width="2.2"/>
<line x1="586.1" y1="1680.69" x2="596.7" y2="1680.69" stroke="#ff2a1a" stroke-width="2.4"/>
<line x1="586.1" y1="1743.42" x2="596.7" y2="1743.42" stroke="#ff2a1a" stroke-width="2.4"/>
<line x1="614.6" y1="1677.21" x2="614.6" y2="1732.97" stroke="#ff2a1a" stroke-width="2.2"/>
<line x1="609.3" y1="1677.21" x2="619.9" y2="1677.21" stroke="#ff2a1a" stroke-width="2.4"/>
<line x1="609.3" y1="1732.97" x2="619.9" y2="1732.97" stroke="#ff2a1a" stroke-width="2.4"/>
<line x1="637.8" y1="1666.75" x2="637.8" y2="1729.48" stroke="#ff2a1a" stroke-width="2.2"/>
<line x1="632.5" y1="1666.75" x2="643.1" y2="1666.75" stroke="#ff2a1a" stroke-width="2.4"/>
<line x1="632.5" y1="1729.48" x2="643.1" y2="1729.48" stroke="#ff2a1a" stroke-width="2.4"/>
<line x1="661" y1="1659.78" x2="661" y2="1715.55" stroke="#ff2a1a" stroke-width="2.2"/>
<line x1="655.7" y1="1659.78" x2="666.3" y2="1659.78" stroke="#ff2a1a" stroke-width="2.4"/>
<line x1="655.7" y1="1715.55" x2="666.3" y2="1715.55" stroke="#ff2a1a" stroke-width="2.4"/>
<line x1="684.2" y1="1666.75" x2="684.2" y2="1722.52" stroke="#ff2a1a" stroke-width="2.2"/>
<line x1="678.9" y1="1666.75" x2="689.5" y2="1666.75" stroke="#ff2a1a" stroke-width="2.4"/>
<line x1="678.9" y1="1722.52" x2="689.5" y2="1722.52" stroke="#ff2a1a" stroke-width="2.4"/>
<line x1="707.4" y1="1663.27" x2="707.4" y2="1712.06" stroke="#ff2a1a" stroke-width="2.2"/>
<line x1="702.1" y1="1663.27" x2="712.7" y2="1663.27" stroke="#ff2a1a" stroke-width="2.4"/>
<line x1="702.1" y1="1712.06" x2="712.7" y2="1712.06" stroke="#ff2a1a" stroke-width="2.4"/>
<line x1="730.6" y1="1664.66" x2="730.6" y2="1703.7" stroke="#ff2a1a" stroke-width="2.2"/>
<line x1="725.3" y1="1664.66" x2="735.9" y2="1664.66" stroke="#ff2a1a" stroke-width="2.4"/>
<line x1="725.3" y1="1703.7" x2="735.9" y2="1703.7" stroke="#ff2a1a" stroke-width="2.4"/>
<line x1="753.8" y1="1659.79" x2="753.8" y2="1694.63" stroke="#ff2a1a" stroke-width="2.2"/>
<line x1="748.5" y1="1659.79" x2="759.1" y2="1659.79" stroke="#ff2a1a" stroke-width="2.4"/>
<line x1="748.5" y1="1694.63" x2="759.1" y2="1694.63" stroke="#ff2a1a" stroke-width="2.4"/>
<polyline points="266.6,1795.7 289.8,1795.7 313,1785.24 336.2,1771.3 359.4,1764.34 382.6,1753.88 405.8,1760.85 429,1767.82 452.2,1757.37 475.4,1750.39 498.6,1746.91 521.8,1743.42 545,1732.97 568.2,1719.03 591.4,1712.06 614.6,1705.09 637.8,1698.12 661,1687.66 684.2,1694.63 707.4,1687.66 730.6,1684.18 753.8,1677.21" fill="none" stroke="#ff2a1a" stroke-width="4.6" stroke-linejoin="round" stroke-linecap="round"/>
<path d="M266.6 1792.1L270.2 1795.7L266.6 1799.3L263 1795.7Z" fill="#ff2a1a"/>
<path d="M289.8 1792.1L293.4 1795.7L289.8 1799.3L286.2 1795.7Z" fill="#ff2a1a"/>
<path d="M313 1781.64L316.6 1785.24L313 1788.84L309.4 1785.24Z" fill="#ff2a1a"/>
<path d="M336.2 1767.7L339.8 1771.3L336.2 1774.9L332.6 1771.3Z" fill="#ff2a1a"/>
<path d="M359.4 1760.74L363 1764.34L359.4 1767.93L355.8 1764.34Z" fill="#ff2a1a"/>
<path d="M382.6 1750.28L386.2 1753.88L382.6 1757.48L379 1753.88Z" fill="#ff2a1a"/>
<path d="M405.8 1757.25L409.4 1760.85L405.8 1764.45L402.2 1760.85Z" fill="#ff2a1a"/>
<path d="M429 1764.22L432.6 1767.82L429 1771.42L425.4 1767.82Z" fill="#ff2a1a"/>
<path d="M452.2 1753.77L455.8 1757.37L452.2 1760.96L448.6 1757.37Z" fill="#ff2a1a"/>
<path d="M475.4 1746.8L479 1750.39L475.4 1753.99L471.8 1750.39Z" fill="#ff2a1a"/>
<path d="M498.6 1743.31L502.2 1746.91L498.6 1750.51L495 1746.91Z" fill="#ff2a1a"/>
<path d="M521.8 1739.83L525.4 1743.42L521.8 1747.02L518.2 1743.42Z" fill="#ff2a1a"/>
<path d="M545 1729.37L548.6 1732.97L545 1736.57L541.4 1732.97Z" fill="#ff2a1a"/>
<path d="M568.2 1715.43L571.8 1719.03L568.2 1722.63L564.6 1719.03Z" fill="#ff2a1a"/>
<path d="M591.4 1708.46L595 1712.06L591.4 1715.66L587.8 1712.06Z" fill="#ff2a1a"/>
<path d="M614.6 1701.49L618.2 1705.09L614.6 1708.69L611 1705.09Z" fill="#ff2a1a"/>
<path d="M637.8 1694.52L641.4 1698.12L637.8 1701.72L634.2 1698.12Z" fill="#ff2a1a"/>
<path d="M661 1684.07L664.6 1687.66L661 1691.26L657.4 1687.66Z" fill="#ff2a1a"/>
<path d="M684.2 1691.04L687.8 1694.63L684.2 1698.23L680.6 1694.63Z" fill="#ff2a1a"/>
<path d="M707.4 1684.07L711 1687.66L707.4 1691.26L703.8 1687.66Z" fill="#ff2a1a"/>
<path d="M730.6 1680.58L734.2 1684.18L730.6 1687.78L727 1684.18Z" fill="#ff2a1a"/>
<path d="M753.8 1673.61L757.4 1677.21L753.8 1680.81L750.2 1677.21Z" fill="#ff2a1a"/>
<line x1="266.6" y1="1769.21" x2="266.6" y2="1822.19" stroke="#3bff1a" stroke-width="2.2"/>
<line x1="261.3" y1="1769.21" x2="271.9" y2="1769.21" stroke="#3bff1a" stroke-width="2.4"/>
<line x1="261.3" y1="1822.19" x2="271.9" y2="1822.19" stroke="#3bff1a" stroke-width="2.4"/>
<line x1="289.8" y1="1751.79" x2="289.8" y2="1818.7" stroke="#3bff1a" stroke-width="2.2"/>
<line x1="284.5" y1="1751.79" x2="295.1" y2="1751.79" stroke="#3bff1a" stroke-width="2.4"/>
<line x1="284.5" y1="1818.7" x2="295.1" y2="1818.7" stroke="#3bff1a" stroke-width="2.4"/>
<line x1="313" y1="1753.88" x2="313" y2="1830.55" stroke="#3bff1a" stroke-width="2.2"/>
<line x1="307.7" y1="1753.88" x2="318.3" y2="1753.88" stroke="#3bff1a" stroke-width="2.4"/>
<line x1="307.7" y1="1830.55" x2="318.3" y2="1830.55" stroke="#3bff1a" stroke-width="2.4"/>
<line x1="336.2" y1="1742.03" x2="336.2" y2="1828.46" stroke="#3bff1a" stroke-width="2.2"/>
<line x1="330.9" y1="1742.03" x2="341.5" y2="1742.03" stroke="#3bff1a" stroke-width="2.4"/>
<line x1="330.9" y1="1828.46" x2="341.5" y2="1828.46" stroke="#3bff1a" stroke-width="2.4"/>
<line x1="359.4" y1="1726" x2="359.4" y2="1844.49" stroke="#3bff1a" stroke-width="2.2"/>
<line x1="354.1" y1="1726" x2="364.7" y2="1726" stroke="#3bff1a" stroke-width="2.4"/>
<line x1="354.1" y1="1844.49" x2="364.7" y2="1844.49" stroke="#3bff1a" stroke-width="2.4"/>
<line x1="382.6" y1="1704.39" x2="382.6" y2="1868.88" stroke="#3bff1a" stroke-width="2.2"/>
<line x1="377.3" y1="1704.39" x2="387.9" y2="1704.39" stroke="#3bff1a" stroke-width="2.4"/>
<line x1="377.3" y1="1868.88" x2="387.9" y2="1868.88" stroke="#3bff1a" stroke-width="2.4"/>
<line x1="405.8" y1="1705.79" x2="405.8" y2="1857.73" stroke="#3bff1a" stroke-width="2.2"/>
<line x1="400.5" y1="1705.79" x2="411.1" y2="1705.79" stroke="#3bff1a" stroke-width="2.4"/>
<line x1="400.5" y1="1857.73" x2="411.1" y2="1857.73" stroke="#3bff1a" stroke-width="2.4"/>
<line x1="429" y1="1693.24" x2="429" y2="1838.22" stroke="#3bff1a" stroke-width="2.2"/>
<line x1="423.7" y1="1693.24" x2="434.3" y2="1693.24" stroke="#3bff1a" stroke-width="2.4"/>
<line x1="423.7" y1="1838.22" x2="434.3" y2="1838.22" stroke="#3bff1a" stroke-width="2.4"/>
<line x1="452.2" y1="1706.48" x2="452.2" y2="1808.25" stroke="#3bff1a" stroke-width="2.2"/>
<line x1="446.9" y1="1706.48" x2="457.5" y2="1706.48" stroke="#3bff1a" stroke-width="2.4"/>
<line x1="446.9" y1="1808.25" x2="457.5" y2="1808.25" stroke="#3bff1a" stroke-width="2.4"/>
<line x1="475.4" y1="1696.03" x2="475.4" y2="1797.79" stroke="#3bff1a" stroke-width="2.2"/>
<line x1="470.1" y1="1696.03" x2="480.7" y2="1696.03" stroke="#3bff1a" stroke-width="2.4"/>
<line x1="470.1" y1="1797.79" x2="480.7" y2="1797.79" stroke="#3bff1a" stroke-width="2.4"/>
<line x1="498.6" y1="1681.39" x2="498.6" y2="1791.52" stroke="#3bff1a" stroke-width="2.2"/>
<line x1="493.3" y1="1681.39" x2="503.9" y2="1681.39" stroke="#3bff1a" stroke-width="2.4"/>
<line x1="493.3" y1="1791.52" x2="503.9" y2="1791.52" stroke="#3bff1a" stroke-width="2.4"/>
<line x1="521.8" y1="1665.36" x2="521.8" y2="1779.67" stroke="#3bff1a" stroke-width="2.2"/>
<line x1="516.5" y1="1665.36" x2="527.1" y2="1665.36" stroke="#3bff1a" stroke-width="2.4"/>
<line x1="516.5" y1="1779.67" x2="527.1" y2="1779.67" stroke="#3bff1a" stroke-width="2.4"/>
<line x1="545" y1="1678.6" x2="545" y2="1769.21" stroke="#3bff1a" stroke-width="2.2"/>
<line x1="539.7" y1="1678.6" x2="550.3" y2="1678.6" stroke="#3bff1a" stroke-width="2.4"/>
<line x1="539.7" y1="1769.21" x2="550.3" y2="1769.21" stroke="#3bff1a" stroke-width="2.4"/>
<line x1="568.2" y1="1668.15" x2="568.2" y2="1749" stroke="#3bff1a" stroke-width="2.2"/>
<line x1="562.9" y1="1668.15" x2="573.5" y2="1668.15" stroke="#3bff1a" stroke-width="2.4"/>
<line x1="562.9" y1="1749" x2="573.5" y2="1749" stroke="#3bff1a" stroke-width="2.4"/>
<line x1="591.4" y1="1663.27" x2="591.4" y2="1746.91" stroke="#3bff1a" stroke-width="2.2"/>
<line x1="586.1" y1="1663.27" x2="596.7" y2="1663.27" stroke="#3bff1a" stroke-width="2.4"/>
<line x1="586.1" y1="1746.91" x2="596.7" y2="1746.91" stroke="#3bff1a" stroke-width="2.4"/>
<line x1="614.6" y1="1654.91" x2="614.6" y2="1727.39" stroke="#3bff1a" stroke-width="2.2"/>
<line x1="609.3" y1="1654.91" x2="619.9" y2="1654.91" stroke="#3bff1a" stroke-width="2.4"/>
<line x1="609.3" y1="1727.39" x2="619.9" y2="1727.39" stroke="#3bff1a" stroke-width="2.4"/>
<line x1="637.8" y1="1652.81" x2="637.8" y2="1708.58" stroke="#3bff1a" stroke-width="2.2"/>
<line x1="632.5" y1="1652.81" x2="643.1" y2="1652.81" stroke="#3bff1a" stroke-width="2.4"/>
<line x1="632.5" y1="1708.58" x2="643.1" y2="1708.58" stroke="#3bff1a" stroke-width="2.4"/>
<line x1="661" y1="1652.82" x2="661" y2="1701.61" stroke="#3bff1a" stroke-width="2.2"/>
<line x1="655.7" y1="1652.82" x2="666.3" y2="1652.82" stroke="#3bff1a" stroke-width="2.4"/>
<line x1="655.7" y1="1701.61" x2="666.3" y2="1701.61" stroke="#3bff1a" stroke-width="2.4"/>
<line x1="684.2" y1="1652.82" x2="684.2" y2="1701.61" stroke="#3bff1a" stroke-width="2.2"/>
<line x1="678.9" y1="1652.82" x2="689.5" y2="1652.82" stroke="#3bff1a" stroke-width="2.4"/>
<line x1="678.9" y1="1701.61" x2="689.5" y2="1701.61" stroke="#3bff1a" stroke-width="2.4"/>
<line x1="707.4" y1="1652.82" x2="707.4" y2="1701.61" stroke="#3bff1a" stroke-width="2.2"/>
<line x1="702.1" y1="1652.82" x2="712.7" y2="1652.82" stroke="#3bff1a" stroke-width="2.4"/>
<line x1="702.1" y1="1701.61" x2="712.7" y2="1701.61" stroke="#3bff1a" stroke-width="2.4"/>
<line x1="730.6" y1="1645.85" x2="730.6" y2="1708.58" stroke="#3bff1a" stroke-width="2.2"/>
<line x1="725.3" y1="1645.85" x2="735.9" y2="1645.85" stroke="#3bff1a" stroke-width="2.4"/>
<line x1="725.3" y1="1708.58" x2="735.9" y2="1708.58" stroke="#3bff1a" stroke-width="2.4"/>
<line x1="753.8" y1="1638.87" x2="753.8" y2="1701.6" stroke="#3bff1a" stroke-width="2.2"/>
<line x1="748.5" y1="1638.87" x2="759.1" y2="1638.87" stroke="#3bff1a" stroke-width="2.4"/>
<line x1="748.5" y1="1701.6" x2="759.1" y2="1701.6" stroke="#3bff1a" stroke-width="2.4"/>
<polyline points="266.6,1795.7 289.8,1785.24 313,1792.21 336.2,1785.24 359.4,1785.24 382.6,1786.64 405.8,1781.76 429,1765.73 452.2,1757.37 475.4,1746.91 498.6,1736.45 521.8,1722.51 545,1723.91 568.2,1708.57 591.4,1705.09 614.6,1691.15 637.8,1680.69 661,1677.21 684.2,1677.21 707.4,1677.21 730.6,1677.21 753.8,1670.24" fill="none" stroke="#3bff1a" stroke-width="4.6" stroke-linejoin="round" stroke-linecap="round"/>
<path d="M266.6 1799.6L270 1792.8L263.2 1792.8Z" fill="#3bff1a"/>
<path d="M289.8 1789.14L293.2 1782.34L286.4 1782.34Z" fill="#3bff1a"/>
<path d="M313 1796.12L316.4 1789.31L309.6 1789.31Z" fill="#3bff1a"/>
<path d="M336.2 1789.14L339.6 1782.34L332.8 1782.34Z" fill="#3bff1a"/>
<path d="M359.4 1789.14L362.8 1782.34L356 1782.34Z" fill="#3bff1a"/>
<path d="M382.6 1790.54L386 1783.74L379.2 1783.74Z" fill="#3bff1a"/>
<path d="M405.8 1785.66L409.2 1778.86L402.4 1778.86Z" fill="#3bff1a"/>
<path d="M429 1769.63L432.4 1762.83L425.6 1762.83Z" fill="#3bff1a"/>
<path d="M452.2 1761.27L455.6 1754.46L448.8 1754.46Z" fill="#3bff1a"/>
<path d="M475.4 1750.81L478.8 1744.01L472 1744.01Z" fill="#3bff1a"/>
<path d="M498.6 1740.36L502 1733.55L495.2 1733.55Z" fill="#3bff1a"/>
<path d="M521.8 1726.41L525.2 1719.61L518.4 1719.61Z" fill="#3bff1a"/>
<path d="M545 1727.81L548.4 1721.01L541.6 1721.01Z" fill="#3bff1a"/>
<path d="M568.2 1712.47L571.6 1705.67L564.8 1705.67Z" fill="#3bff1a"/>
<path d="M591.4 1708.99L594.8 1702.19L588 1702.19Z" fill="#3bff1a"/>
<path d="M614.6 1695.05L618 1688.25L611.2 1688.25Z" fill="#3bff1a"/>
<path d="M637.8 1684.6L641.2 1677.79L634.4 1677.79Z" fill="#3bff1a"/>
<path d="M661 1681.11L664.4 1674.31L657.6 1674.31Z" fill="#3bff1a"/>
<path d="M684.2 1681.11L687.6 1674.31L680.8 1674.31Z" fill="#3bff1a"/>
<path d="M707.4 1681.11L710.8 1674.31L704 1674.31Z" fill="#3bff1a"/>
<path d="M730.6 1681.11L734 1674.31L727.2 1674.31Z" fill="#3bff1a"/>
<path d="M753.8 1674.14L757.2 1667.34L750.4 1667.34Z" fill="#3bff1a"/>
<line x1="266.6" y1="1773.4" x2="266.6" y2="1818" stroke="#c2c53a" stroke-width="2.2"/>
<line x1="261.3" y1="1773.4" x2="271.9" y2="1773.4" stroke="#c2c53a" stroke-width="2.4"/>
<line x1="261.3" y1="1818" x2="271.9" y2="1818" stroke="#c2c53a" stroke-width="2.4"/>
<line x1="289.8" y1="1769.91" x2="289.8" y2="1814.52" stroke="#c2c53a" stroke-width="2.2"/>
<line x1="284.5" y1="1769.91" x2="295.1" y2="1769.91" stroke="#c2c53a" stroke-width="2.4"/>
<line x1="284.5" y1="1814.52" x2="295.1" y2="1814.52" stroke="#c2c53a" stroke-width="2.4"/>
<line x1="313" y1="1785.24" x2="313" y2="1820.09" stroke="#c2c53a" stroke-width="2.2"/>
<line x1="307.7" y1="1785.24" x2="318.3" y2="1785.24" stroke="#c2c53a" stroke-width="2.4"/>
<line x1="307.7" y1="1820.09" x2="318.3" y2="1820.09" stroke="#c2c53a" stroke-width="2.4"/>
<line x1="336.2" y1="1771.3" x2="336.2" y2="1813.12" stroke="#c2c53a" stroke-width="2.2"/>
<line x1="330.9" y1="1771.3" x2="341.5" y2="1771.3" stroke="#c2c53a" stroke-width="2.4"/>
<line x1="330.9" y1="1813.12" x2="341.5" y2="1813.12" stroke="#c2c53a" stroke-width="2.4"/>
<line x1="359.4" y1="1768.52" x2="359.4" y2="1801.97" stroke="#c2c53a" stroke-width="2.2"/>
<line x1="354.1" y1="1768.52" x2="364.7" y2="1768.52" stroke="#c2c53a" stroke-width="2.4"/>
<line x1="354.1" y1="1801.97" x2="364.7" y2="1801.97" stroke="#c2c53a" stroke-width="2.4"/>
<line x1="382.6" y1="1755.97" x2="382.6" y2="1790.82" stroke="#c2c53a" stroke-width="2.2"/>
<line x1="377.3" y1="1755.97" x2="387.9" y2="1755.97" stroke="#c2c53a" stroke-width="2.4"/>
<line x1="377.3" y1="1790.82" x2="387.9" y2="1790.82" stroke="#c2c53a" stroke-width="2.4"/>
<line x1="405.8" y1="1757.36" x2="405.8" y2="1799.18" stroke="#c2c53a" stroke-width="2.2"/>
<line x1="400.5" y1="1757.36" x2="411.1" y2="1757.36" stroke="#c2c53a" stroke-width="2.4"/>
<line x1="400.5" y1="1799.18" x2="411.1" y2="1799.18" stroke="#c2c53a" stroke-width="2.4"/>
<line x1="429" y1="1727.39" x2="429" y2="1780.37" stroke="#c2c53a" stroke-width="2.2"/>
<line x1="423.7" y1="1727.39" x2="434.3" y2="1727.39" stroke="#c2c53a" stroke-width="2.4"/>
<line x1="423.7" y1="1780.37" x2="434.3" y2="1780.37" stroke="#c2c53a" stroke-width="2.4"/>
<line x1="452.2" y1="1719.03" x2="452.2" y2="1785.94" stroke="#c2c53a" stroke-width="2.2"/>
<line x1="446.9" y1="1719.03" x2="457.5" y2="1719.03" stroke="#c2c53a" stroke-width="2.4"/>
<line x1="446.9" y1="1785.94" x2="457.5" y2="1785.94" stroke="#c2c53a" stroke-width="2.4"/>
<line x1="475.4" y1="1715.55" x2="475.4" y2="1785.24" stroke="#c2c53a" stroke-width="2.2"/>
<line x1="470.1" y1="1715.55" x2="480.7" y2="1715.55" stroke="#c2c53a" stroke-width="2.4"/>
<line x1="470.1" y1="1785.24" x2="480.7" y2="1785.24" stroke="#c2c53a" stroke-width="2.4"/>
<line x1="498.6" y1="1719.03" x2="498.6" y2="1781.76" stroke="#c2c53a" stroke-width="2.2"/>
<line x1="493.3" y1="1719.03" x2="503.9" y2="1719.03" stroke="#c2c53a" stroke-width="2.4"/>
<line x1="493.3" y1="1781.76" x2="503.9" y2="1781.76" stroke="#c2c53a" stroke-width="2.4"/>
<line x1="521.8" y1="1719.03" x2="521.8" y2="1781.76" stroke="#c2c53a" stroke-width="2.2"/>
<line x1="516.5" y1="1719.03" x2="527.1" y2="1719.03" stroke="#c2c53a" stroke-width="2.4"/>
<line x1="516.5" y1="1781.76" x2="527.1" y2="1781.76" stroke="#c2c53a" stroke-width="2.4"/>
<line x1="545" y1="1698.12" x2="545" y2="1774.79" stroke="#c2c53a" stroke-width="2.2"/>
<line x1="539.7" y1="1698.12" x2="550.3" y2="1698.12" stroke="#c2c53a" stroke-width="2.4"/>
<line x1="539.7" y1="1774.79" x2="550.3" y2="1774.79" stroke="#c2c53a" stroke-width="2.4"/>
<line x1="568.2" y1="1684.18" x2="568.2" y2="1753.88" stroke="#c2c53a" stroke-width="2.2"/>
<line x1="562.9" y1="1684.18" x2="573.5" y2="1684.18" stroke="#c2c53a" stroke-width="2.4"/>
<line x1="562.9" y1="1753.88" x2="573.5" y2="1753.88" stroke="#c2c53a" stroke-width="2.4"/>
<line x1="591.4" y1="1673.72" x2="591.4" y2="1750.39" stroke="#c2c53a" stroke-width="2.2"/>
<line x1="586.1" y1="1673.72" x2="596.7" y2="1673.72" stroke="#c2c53a" stroke-width="2.4"/>
<line x1="586.1" y1="1750.39" x2="596.7" y2="1750.39" stroke="#c2c53a" stroke-width="2.4"/>
<line x1="614.6" y1="1671.63" x2="614.6" y2="1745.52" stroke="#c2c53a" stroke-width="2.2"/>
<line x1="609.3" y1="1671.63" x2="619.9" y2="1671.63" stroke="#c2c53a" stroke-width="2.4"/>
<line x1="609.3" y1="1745.52" x2="619.9" y2="1745.52" stroke="#c2c53a" stroke-width="2.4"/>
<line x1="637.8" y1="1656.3" x2="637.8" y2="1732.97" stroke="#c2c53a" stroke-width="2.2"/>
<line x1="632.5" y1="1656.3" x2="643.1" y2="1656.3" stroke="#c2c53a" stroke-width="2.4"/>
<line x1="632.5" y1="1732.97" x2="643.1" y2="1732.97" stroke="#c2c53a" stroke-width="2.4"/>
<line x1="661" y1="1642.36" x2="661" y2="1719.03" stroke="#c2c53a" stroke-width="2.2"/>
<line x1="655.7" y1="1642.36" x2="666.3" y2="1642.36" stroke="#c2c53a" stroke-width="2.4"/>
<line x1="655.7" y1="1719.03" x2="666.3" y2="1719.03" stroke="#c2c53a" stroke-width="2.4"/>
<line x1="684.2" y1="1638.88" x2="684.2" y2="1715.55" stroke="#c2c53a" stroke-width="2.2"/>
<line x1="678.9" y1="1638.88" x2="689.5" y2="1638.88" stroke="#c2c53a" stroke-width="2.4"/>
<line x1="678.9" y1="1715.55" x2="689.5" y2="1715.55" stroke="#c2c53a" stroke-width="2.4"/>
<line x1="707.4" y1="1645.85" x2="707.4" y2="1715.54" stroke="#c2c53a" stroke-width="2.2"/>
<line x1="702.1" y1="1645.85" x2="712.7" y2="1645.85" stroke="#c2c53a" stroke-width="2.4"/>
<line x1="702.1" y1="1715.54" x2="712.7" y2="1715.54" stroke="#c2c53a" stroke-width="2.4"/>
<line x1="730.6" y1="1645.84" x2="730.6" y2="1687.66" stroke="#c2c53a" stroke-width="2.2"/>
<line x1="725.3" y1="1645.84" x2="735.9" y2="1645.84" stroke="#c2c53a" stroke-width="2.4"/>
<line x1="725.3" y1="1687.66" x2="735.9" y2="1687.66" stroke="#c2c53a" stroke-width="2.4"/>
<line x1="753.8" y1="1645.85" x2="753.8" y2="1715.54" stroke="#c2c53a" stroke-width="2.2"/>
<line x1="748.5" y1="1645.85" x2="759.1" y2="1645.85" stroke="#c2c53a" stroke-width="2.4"/>
<line x1="748.5" y1="1715.54" x2="759.1" y2="1715.54" stroke="#c2c53a" stroke-width="2.4"/>
<polyline points="266.6,1795.7 289.8,1792.21 313,1802.67 336.2,1792.21 359.4,1785.24 382.6,1773.4 405.8,1778.27 429,1753.88 452.2,1752.49 475.4,1750.39 498.6,1750.39 521.8,1750.39 545,1736.45 568.2,1719.03 591.4,1712.06 614.6,1708.57 637.8,1694.63 661,1680.69 684.2,1677.21 707.4,1680.69 730.6,1666.75 753.8,1680.69" fill="none" stroke="#c2c53a" stroke-width="4.6" stroke-linejoin="round" stroke-linecap="round"/>
<path d="M266.6 1791.8L270 1798.6L263.2 1798.6Z" fill="#c2c53a"/>
<path d="M289.8 1788.31L293.2 1795.12L286.4 1795.12Z" fill="#c2c53a"/>
<path d="M313 1798.77L316.4 1805.57L309.6 1805.57Z" fill="#c2c53a"/>
<path d="M336.2 1788.31L339.6 1795.12L332.8 1795.12Z" fill="#c2c53a"/>
<path d="M359.4 1781.34L362.8 1788.14L356 1788.14Z" fill="#c2c53a"/>
<path d="M382.6 1769.5L386 1776.3L379.2 1776.3Z" fill="#c2c53a"/>
<path d="M405.8 1774.37L409.2 1781.17L402.4 1781.17Z" fill="#c2c53a"/>
<path d="M429 1749.98L432.4 1756.78L425.6 1756.78Z" fill="#c2c53a"/>
<path d="M452.2 1748.59L455.6 1755.39L448.8 1755.39Z" fill="#c2c53a"/>
<path d="M475.4 1746.49L478.8 1753.3L472 1753.3Z" fill="#c2c53a"/>
<path d="M498.6 1746.49L502 1753.3L495.2 1753.3Z" fill="#c2c53a"/>
<path d="M521.8 1746.49L525.2 1753.3L518.4 1753.3Z" fill="#c2c53a"/>
<path d="M545 1732.55L548.4 1739.36L541.6 1739.36Z" fill="#c2c53a"/>
<path d="M568.2 1715.13L571.6 1721.93L564.8 1721.93Z" fill="#c2c53a"/>
<path d="M591.4 1708.16L594.8 1714.96L588 1714.96Z" fill="#c2c53a"/>
<path d="M614.6 1704.67L618 1711.47L611.2 1711.47Z" fill="#c2c53a"/>
<path d="M637.8 1690.73L641.2 1697.54L634.4 1697.54Z" fill="#c2c53a"/>
<path d="M661 1676.79L664.4 1683.6L657.6 1683.6Z" fill="#c2c53a"/>
<path d="M684.2 1673.31L687.6 1680.11L680.8 1680.11Z" fill="#c2c53a"/>
<path d="M707.4 1676.79L710.8 1683.6L704 1683.6Z" fill="#c2c53a"/>
<path d="M730.6 1662.85L734 1669.65L727.2 1669.65Z" fill="#c2c53a"/>
<path d="M753.8 1676.79L757.2 1683.6L750.4 1683.6Z" fill="#c2c53a"/>
<line x1="289.8" y1="1773.4" x2="289.8" y2="1845.88" stroke="#000" stroke-width="2.2"/>
<line x1="284.5" y1="1773.4" x2="295.1" y2="1773.4" stroke="#000" stroke-width="2.4"/>
<line x1="284.5" y1="1845.88" x2="295.1" y2="1845.88" stroke="#000" stroke-width="2.4"/>
<line x1="313" y1="1831.94" x2="313" y2="1898.86" stroke="#000" stroke-width="2.2"/>
<line x1="307.7" y1="1831.94" x2="318.3" y2="1831.94" stroke="#000" stroke-width="2.4"/>
<line x1="307.7" y1="1898.86" x2="318.3" y2="1898.86" stroke="#000" stroke-width="2.4"/>
<line x1="336.2" y1="1871.67" x2="336.2" y2="1919.07" stroke="#000" stroke-width="2.2"/>
<line x1="330.9" y1="1871.67" x2="341.5" y2="1871.67" stroke="#000" stroke-width="2.4"/>
<line x1="330.9" y1="1919.07" x2="341.5" y2="1919.07" stroke="#000" stroke-width="2.4"/>
<polyline points="266.6,1795.7 289.8,1809.64 313,1865.4 336.2,1895.37 359.4,1928.13" fill="none" stroke="#000" stroke-width="4.6" stroke-linejoin="round" stroke-linecap="round"/>
<rect x="261.7" y="1790.8" width="9.8" height="9.8" fill="#000"/>
<rect x="284.9" y="1804.74" width="9.8" height="9.8" fill="#000"/>
<rect x="308.1" y="1860.5" width="9.8" height="9.8" fill="#000"/>
<rect x="331.3" y="1890.47" width="9.8" height="9.8" fill="#000"/>
<rect x="354.5" y="1923.23" width="9.8" height="9.8" fill="#000"/>
<line x1="266.6" y1="1772.7" x2="266.6" y2="1818.7" stroke="#000" stroke-width="2.2"/>
<line x1="261.3" y1="1772.7" x2="271.9" y2="1772.7" stroke="#000" stroke-width="2.4"/>
<line x1="261.3" y1="1818.7" x2="271.9" y2="1818.7" stroke="#000" stroke-width="2.4"/>
<line x1="289.8" y1="1762.24" x2="289.8" y2="1822.19" stroke="#000" stroke-width="2.2"/>
<line x1="284.5" y1="1762.24" x2="295.1" y2="1762.24" stroke="#000" stroke-width="2.4"/>
<line x1="284.5" y1="1822.19" x2="295.1" y2="1822.19" stroke="#000" stroke-width="2.4"/>
<line x1="313" y1="1734.36" x2="313" y2="1809.64" stroke="#000" stroke-width="2.2"/>
<line x1="307.7" y1="1734.36" x2="318.3" y2="1734.36" stroke="#000" stroke-width="2.4"/>
<line x1="307.7" y1="1809.64" x2="318.3" y2="1809.64" stroke="#000" stroke-width="2.4"/>
<line x1="336.2" y1="1750.39" x2="336.2" y2="1796.4" stroke="#000" stroke-width="2.2"/>
<line x1="330.9" y1="1750.39" x2="341.5" y2="1750.39" stroke="#000" stroke-width="2.4"/>
<line x1="330.9" y1="1796.4" x2="341.5" y2="1796.4" stroke="#000" stroke-width="2.4"/>
<line x1="359.4" y1="1746.91" x2="359.4" y2="1799.88" stroke="#000" stroke-width="2.2"/>
<line x1="354.1" y1="1746.91" x2="364.7" y2="1746.91" stroke="#000" stroke-width="2.4"/>
<line x1="354.1" y1="1799.88" x2="364.7" y2="1799.88" stroke="#000" stroke-width="2.4"/>
<line x1="382.6" y1="1751.79" x2="382.6" y2="1792.21" stroke="#000" stroke-width="2.2"/>
<line x1="377.3" y1="1751.79" x2="387.9" y2="1751.79" stroke="#000" stroke-width="2.4"/>
<line x1="377.3" y1="1792.21" x2="387.9" y2="1792.21" stroke="#000" stroke-width="2.4"/>
<line x1="405.8" y1="1752.49" x2="405.8" y2="1795.7" stroke="#000" stroke-width="2.2"/>
<line x1="400.5" y1="1752.49" x2="411.1" y2="1752.49" stroke="#000" stroke-width="2.4"/>
<line x1="400.5" y1="1795.7" x2="411.1" y2="1795.7" stroke="#000" stroke-width="2.4"/>
<line x1="429" y1="1734.36" x2="429" y2="1801.28" stroke="#000" stroke-width="2.2"/>
<line x1="423.7" y1="1734.36" x2="434.3" y2="1734.36" stroke="#000" stroke-width="2.4"/>
<line x1="423.7" y1="1801.28" x2="434.3" y2="1801.28" stroke="#000" stroke-width="2.4"/>
<line x1="452.2" y1="1721.82" x2="452.2" y2="1788.73" stroke="#000" stroke-width="2.2"/>
<line x1="446.9" y1="1721.82" x2="457.5" y2="1721.82" stroke="#000" stroke-width="2.4"/>
<line x1="446.9" y1="1788.73" x2="457.5" y2="1788.73" stroke="#000" stroke-width="2.4"/>
<line x1="475.4" y1="1719.03" x2="475.4" y2="1784.55" stroke="#000" stroke-width="2.2"/>
<line x1="470.1" y1="1719.03" x2="480.7" y2="1719.03" stroke="#000" stroke-width="2.4"/>
<line x1="470.1" y1="1784.55" x2="480.7" y2="1784.55" stroke="#000" stroke-width="2.4"/>
<line x1="498.6" y1="1725.3" x2="498.6" y2="1779.67" stroke="#000" stroke-width="2.2"/>
<line x1="493.3" y1="1725.3" x2="503.9" y2="1725.3" stroke="#000" stroke-width="2.4"/>
<line x1="493.3" y1="1779.67" x2="503.9" y2="1779.67" stroke="#000" stroke-width="2.4"/>
<line x1="521.8" y1="1725.3" x2="521.8" y2="1779.67" stroke="#000" stroke-width="2.2"/>
<line x1="516.5" y1="1725.3" x2="527.1" y2="1725.3" stroke="#000" stroke-width="2.4"/>
<line x1="516.5" y1="1779.67" x2="527.1" y2="1779.67" stroke="#000" stroke-width="2.4"/>
<line x1="545" y1="1716.24" x2="545" y2="1760.85" stroke="#000" stroke-width="2.2"/>
<line x1="539.7" y1="1716.24" x2="550.3" y2="1716.24" stroke="#000" stroke-width="2.4"/>
<line x1="539.7" y1="1760.85" x2="550.3" y2="1760.85" stroke="#000" stroke-width="2.4"/>
<line x1="568.2" y1="1691.85" x2="568.2" y2="1742.03" stroke="#000" stroke-width="2.2"/>
<line x1="562.9" y1="1691.85" x2="573.5" y2="1691.85" stroke="#000" stroke-width="2.4"/>
<line x1="562.9" y1="1742.03" x2="573.5" y2="1742.03" stroke="#000" stroke-width="2.4"/>
<line x1="591.4" y1="1677.21" x2="591.4" y2="1751.09" stroke="#000" stroke-width="2.2"/>
<line x1="586.1" y1="1677.21" x2="596.7" y2="1677.21" stroke="#000" stroke-width="2.4"/>
<line x1="586.1" y1="1751.09" x2="596.7" y2="1751.09" stroke="#000" stroke-width="2.4"/>
<line x1="614.6" y1="1678.6" x2="614.6" y2="1745.52" stroke="#000" stroke-width="2.2"/>
<line x1="609.3" y1="1678.6" x2="619.9" y2="1678.6" stroke="#000" stroke-width="2.4"/>
<line x1="609.3" y1="1745.52" x2="619.9" y2="1745.52" stroke="#000" stroke-width="2.4"/>
<line x1="637.8" y1="1655.6" x2="637.8" y2="1746.21" stroke="#000" stroke-width="2.2"/>
<line x1="632.5" y1="1655.6" x2="643.1" y2="1655.6" stroke="#000" stroke-width="2.4"/>
<line x1="632.5" y1="1746.21" x2="643.1" y2="1746.21" stroke="#000" stroke-width="2.4"/>
<line x1="661" y1="1638.18" x2="661" y2="1731.58" stroke="#000" stroke-width="2.2"/>
<line x1="655.7" y1="1638.18" x2="666.3" y2="1638.18" stroke="#000" stroke-width="2.4"/>
<line x1="655.7" y1="1731.58" x2="666.3" y2="1731.58" stroke="#000" stroke-width="2.4"/>
<line x1="684.2" y1="1634" x2="684.2" y2="1726" stroke="#000" stroke-width="2.2"/>
<line x1="678.9" y1="1634" x2="689.5" y2="1634" stroke="#000" stroke-width="2.4"/>
<line x1="678.9" y1="1726" x2="689.5" y2="1726" stroke="#000" stroke-width="2.4"/>
<line x1="707.4" y1="1654.91" x2="707.4" y2="1710.67" stroke="#000" stroke-width="2.2"/>
<line x1="702.1" y1="1654.91" x2="712.7" y2="1654.91" stroke="#000" stroke-width="2.4"/>
<line x1="702.1" y1="1710.67" x2="712.7" y2="1710.67" stroke="#000" stroke-width="2.4"/>
<line x1="730.6" y1="1643.75" x2="730.6" y2="1717.64" stroke="#000" stroke-width="2.2"/>
<line x1="725.3" y1="1643.75" x2="735.9" y2="1643.75" stroke="#000" stroke-width="2.4"/>
<line x1="725.3" y1="1717.64" x2="735.9" y2="1717.64" stroke="#000" stroke-width="2.4"/>
<line x1="753.8" y1="1646.54" x2="753.8" y2="1702.3" stroke="#000" stroke-width="2.2"/>
<line x1="748.5" y1="1646.54" x2="759.1" y2="1646.54" stroke="#000" stroke-width="2.4"/>
<line x1="748.5" y1="1702.3" x2="759.1" y2="1702.3" stroke="#000" stroke-width="2.4"/>
<polyline points="266.6,1795.7 289.8,1792.21 313,1772 336.2,1773.4 359.4,1773.4 382.6,1772 405.8,1774.09 429,1767.82 452.2,1755.27 475.4,1751.79 498.6,1752.49 521.8,1752.49 545,1738.55 568.2,1716.94 591.4,1714.15 614.6,1712.06 637.8,1700.91 661,1684.88 684.2,1680 707.4,1682.79 730.6,1680.69 753.8,1674.42" fill="none" stroke="#000" stroke-width="4.6" stroke-linejoin="round" stroke-linecap="round"/>
<circle cx="266.6" cy="1795.7" r="7.3" fill="#000"/>
<circle cx="289.8" cy="1792.21" r="7.3" fill="#000"/>
<circle cx="313" cy="1772" r="7.3" fill="#000"/>
<circle cx="336.2" cy="1773.4" r="7.3" fill="#000"/>
<circle cx="359.4" cy="1773.4" r="7.3" fill="#000"/>
<circle cx="382.6" cy="1772" r="7.3" fill="#000"/>
<circle cx="405.8" cy="1774.09" r="7.3" fill="#000"/>
<circle cx="429" cy="1767.82" r="7.3" fill="#000"/>
<circle cx="452.2" cy="1755.27" r="7.3" fill="#000"/>
<circle cx="475.4" cy="1751.79" r="7.3" fill="#000"/>
<circle cx="498.6" cy="1752.49" r="7.3" fill="#000"/>
<circle cx="521.8" cy="1752.49" r="7.3" fill="#000"/>
<circle cx="545" cy="1738.55" r="7.3" fill="#000"/>
<circle cx="568.2" cy="1716.94" r="7.3" fill="#000"/>
<circle cx="591.4" cy="1714.15" r="7.3" fill="#000"/>
<circle cx="614.6" cy="1712.06" r="7.3" fill="#000"/>
<circle cx="637.8" cy="1700.91" r="7.3" fill="#000"/>
<circle cx="661" cy="1684.88" r="7.3" fill="#000"/>
<circle cx="684.2" cy="1680" r="7.3" fill="#000"/>
<circle cx="707.4" cy="1682.79" r="7.3" fill="#000"/>
<circle cx="730.6" cy="1680.69" r="7.3" fill="#000"/>
<circle cx="753.8" cy="1674.42" r="5.6" fill="#fff" fill-opacity="0.0" stroke="#000" stroke-width="3.4"/>
</g>
<text font-size="24" transform="translate(509.8 1566.3) scale(1.02 1)" font-weight="bold" text-anchor="middle">BALB/c 2.5×10<tspan dy="-9.5" font-size="20">6</tspan><tspan dy="9.5" dx="2.5">PFU</tspan></text>
<text x="526" y="2009" font-size="24.5" font-weight="bold" text-anchor="middle" textLength="227.5" lengthAdjust="spacingAndGlyphs">Days post infection</text>
<text x="190" y="1758.85" font-size="26.5" transform="rotate(-90 190 1758.85)" font-weight="bold" text-anchor="middle" textLength="171.5" lengthAdjust="spacingAndGlyphs">Body weight (%)</text>
<line x1="798.5" y1="1652.4" x2="826.8" y2="1652.4" stroke="#000" stroke-width="4.6"/>
<circle cx="812.65" cy="1652.4" r="7.3" fill="#000"/>
<text x="838.5" y="1660" font-size="25" font-weight="bold">PBS</text>
<line x1="798.5" y1="1688.4" x2="826.8" y2="1688.4" stroke="#000" stroke-width="4.6"/>
<rect x="807.75" y="1683.5" width="9.8" height="9.8" fill="#000"/>
<text x="838.5" y="1696" font-size="25" font-weight="bold">VTT</text>
<line x1="798.5" y1="1724.4" x2="826.8" y2="1724.4" stroke="#c2c53a" stroke-width="4.6"/>
<path d="M812.65 1717.7L817.85 1728.1L807.45 1728.1Z" fill="#c2c53a"/>
<text x="838.5" y="1732" font-size="25" font-weight="bold">dTK</text>
<line x1="798.5" y1="1760.4" x2="826.8" y2="1760.4" stroke="#3bff1a" stroke-width="4.6"/>
<path d="M812.65 1767.1L817.85 1756.7L807.45 1756.7Z" fill="#3bff1a"/>
<text x="838.5" y="1768" font-size="25" font-weight="bold">dF4L</text>
<line x1="798.5" y1="1796.4" x2="826.8" y2="1796.4" stroke="#ff2a1a" stroke-width="4.6"/>
<path d="M812.65 1791L818.05 1796.4L812.65 1801.8L807.25 1796.4Z" fill="#ff2a1a"/>
<text x="838.5" y="1804" font-size="25" font-weight="bold">dTF</text>
<line x1="798.5" y1="1832.4" x2="826.8" y2="1832.4" stroke="#f4651c" stroke-width="4.6"/>
<circle cx="812.65" cy="1832.4" r="7.3" fill="#f4651c"/>
<text x="838.5" y="1840" font-size="25" font-weight="bold">dB2R</text>
<line x1="798.5" y1="1868.4" x2="826.8" y2="1868.4" stroke="#1a1aff" stroke-width="4.6"/>
<rect x="806.05" y="1861.8" width="13.2" height="13.2" rx="2.6" fill="#1a1aff"/>
<text x="838.5" y="1876" font-size="25" font-weight="bold">dBTF</text>
<line x1="1072.2" y1="1631.8" x2="1527.69" y2="1631.8" stroke="#1a1aff" stroke-width="4.2"/>
<line x1="1072.2" y1="1633.1" x2="1527.69" y2="1633.1" stroke="#ff2a1a" stroke-width="3.4"/>
<line x1="1072.2" y1="1633.6" x2="1527.69" y2="1633.6" stroke="#3bff1a" stroke-width="3.4"/>
<line x1="1072.2" y1="1637.1" x2="1527.69" y2="1637.1" stroke="#c2c53a" stroke-width="4.6"/>
<rect x="1519.49" y="1622.8" width="16.5" height="17" rx="3" fill="#1a1aff"/>
<path d="M1527.69 1637.4L1532.29 1628.2L1523.09 1628.2Z" fill="#3bff1a"/>
<path d="M1136.67 1641L1180.05 1641L1180.05 1867.72L1353.57 1867.72L1353.57 1924.7" fill="none" stroke="#f4651c" stroke-width="4" stroke-linejoin="miter"/>
<circle cx="1180.65" cy="1867.72" r="6.4" fill="none" stroke="#f4651c" stroke-width="4.6"/>
<circle cx="1354.17" cy="1924.7" r="6.4" fill="none" stroke="#f4651c" stroke-width="4.6"/>
<path d="M1072.2 1639.8L1137.27 1639.8L1137.27 1696.78L1158.96 1696.78L1158.96 1810.74L1180.65 1810.74L1180.65 1924.7" fill="none" stroke="#000" stroke-width="4.8" stroke-linejoin="miter"/>
<line x1="1072.2" y1="1639.8" x2="1527.69" y2="1639.8" stroke="#000" stroke-width="3.4" stroke-dasharray="0.1 8.6" stroke-linecap="round"/>
<line x1="1072.2" y1="1610" x2="1072.2" y2="1927.1" stroke="#000" stroke-width="4.8"/>
<line x1="1069.8" y1="1924.7" x2="1529" y2="1924.7" stroke="#000" stroke-width="4.8"/>
<circle cx="1354.17" cy="1924.7" r="6.4" fill="none" stroke="#f4651c" stroke-width="4.6"/>
<rect x="1132.67" y="1692.18" width="9.2" height="9.2" fill="#000"/>
<rect x="1154.36" y="1806.14" width="9.2" height="9.2" fill="#000"/>
<rect x="1176.05" y="1920.1" width="9.2" height="9.2" fill="#000"/>
<circle cx="1527.69" cy="1639.8" r="6.6" fill="#c2c53a" stroke="#000" stroke-width="4"/>
<line x1="1062.4" y1="1924.7" x2="1072.2" y2="1924.7" stroke="#000" stroke-width="4.2"/>
<text x="1056.8" y="1933.1" font-size="23.5" font-weight="bold" text-anchor="end">0</text>
<line x1="1062.4" y1="1867.72" x2="1072.2" y2="1867.72" stroke="#000" stroke-width="4.2"/>
<text x="1056.8" y="1876.12" font-size="23.5" font-weight="bold" text-anchor="end">20</text>
<line x1="1062.4" y1="1810.74" x2="1072.2" y2="1810.74" stroke="#000" stroke-width="4.2"/>
<text x="1056.8" y="1819.14" font-size="23.5" font-weight="bold" text-anchor="end">40</text>
<line x1="1062.4" y1="1753.76" x2="1072.2" y2="1753.76" stroke="#000" stroke-width="4.2"/>
<text x="1056.8" y="1762.16" font-size="23.5" font-weight="bold" text-anchor="end">60</text>
<line x1="1062.4" y1="1696.78" x2="1072.2" y2="1696.78" stroke="#000" stroke-width="4.2"/>
<text x="1056.8" y="1705.18" font-size="23.5" font-weight="bold" text-anchor="end">80</text>
<line x1="1062.4" y1="1639.8" x2="1072.2" y2="1639.8" stroke="#000" stroke-width="4.2"/>
<text x="1056.8" y="1648.2" font-size="23.5" font-weight="bold" text-anchor="end">100</text>
<line x1="1072.2" y1="1924.7" x2="1072.2" y2="1935.7" stroke="#000" stroke-width="4.2"/>
<text x="1072.2" y="1960.2" font-size="23.5" font-weight="bold" text-anchor="middle">0</text>
<line x1="1180.65" y1="1924.7" x2="1180.65" y2="1935.7" stroke="#000" stroke-width="4.2"/>
<text x="1180.65" y="1960.2" font-size="23.5" font-weight="bold" text-anchor="middle">5</text>
<line x1="1289.1" y1="1924.7" x2="1289.1" y2="1935.7" stroke="#000" stroke-width="4.2"/>
<text x="1289.1" y="1960.2" font-size="23.5" font-weight="bold" text-anchor="middle">10</text>
<line x1="1397.55" y1="1924.7" x2="1397.55" y2="1935.7" stroke="#000" stroke-width="4.2"/>
<text x="1397.55" y="1960.2" font-size="23.5" font-weight="bold" text-anchor="middle">15</text>
<line x1="1506" y1="1924.7" x2="1506" y2="1935.7" stroke="#000" stroke-width="4.2"/>
<text x="1506" y="1960.2" font-size="23.5" font-weight="bold" text-anchor="middle">20</text>
<text font-size="24.2" transform="translate(1282.9 1573.3) scale(1.04 1)" font-weight="bold" text-anchor="middle">BALB/c 2.5×10<tspan dy="-12.5" font-size="20.5">6</tspan><tspan dy="12.5" dx="2.5">PFU</tspan></text>
<text x="1301.6" y="1998" font-size="25" font-weight="bold" text-anchor="middle" textLength="230.4" lengthAdjust="spacingAndGlyphs">Days post infection</text>
<text x="1004.3" y="1769.8" font-size="26" transform="rotate(-90 1004.3 1769.8)" font-weight="bold" text-anchor="middle" textLength="204" lengthAdjust="spacingAndGlyphs">Survival rate (%)</text>
<circle cx="1595.55" cy="1631.6" r="1.5" fill="#000"/>
<circle cx="1623.55" cy="1631.6" r="1.5" fill="#000"/>
<circle cx="1612.05" cy="1631.6" r="5.4" fill="#fff" stroke="#000" stroke-width="4.14"/>
<circle cx="1613.55" cy="1631.6" r="1.6" fill="#000"/>
<text x="1647.1" y="1640.6" font-size="25" font-weight="bold">PBS</text>
<line x1="1596.8" y1="1674.2" x2="1627.3" y2="1674.2" stroke="#000" stroke-width="4.4"/>
<rect x="1607.91" y="1670.06" width="8.28" height="8.28" fill="#000"/>
<text x="1647.1" y="1683.2" font-size="25" font-weight="bold">VTT</text>
<line x1="1596.8" y1="1716.8" x2="1627.3" y2="1716.8" stroke="#c2c53a" stroke-width="4.4"/>
<path d="M1612.05 1710.33L1617.72 1721.67L1606.38 1721.67Z" fill="#c2c53a"/>
<text x="1647.1" y="1725.8" font-size="25" font-weight="bold">dTK</text>
<line x1="1596.8" y1="1759.4" x2="1627.3" y2="1759.4" stroke="#3bff1a" stroke-width="4.4"/>
<path d="M1612.05 1765.87L1617.72 1754.53L1606.38 1754.53Z" fill="#3bff1a"/>
<text x="1647.1" y="1768.4" font-size="25" font-weight="bold">dF4L</text>
<line x1="1596.8" y1="1802" x2="1627.3" y2="1802" stroke="#ff2a1a" stroke-width="4.4"/>
<path d="M1612.05 1796.06L1617.99 1802L1612.05 1807.94L1606.11 1802Z" fill="#ff2a1a"/>
<text x="1647.1" y="1811" font-size="25" font-weight="bold">dTF</text>
<line x1="1596.8" y1="1844.6" x2="1627.3" y2="1844.6" stroke="#f4651c" stroke-width="4.4"/>
<circle cx="1612.05" cy="1844.6" r="5.67" fill="#fff" stroke="#f4651c" stroke-width="4.5"/>
<line x1="1609.05" y1="1844.6" x2="1615.05" y2="1844.6" stroke="#f4651c" stroke-width="2.2"/>
<text x="1647.1" y="1853.6" font-size="25" font-weight="bold">dB2R</text>
<line x1="1596.8" y1="1887.2" x2="1627.3" y2="1887.2" stroke="#1a1aff" stroke-width="4.4"/>
<rect x="1606.29" y="1881.62" width="11.52" height="11.16" rx="3" fill="#fff" stroke="#1a1aff" stroke-width="4.68"/>
<line x1="1607.05" y1="1887.2" x2="1617.05" y2="1887.2" stroke="#1a1aff" stroke-width="2.6"/>
<text x="1647.1" y="1896.2" font-size="25" font-weight="bold">dBTF</text>
<text x="4" y="1053.2" font-size="43">C</text>
<path d="M221.95 1432.7L221.95 1181.53L242.45 1181.53L242.45 1432.7" fill="#fff" stroke="#7a1f0c" stroke-width="4.7" stroke-linejoin="miter"/>
<path d="M256.55 1432.7L256.55 1300.72L277.05 1300.72L277.05 1432.7" fill="#fff" stroke="#7a1f0c" stroke-width="4.7" stroke-linejoin="miter"/>
<path d="M291.15 1432.7L291.15 1288.91L311.65 1288.91L311.65 1432.7" fill="#fff" stroke="#7a1f0c" stroke-width="4.7" stroke-linejoin="miter"/>
<path d="M325.75 1432.7L325.75 1285.1L346.25 1285.1L346.25 1432.7" fill="#fff" stroke="#7a1f0c" stroke-width="4.7" stroke-linejoin="miter"/>
<path d="M360.35 1432.7L360.35 1149.17L380.85 1149.17L380.85 1432.7" fill="#fff" stroke="#7a1f0c" stroke-width="4.7" stroke-linejoin="miter"/>
<path d="M394.95 1432.7L394.95 1326.61L415.45 1326.61L415.45 1432.7" fill="#fff" stroke="#7a1f0c" stroke-width="4.7" stroke-linejoin="miter"/>
<path d="M452.7 1432.7L452.7 1241.31L473.2 1241.31L473.2 1432.7" fill="#fff" stroke="#5e0a33" stroke-width="4.7" stroke-linejoin="miter"/>
<path d="M487.3 1432.7L487.3 1369.26L507.8 1369.26L507.8 1432.7" fill="#fff" stroke="#5e0a33" stroke-width="4.7" stroke-linejoin="miter"/>
<path d="M521.9 1432.7L521.9 1396.67L542.4 1396.67L542.4 1432.7" fill="#fff" stroke="#5e0a33" stroke-width="4.7" stroke-linejoin="miter"/>
<path d="M556.5 1432.7L556.5 1396.67L577 1396.67L577 1432.7" fill="#fff" stroke="#5e0a33" stroke-width="4.7" stroke-linejoin="miter"/>
<path d="M591.1 1432.7L591.1 1318.99L611.6 1318.99L611.6 1432.7" fill="#fff" stroke="#5e0a33" stroke-width="4.7" stroke-linejoin="miter"/>
<path d="M625.7 1432.7L625.7 1396.67L646.2 1396.67L646.2 1432.7" fill="#fff" stroke="#5e0a33" stroke-width="4.7" stroke-linejoin="miter"/>
<path d="M683.45 1432.7L683.45 1325.09L703.95 1325.09L703.95 1432.7" fill="#fff" stroke="#2f4f12" stroke-width="4.7" stroke-linejoin="miter"/>
<path d="M718.05 1432.7L718.05 1326.61L738.55 1326.61L738.55 1432.7" fill="#fff" stroke="#2f4f12" stroke-width="4.7" stroke-linejoin="miter"/>
<path d="M752.65 1432.7L752.65 1349.46L773.15 1349.46L773.15 1432.7" fill="#fff" stroke="#2f4f12" stroke-width="4.7" stroke-linejoin="miter"/>
<path d="M787.25 1432.7L787.25 1396.67L807.75 1396.67L807.75 1432.7" fill="#fff" stroke="#2f4f12" stroke-width="4.7" stroke-linejoin="miter"/>
<path d="M821.85 1432.7L821.85 1331.94L842.35 1331.94L842.35 1432.7" fill="#fff" stroke="#2f4f12" stroke-width="4.7" stroke-linejoin="miter"/>
<path d="M856.45 1432.7L856.45 1396.67L876.95 1396.67L876.95 1432.7" fill="#fff" stroke="#2f4f12" stroke-width="4.7" stroke-linejoin="miter"/>
<path d="M914.2 1432.7L914.2 1295L934.7 1295L934.7 1432.7" fill="#fff" stroke="#1c4a35" stroke-width="4.7" stroke-linejoin="miter"/>
<path d="M948.8 1432.7L948.8 1396.67L969.3 1396.67L969.3 1432.7" fill="#fff" stroke="#1c4a35" stroke-width="4.7" stroke-linejoin="miter"/>
<path d="M983.4 1432.7L983.4 1396.67L1003.9 1396.67L1003.9 1432.7" fill="#fff" stroke="#1c4a35" stroke-width="4.7" stroke-linejoin="miter"/>
<path d="M1018 1432.7L1018 1396.67L1038.5 1396.67L1038.5 1432.7" fill="#fff" stroke="#1c4a35" stroke-width="4.7" stroke-linejoin="miter"/>
<path d="M1052.6 1432.7L1052.6 1306.43L1073.1 1306.43L1073.1 1432.7" fill="#fff" stroke="#1c4a35" stroke-width="4.7" stroke-linejoin="miter"/>
<path d="M1087.2 1432.7L1087.2 1396.67L1107.7 1396.67L1107.7 1432.7" fill="#fff" stroke="#1c4a35" stroke-width="4.7" stroke-linejoin="miter"/>
<path d="M1144.95 1432.7L1144.95 1340.7L1165.45 1340.7L1165.45 1432.7" fill="#fff" stroke="#233b5e" stroke-width="4.7" stroke-linejoin="miter"/>
<path d="M1179.55 1432.7L1179.55 1396.67L1200.05 1396.67L1200.05 1432.7" fill="#fff" stroke="#233b5e" stroke-width="4.7" stroke-linejoin="miter"/>
<path d="M1214.15 1432.7L1214.15 1396.67L1234.65 1396.67L1234.65 1432.7" fill="#fff" stroke="#233b5e" stroke-width="4.7" stroke-linejoin="miter"/>
<path d="M1248.75 1432.7L1248.75 1396.67L1269.25 1396.67L1269.25 1432.7" fill="#fff" stroke="#233b5e" stroke-width="4.7" stroke-linejoin="miter"/>
<path d="M1283.35 1432.7L1283.35 1386.77L1303.85 1386.77L1303.85 1432.7" fill="#fff" stroke="#233b5e" stroke-width="4.7" stroke-linejoin="miter"/>
<path d="M1317.95 1432.7L1317.95 1396.67L1338.45 1396.67L1338.45 1432.7" fill="#fff" stroke="#233b5e" stroke-width="4.7" stroke-linejoin="miter"/>
<path d="M1375.7 1432.7L1375.7 1347.93L1396.2 1347.93L1396.2 1432.7" fill="#fff" stroke="#c25f3e" stroke-width="4.7" stroke-linejoin="miter"/>
<path d="M1410.3 1432.7L1410.3 1396.67L1430.8 1396.67L1430.8 1432.7" fill="#fff" stroke="#c25f3e" stroke-width="4.7" stroke-linejoin="miter"/>
<path d="M1444.9 1432.7L1444.9 1396.67L1465.4 1396.67L1465.4 1432.7" fill="#fff" stroke="#c25f3e" stroke-width="4.7" stroke-linejoin="miter"/>
<path d="M1479.5 1432.7L1479.5 1389.06L1500 1389.06L1500 1432.7" fill="#fff" stroke="#c25f3e" stroke-width="4.7" stroke-linejoin="miter"/>
<path d="M1514.1 1432.7L1514.1 1359.74L1534.6 1359.74L1534.6 1432.7" fill="#fff" stroke="#c25f3e" stroke-width="4.7" stroke-linejoin="miter"/>
<path d="M1548.7 1432.7L1548.7 1396.67L1569.2 1396.67L1569.2 1432.7" fill="#fff" stroke="#c25f3e" stroke-width="4.7" stroke-linejoin="miter"/>
<line x1="220.4" y1="1394.62" x2="1579" y2="1394.62" stroke="#000" stroke-width="3.3" stroke-dasharray="0.1 8.4" stroke-linecap="round"/>
<line x1="208.4" y1="1087.4" x2="208.4" y2="1435.3" stroke="#1a1a1a" stroke-width="5.2"/>
<line x1="205.8" y1="1432.7" x2="1584" y2="1432.7" stroke="#1a1a1a" stroke-width="5.2"/>
<line x1="194.9" y1="1432.7" x2="208.4" y2="1432.7" stroke="#1a1a1a" stroke-width="4.8"/>
<text x="191.4" y="1436" font-size="17" font-weight="bold" text-anchor="end">-1</text>
<text x="172.9" y="1445" font-size="28.5" font-weight="bold" text-anchor="end">10</text>
<line x1="194.9" y1="1394.62" x2="208.4" y2="1394.62" stroke="#1a1a1a" stroke-width="4.8"/>
<text x="191.4" y="1397.92" font-size="17" font-weight="bold" text-anchor="end">0</text>
<text x="179.4" y="1406.92" font-size="28.5" font-weight="bold" text-anchor="end">10</text>
<line x1="194.9" y1="1356.54" x2="208.4" y2="1356.54" stroke="#1a1a1a" stroke-width="4.8"/>
<text x="191.4" y="1359.84" font-size="17" font-weight="bold" text-anchor="end">1</text>
<text x="179.4" y="1368.84" font-size="28.5" font-weight="bold" text-anchor="end">10</text>
<line x1="194.9" y1="1318.47" x2="208.4" y2="1318.47" stroke="#1a1a1a" stroke-width="4.8"/>
<text x="191.4" y="1321.77" font-size="17" font-weight="bold" text-anchor="end">2</text>
<text x="179.4" y="1330.77" font-size="28.5" font-weight="bold" text-anchor="end">10</text>
<line x1="194.9" y1="1280.39" x2="208.4" y2="1280.39" stroke="#1a1a1a" stroke-width="4.8"/>
<text x="191.4" y="1283.69" font-size="17" font-weight="bold" text-anchor="end">3</text>
<text x="179.4" y="1292.69" font-size="28.5" font-weight="bold" text-anchor="end">10</text>
<line x1="194.9" y1="1242.31" x2="208.4" y2="1242.31" stroke="#1a1a1a" stroke-width="4.8"/>
<text x="191.4" y="1245.61" font-size="17" font-weight="bold" text-anchor="end">4</text>
<text x="179.4" y="1254.61" font-size="28.5" font-weight="bold" text-anchor="end">10</text>
<line x1="194.9" y1="1204.23" x2="208.4" y2="1204.23" stroke="#1a1a1a" stroke-width="4.8"/>
<text x="191.4" y="1207.53" font-size="17" font-weight="bold" text-anchor="end">5</text>
<text x="179.4" y="1216.53" font-size="28.5" font-weight="bold" text-anchor="end">10</text>
<line x1="194.9" y1="1166.16" x2="208.4" y2="1166.16" stroke="#1a1a1a" stroke-width="4.8"/>
<text x="191.4" y="1169.46" font-size="17" font-weight="bold" text-anchor="end">6</text>
<text x="179.4" y="1178.46" font-size="28.5" font-weight="bold" text-anchor="end">10</text>
<line x1="194.9" y1="1128.08" x2="208.4" y2="1128.08" stroke="#1a1a1a" stroke-width="4.8"/>
<text x="191.4" y="1131.38" font-size="17" font-weight="bold" text-anchor="end">7</text>
<text x="179.4" y="1140.38" font-size="28.5" font-weight="bold" text-anchor="end">10</text>
<line x1="194.9" y1="1090" x2="208.4" y2="1090" stroke="#1a1a1a" stroke-width="4.8"/>
<text x="191.4" y="1093.3" font-size="17" font-weight="bold" text-anchor="end">8</text>
<text x="179.4" y="1102.3" font-size="28.5" font-weight="bold" text-anchor="end">10</text>
<line x1="232.2" y1="1432.7" x2="232.2" y2="1448.7" stroke="#1a1a1a" stroke-width="4.8"/>
<text font-size="26.5" transform="translate(237.7 1472.7) rotate(-45) scale(0.93 1)" text-anchor="end" stroke="#000" stroke-width="0.85">VTT</text>
<line x1="266.8" y1="1432.7" x2="266.8" y2="1448.7" stroke="#1a1a1a" stroke-width="4.8"/>
<text font-size="26.5" transform="translate(272.3 1472.7) rotate(-45) scale(0.93 1)" text-anchor="end" stroke="#000" stroke-width="0.85">dTK</text>
<line x1="301.4" y1="1432.7" x2="301.4" y2="1448.7" stroke="#1a1a1a" stroke-width="4.8"/>
<text font-size="26.5" transform="translate(306.9 1472.7) rotate(-45) scale(0.93 1)" text-anchor="end" stroke="#000" stroke-width="0.85">dF4L</text>
<line x1="336" y1="1432.7" x2="336" y2="1448.7" stroke="#1a1a1a" stroke-width="4.8"/>
<text font-size="26.5" transform="translate(341.5 1472.7) rotate(-45) scale(0.93 1)" text-anchor="end" stroke="#000" stroke-width="0.85">dTF</text>
<line x1="370.6" y1="1432.7" x2="370.6" y2="1448.7" stroke="#1a1a1a" stroke-width="4.8"/>
<text font-size="26.5" transform="translate(376.1 1472.7) rotate(-45) scale(0.93 1)" text-anchor="end" stroke="#000" stroke-width="0.85">dB2R</text>
<line x1="405.2" y1="1432.7" x2="405.2" y2="1448.7" stroke="#1a1a1a" stroke-width="4.8"/>
<text font-size="26.5" transform="translate(410.7 1472.7) rotate(-45) scale(0.93 1)" text-anchor="end" stroke="#000" stroke-width="0.85">dBTF</text>
<line x1="462.95" y1="1432.7" x2="462.95" y2="1448.7" stroke="#1a1a1a" stroke-width="4.8"/>
<text font-size="26.5" transform="translate(468.45 1472.7) rotate(-45) scale(0.93 1)" text-anchor="end" stroke="#000" stroke-width="0.85">VTT</text>
<line x1="497.55" y1="1432.7" x2="497.55" y2="1448.7" stroke="#1a1a1a" stroke-width="4.8"/>
<text font-size="26.5" transform="translate(503.05 1472.7) rotate(-45) scale(0.93 1)" text-anchor="end" stroke="#000" stroke-width="0.85">dTK</text>
<line x1="532.15" y1="1432.7" x2="532.15" y2="1448.7" stroke="#1a1a1a" stroke-width="4.8"/>
<text font-size="26.5" transform="translate(537.65 1472.7) rotate(-45) scale(0.93 1)" text-anchor="end" stroke="#000" stroke-width="0.85">dF4L</text>
<line x1="566.75" y1="1432.7" x2="566.75" y2="1448.7" stroke="#1a1a1a" stroke-width="4.8"/>
<text font-size="26.5" transform="translate(572.25 1472.7) rotate(-45) scale(0.93 1)" text-anchor="end" stroke="#000" stroke-width="0.85">dTF</text>
<line x1="601.35" y1="1432.7" x2="601.35" y2="1448.7" stroke="#1a1a1a" stroke-width="4.8"/>
<text font-size="26.5" transform="translate(606.85 1472.7) rotate(-45) scale(0.93 1)" text-anchor="end" stroke="#000" stroke-width="0.85">dB2R</text>
<line x1="635.95" y1="1432.7" x2="635.95" y2="1448.7" stroke="#1a1a1a" stroke-width="4.8"/>
<text font-size="26.5" transform="translate(641.45 1472.7) rotate(-45) scale(0.93 1)" text-anchor="end" stroke="#000" stroke-width="0.85">dBTF</text>
<line x1="693.7" y1="1432.7" x2="693.7" y2="1448.7" stroke="#1a1a1a" stroke-width="4.8"/>
<text font-size="26.5" transform="translate(699.2 1472.7) rotate(-45) scale(0.93 1)" text-anchor="end" stroke="#000" stroke-width="0.85">VTT</text>
<line x1="728.3" y1="1432.7" x2="728.3" y2="1448.7" stroke="#1a1a1a" stroke-width="4.8"/>
<text font-size="26.5" transform="translate(733.8 1472.7) rotate(-45) scale(0.93 1)" text-anchor="end" stroke="#000" stroke-width="0.85">dTK</text>
<line x1="762.9" y1="1432.7" x2="762.9" y2="1448.7" stroke="#1a1a1a" stroke-width="4.8"/>
<text font-size="26.5" transform="translate(768.4 1472.7) rotate(-45) scale(0.93 1)" text-anchor="end" stroke="#000" stroke-width="0.85">dF4L</text>
<line x1="797.5" y1="1432.7" x2="797.5" y2="1448.7" stroke="#1a1a1a" stroke-width="4.8"/>
<text font-size="26.5" transform="translate(803 1472.7) rotate(-45) scale(0.93 1)" text-anchor="end" stroke="#000" stroke-width="0.85">dTF</text>
<line x1="832.1" y1="1432.7" x2="832.1" y2="1448.7" stroke="#1a1a1a" stroke-width="4.8"/>
<text font-size="26.5" transform="translate(837.6 1472.7) rotate(-45) scale(0.93 1)" text-anchor="end" stroke="#000" stroke-width="0.85">dB2R</text>
<line x1="866.7" y1="1432.7" x2="866.7" y2="1448.7" stroke="#1a1a1a" stroke-width="4.8"/>
<text font-size="26.5" transform="translate(872.2 1472.7) rotate(-45) scale(0.93 1)" text-anchor="end" stroke="#000" stroke-width="0.85">dBTF</text>
<line x1="924.45" y1="1432.7" x2="924.45" y2="1448.7" stroke="#1a1a1a" stroke-width="4.8"/>
<text font-size="26.5" transform="translate(929.95 1472.7) rotate(-45) scale(0.93 1)" text-anchor="end" stroke="#000" stroke-width="0.85">VTT</text>
<line x1="959.05" y1="1432.7" x2="959.05" y2="1448.7" stroke="#1a1a1a" stroke-width="4.8"/>
<text font-size="26.5" transform="translate(964.55 1472.7) rotate(-45) scale(0.93 1)" text-anchor="end" stroke="#000" stroke-width="0.85">dTK</text>
<line x1="993.65" y1="1432.7" x2="993.65" y2="1448.7" stroke="#1a1a1a" stroke-width="4.8"/>
<text font-size="26.5" transform="translate(999.15 1472.7) rotate(-45) scale(0.93 1)" text-anchor="end" stroke="#000" stroke-width="0.85">dF4L</text>
<line x1="1028.25" y1="1432.7" x2="1028.25" y2="1448.7" stroke="#1a1a1a" stroke-width="4.8"/>
<text font-size="26.5" transform="translate(1033.75 1472.7) rotate(-45) scale(0.93 1)" text-anchor="end" stroke="#000" stroke-width="0.85">dTF</text>
<line x1="1062.85" y1="1432.7" x2="1062.85" y2="1448.7" stroke="#1a1a1a" stroke-width="4.8"/>
<text font-size="26.5" transform="translate(1068.35 1472.7) rotate(-45) scale(0.93 1)" text-anchor="end" stroke="#000" stroke-width="0.85">dB2R</text>
<line x1="1097.45" y1="1432.7" x2="1097.45" y2="1448.7" stroke="#1a1a1a" stroke-width="4.8"/>
<text font-size="26.5" transform="translate(1102.95 1472.7) rotate(-45) scale(0.93 1)" text-anchor="end" stroke="#000" stroke-width="0.85">dBTF</text>
<line x1="1155.2" y1="1432.7" x2="1155.2" y2="1448.7" stroke="#1a1a1a" stroke-width="4.8"/>
<text font-size="26.5" transform="translate(1160.7 1472.7) rotate(-45) scale(0.93 1)" text-anchor="end" stroke="#000" stroke-width="0.85">VTT</text>
<line x1="1189.8" y1="1432.7" x2="1189.8" y2="1448.7" stroke="#1a1a1a" stroke-width="4.8"/>
<text font-size="26.5" transform="translate(1195.3 1472.7) rotate(-45) scale(0.93 1)" text-anchor="end" stroke="#000" stroke-width="0.85">dTK</text>
<line x1="1224.4" y1="1432.7" x2="1224.4" y2="1448.7" stroke="#1a1a1a" stroke-width="4.8"/>
<text font-size="26.5" transform="translate(1229.9 1472.7) rotate(-45) scale(0.93 1)" text-anchor="end" stroke="#000" stroke-width="0.85">dF4L</text>
<line x1="1259" y1="1432.7" x2="1259" y2="1448.7" stroke="#1a1a1a" stroke-width="4.8"/>
<text font-size="26.5" transform="translate(1264.5 1472.7) rotate(-45) scale(0.93 1)" text-anchor="end" stroke="#000" stroke-width="0.85">dTF</text>
<line x1="1293.6" y1="1432.7" x2="1293.6" y2="1448.7" stroke="#1a1a1a" stroke-width="4.8"/>
<text font-size="26.5" transform="translate(1299.1 1472.7) rotate(-45) scale(0.93 1)" text-anchor="end" stroke="#000" stroke-width="0.85">dB2R</text>
<line x1="1328.2" y1="1432.7" x2="1328.2" y2="1448.7" stroke="#1a1a1a" stroke-width="4.8"/>
<text font-size="26.5" transform="translate(1333.7 1472.7) rotate(-45) scale(0.93 1)" text-anchor="end" stroke="#000" stroke-width="0.85">dBTF</text>
<line x1="1385.95" y1="1432.7" x2="1385.95" y2="1448.7" stroke="#1a1a1a" stroke-width="4.8"/>
<text font-size="26.5" transform="translate(1391.45 1472.7) rotate(-45) scale(0.93 1)" text-anchor="end" stroke="#000" stroke-width="0.85">VTT</text>
<line x1="1420.55" y1="1432.7" x2="1420.55" y2="1448.7" stroke="#1a1a1a" stroke-width="4.8"/>
<text font-size="26.5" transform="translate(1426.05 1472.7) rotate(-45) scale(0.93 1)" text-anchor="end" stroke="#000" stroke-width="0.85">dTK</text>
<line x1="1455.15" y1="1432.7" x2="1455.15" y2="1448.7" stroke="#1a1a1a" stroke-width="4.8"/>
<text font-size="26.5" transform="translate(1460.65 1472.7) rotate(-45) scale(0.93 1)" text-anchor="end" stroke="#000" stroke-width="0.85">dF4L</text>
<line x1="1489.75" y1="1432.7" x2="1489.75" y2="1448.7" stroke="#1a1a1a" stroke-width="4.8"/>
<text font-size="26.5" transform="translate(1495.25 1472.7) rotate(-45) scale(0.93 1)" text-anchor="end" stroke="#000" stroke-width="0.85">dTF</text>
<line x1="1524.35" y1="1432.7" x2="1524.35" y2="1448.7" stroke="#1a1a1a" stroke-width="4.8"/>
<text font-size="26.5" transform="translate(1529.85 1472.7) rotate(-45) scale(0.93 1)" text-anchor="end" stroke="#000" stroke-width="0.85">dB2R</text>
<line x1="1558.95" y1="1432.7" x2="1558.95" y2="1448.7" stroke="#1a1a1a" stroke-width="4.8"/>
<text font-size="26.5" transform="translate(1564.45 1472.7) rotate(-45) scale(0.93 1)" text-anchor="end" stroke="#000" stroke-width="0.85">dBTF</text>
<circle cx="232.2" cy="1155.87" r="5.4" fill="#b35e45"/>
<circle cx="232.2" cy="1217.18" r="5.4" fill="#b35e45"/>
<circle cx="239.2" cy="1257.92" r="5.4" fill="#b35e45"/>
<circle cx="226.2" cy="1265.16" r="5.4" fill="#b35e45"/>
<circle cx="260.8" cy="1284.96" r="5.4" fill="#b35e45"/>
<circle cx="273.8" cy="1294.86" r="5.4" fill="#b35e45"/>
<circle cx="266.8" cy="1304.76" r="5.4" fill="#b35e45"/>
<circle cx="266.8" cy="1394.62" r="5.4" fill="#b35e45"/>
<circle cx="295.4" cy="1281.15" r="5.4" fill="#b35e45"/>
<circle cx="302.4" cy="1276.96" r="5.4" fill="#b35e45"/>
<circle cx="302.4" cy="1289.91" r="5.4" fill="#b35e45"/>
<circle cx="301.4" cy="1394.62" r="5.4" fill="#b35e45"/>
<circle cx="336" cy="1262.49" r="5.4" fill="#b35e45"/>
<circle cx="336" cy="1288.39" r="5.4" fill="#b35e45"/>
<circle cx="330" cy="1394.62" r="5.4" fill="#b35e45"/>
<circle cx="342" cy="1394.62" r="5.4" fill="#b35e45"/>
<circle cx="370.6" cy="1125.79" r="5.4" fill="#b35e45"/>
<circle cx="370.6" cy="1155.87" r="5.4" fill="#b35e45"/>
<circle cx="370.6" cy="1204.23" r="5.4" fill="#b35e45"/>
<circle cx="370.6" cy="1234.31" r="5.4" fill="#b35e45"/>
<circle cx="405.2" cy="1300.19" r="5.4" fill="#b35e45"/>
<circle cx="398.2" cy="1394.62" r="5.4" fill="#b35e45"/>
<circle cx="405.2" cy="1394.62" r="5.4" fill="#b35e45"/>
<circle cx="412.2" cy="1394.62" r="5.4" fill="#b35e45"/>
<rect x="457.75" y="1218.45" width="10.4" height="10.4" fill="#a23669"/>
<rect x="457.75" y="1227.59" width="10.4" height="10.4" fill="#a23669"/>
<rect x="457.75" y="1244.35" width="10.4" height="10.4" fill="#a23669"/>
<rect x="457.75" y="1288.9" width="10.4" height="10.4" fill="#a23669"/>
<rect x="492.35" y="1340.68" width="10.4" height="10.4" fill="#a23669"/>
<rect x="486.55" y="1389.42" width="10.4" height="10.4" fill="#a23669"/>
<rect x="492.35" y="1389.42" width="10.4" height="10.4" fill="#a23669"/>
<rect x="498.15" y="1389.42" width="10.4" height="10.4" fill="#a23669"/>
<rect x="520.95" y="1389.42" width="10.4" height="10.4" fill="#a23669"/>
<rect x="524.95" y="1389.42" width="10.4" height="10.4" fill="#a23669"/>
<rect x="528.95" y="1389.42" width="10.4" height="10.4" fill="#a23669"/>
<rect x="532.95" y="1389.42" width="10.4" height="10.4" fill="#a23669"/>
<rect x="555.55" y="1389.42" width="10.4" height="10.4" fill="#a23669"/>
<rect x="559.55" y="1389.42" width="10.4" height="10.4" fill="#a23669"/>
<rect x="563.55" y="1389.42" width="10.4" height="10.4" fill="#a23669"/>
<rect x="567.55" y="1389.42" width="10.4" height="10.4" fill="#a23669"/>
<rect x="596.15" y="1296.51" width="10.4" height="10.4" fill="#a23669"/>
<rect x="592.15" y="1316.31" width="10.4" height="10.4" fill="#a23669"/>
<rect x="601.15" y="1316.31" width="10.4" height="10.4" fill="#a23669"/>
<rect x="596.15" y="1332.69" width="10.4" height="10.4" fill="#a23669"/>
<rect x="624.75" y="1389.42" width="10.4" height="10.4" fill="#a23669"/>
<rect x="628.75" y="1389.42" width="10.4" height="10.4" fill="#a23669"/>
<rect x="632.75" y="1389.42" width="10.4" height="10.4" fill="#a23669"/>
<rect x="636.75" y="1389.42" width="10.4" height="10.4" fill="#a23669"/>
<path d="M686.7 1314.21L692.1 1325.01L681.3 1325.01Z" fill="#5a8a2e"/>
<path d="M692.7 1315.35L698.1 1326.15L687.3 1326.15Z" fill="#5a8a2e"/>
<path d="M699.7 1306.59L705.1 1317.39L694.3 1317.39Z" fill="#5a8a2e"/>
<path d="M693.7 1389.22L699.1 1400.02L688.3 1400.02Z" fill="#5a8a2e"/>
<path d="M728.3 1295.93L733.7 1306.73L722.9 1306.73Z" fill="#5a8a2e"/>
<path d="M722.5 1389.22L727.9 1400.02L717.1 1400.02Z" fill="#5a8a2e"/>
<path d="M728.3 1389.22L733.7 1400.02L722.9 1400.02Z" fill="#5a8a2e"/>
<path d="M734.1 1389.22L739.5 1400.02L728.7 1400.02Z" fill="#5a8a2e"/>
<path d="M762.9 1319.16L768.3 1329.96L757.5 1329.96Z" fill="#5a8a2e"/>
<path d="M757.1 1389.22L762.5 1400.02L751.7 1400.02Z" fill="#5a8a2e"/>
<path d="M762.9 1389.22L768.3 1400.02L757.5 1400.02Z" fill="#5a8a2e"/>
<path d="M768.7 1389.22L774.1 1400.02L763.3 1400.02Z" fill="#5a8a2e"/>
<path d="M791.5 1389.22L796.9 1400.02L786.1 1400.02Z" fill="#5a8a2e"/>
<path d="M795.5 1389.22L800.9 1400.02L790.1 1400.02Z" fill="#5a8a2e"/>
<path d="M799.5 1389.22L804.9 1400.02L794.1 1400.02Z" fill="#5a8a2e"/>
<path d="M803.5 1389.22L808.9 1400.02L798.1 1400.02Z" fill="#5a8a2e"/>
<path d="M826.1 1317.64L831.5 1328.44L820.7 1328.44Z" fill="#5a8a2e"/>
<path d="M838.1 1313.83L843.5 1324.63L832.7 1324.63Z" fill="#5a8a2e"/>
<path d="M832.1 1324.11L837.5 1334.91L826.7 1334.91Z" fill="#5a8a2e"/>
<path d="M832.1 1389.22L837.5 1400.02L826.7 1400.02Z" fill="#5a8a2e"/>
<path d="M860.7 1389.22L866.1 1400.02L855.3 1400.02Z" fill="#5a8a2e"/>
<path d="M864.7 1389.22L870.1 1400.02L859.3 1400.02Z" fill="#5a8a2e"/>
<path d="M868.7 1389.22L874.1 1400.02L863.3 1400.02Z" fill="#5a8a2e"/>
<path d="M872.7 1389.22L878.1 1400.02L867.3 1400.02Z" fill="#5a8a2e"/>
<path d="M924.45 1274.75L929.85 1263.95L919.05 1263.95Z" fill="#3f9472"/>
<path d="M924.45 1318.92L929.85 1308.12L919.05 1308.12Z" fill="#3f9472"/>
<path d="M917.45 1400.02L922.85 1389.22L912.05 1389.22Z" fill="#3f9472"/>
<path d="M931.45 1400.02L936.85 1389.22L926.05 1389.22Z" fill="#3f9472"/>
<path d="M953.05 1400.02L958.45 1389.22L947.65 1389.22Z" fill="#3f9472"/>
<path d="M957.05 1400.02L962.45 1389.22L951.65 1389.22Z" fill="#3f9472"/>
<path d="M961.05 1400.02L966.45 1389.22L955.65 1389.22Z" fill="#3f9472"/>
<path d="M965.05 1400.02L970.45 1389.22L959.65 1389.22Z" fill="#3f9472"/>
<path d="M987.65 1400.02L993.05 1389.22L982.25 1389.22Z" fill="#3f9472"/>
<path d="M991.65 1400.02L997.05 1389.22L986.25 1389.22Z" fill="#3f9472"/>
<path d="M995.65 1400.02L1001.05 1389.22L990.25 1389.22Z" fill="#3f9472"/>
<path d="M999.65 1400.02L1005.05 1389.22L994.25 1389.22Z" fill="#3f9472"/>
<path d="M1022.25 1400.02L1027.65 1389.22L1016.85 1389.22Z" fill="#3f9472"/>
<path d="M1026.25 1400.02L1031.65 1389.22L1020.85 1389.22Z" fill="#3f9472"/>
<path d="M1030.25 1400.02L1035.65 1389.22L1024.85 1389.22Z" fill="#3f9472"/>
<path d="M1034.25 1400.02L1039.65 1389.22L1028.85 1389.22Z" fill="#3f9472"/>
<path d="M1062.85 1288.45L1068.25 1277.65L1057.45 1277.65Z" fill="#3f9472"/>
<path d="M1062.85 1312.06L1068.25 1301.26L1057.45 1301.26Z" fill="#3f9472"/>
<path d="M1055.85 1400.02L1061.25 1389.22L1050.45 1389.22Z" fill="#3f9472"/>
<path d="M1069.85 1400.02L1075.25 1389.22L1064.45 1389.22Z" fill="#3f9472"/>
<path d="M1091.45 1400.02L1096.85 1389.22L1086.05 1389.22Z" fill="#3f9472"/>
<path d="M1095.45 1400.02L1100.85 1389.22L1090.05 1389.22Z" fill="#3f9472"/>
<path d="M1099.45 1400.02L1104.85 1389.22L1094.05 1389.22Z" fill="#3f9472"/>
<path d="M1103.45 1400.02L1108.85 1389.22L1098.05 1389.22Z" fill="#3f9472"/>
<path d="M1155.2 1322.01L1160.8 1327.61L1155.2 1333.21L1149.6 1327.61Z" fill="#4a72b0"/>
<path d="M1161.2 1329.24L1166.8 1334.84L1161.2 1340.44L1155.6 1334.84Z" fill="#4a72b0"/>
<path d="M1155.2 1334.57L1160.8 1340.17L1155.2 1345.77L1149.6 1340.17Z" fill="#4a72b0"/>
<path d="M1155.2 1359.7L1160.8 1365.3L1155.2 1370.9L1149.6 1365.3Z" fill="#4a72b0"/>
<path d="M1183.8 1389.02L1189.4 1394.62L1183.8 1400.22L1178.2 1394.62Z" fill="#4a72b0"/>
<path d="M1187.8 1389.02L1193.4 1394.62L1187.8 1400.22L1182.2 1394.62Z" fill="#4a72b0"/>
<path d="M1191.8 1389.02L1197.4 1394.62L1191.8 1400.22L1186.2 1394.62Z" fill="#4a72b0"/>
<path d="M1195.8 1389.02L1201.4 1394.62L1195.8 1400.22L1190.2 1394.62Z" fill="#4a72b0"/>
<path d="M1218.4 1389.02L1224 1394.62L1218.4 1400.22L1212.8 1394.62Z" fill="#4a72b0"/>
<path d="M1222.4 1389.02L1228 1394.62L1222.4 1400.22L1216.8 1394.62Z" fill="#4a72b0"/>
<path d="M1226.4 1389.02L1232 1394.62L1226.4 1400.22L1220.8 1394.62Z" fill="#4a72b0"/>
<path d="M1230.4 1389.02L1236 1394.62L1230.4 1400.22L1224.8 1394.62Z" fill="#4a72b0"/>
<path d="M1253 1389.02L1258.6 1394.62L1253 1400.22L1247.4 1394.62Z" fill="#4a72b0"/>
<path d="M1257 1389.02L1262.6 1394.62L1257 1400.22L1251.4 1394.62Z" fill="#4a72b0"/>
<path d="M1261 1389.02L1266.6 1394.62L1261 1400.22L1255.4 1394.62Z" fill="#4a72b0"/>
<path d="M1265 1389.02L1270.6 1394.62L1265 1400.22L1259.4 1394.62Z" fill="#4a72b0"/>
<path d="M1293.6 1363.13L1299.2 1368.73L1293.6 1374.33L1288 1368.73Z" fill="#4a72b0"/>
<path d="M1287.8 1389.02L1293.4 1394.62L1287.8 1400.22L1282.2 1394.62Z" fill="#4a72b0"/>
<path d="M1293.6 1389.02L1299.2 1394.62L1293.6 1400.22L1288 1394.62Z" fill="#4a72b0"/>
<path d="M1299.4 1389.02L1305 1394.62L1299.4 1400.22L1293.8 1394.62Z" fill="#4a72b0"/>
<path d="M1322.2 1389.02L1327.8 1394.62L1322.2 1400.22L1316.6 1394.62Z" fill="#4a72b0"/>
<path d="M1326.2 1389.02L1331.8 1394.62L1326.2 1400.22L1320.6 1394.62Z" fill="#4a72b0"/>
<path d="M1330.2 1389.02L1335.8 1394.62L1330.2 1400.22L1324.6 1394.62Z" fill="#4a72b0"/>
<path d="M1334.2 1389.02L1339.8 1394.62L1334.2 1400.22L1328.6 1394.62Z" fill="#4a72b0"/>
<path d="M1385.95 1339.41L1382.95 1344.61L1376.95 1344.61L1373.95 1339.41L1376.95 1334.21L1382.95 1334.21Z" fill="#f28c3f"/>
<path d="M1397.95 1341.69L1394.95 1346.89L1388.95 1346.89L1385.95 1341.69L1388.95 1336.5L1394.95 1336.5Z" fill="#f28c3f"/>
<path d="M1391.95 1343.6L1388.95 1348.79L1382.95 1348.79L1379.95 1343.6L1382.95 1338.4L1388.95 1338.4Z" fill="#f28c3f"/>
<path d="M1391.95 1360.73L1388.95 1365.93L1382.95 1365.93L1379.95 1360.73L1382.95 1355.54L1388.95 1355.54Z" fill="#f28c3f"/>
<path d="M1420.55 1394.62L1417.55 1399.82L1411.55 1399.82L1408.55 1394.62L1411.55 1389.43L1417.55 1389.43Z" fill="#f28c3f"/>
<path d="M1424.55 1394.62L1421.55 1399.82L1415.55 1399.82L1412.55 1394.62L1415.55 1389.43L1421.55 1389.43Z" fill="#f28c3f"/>
<path d="M1428.55 1394.62L1425.55 1399.82L1419.55 1399.82L1416.55 1394.62L1419.55 1389.43L1425.55 1389.43Z" fill="#f28c3f"/>
<path d="M1432.55 1394.62L1429.55 1399.82L1423.55 1399.82L1420.55 1394.62L1423.55 1389.43L1429.55 1389.43Z" fill="#f28c3f"/>
<path d="M1455.15 1394.62L1452.15 1399.82L1446.15 1399.82L1443.15 1394.62L1446.15 1389.43L1452.15 1389.43Z" fill="#f28c3f"/>
<path d="M1459.15 1394.62L1456.15 1399.82L1450.15 1399.82L1447.15 1394.62L1450.15 1389.43L1456.15 1389.43Z" fill="#f28c3f"/>
<path d="M1463.15 1394.62L1460.15 1399.82L1454.15 1399.82L1451.15 1394.62L1454.15 1389.43L1460.15 1389.43Z" fill="#f28c3f"/>
<path d="M1467.15 1394.62L1464.15 1399.82L1458.15 1399.82L1455.15 1394.62L1458.15 1389.43L1464.15 1389.43Z" fill="#f28c3f"/>
<path d="M1495.75 1372.54L1492.75 1377.73L1486.75 1377.73L1483.75 1372.54L1486.75 1367.34L1492.75 1367.34Z" fill="#f28c3f"/>
<path d="M1489.95 1394.62L1486.95 1399.82L1480.95 1399.82L1477.95 1394.62L1480.95 1389.43L1486.95 1389.43Z" fill="#f28c3f"/>
<path d="M1495.75 1394.62L1492.75 1399.82L1486.75 1399.82L1483.75 1394.62L1486.75 1389.43L1492.75 1389.43Z" fill="#f28c3f"/>
<path d="M1501.55 1394.62L1498.55 1399.82L1492.55 1399.82L1489.55 1394.62L1492.55 1389.43L1498.55 1389.43Z" fill="#f28c3f"/>
<path d="M1525.35 1351.98L1522.35 1357.17L1516.35 1357.17L1513.35 1351.98L1516.35 1346.78L1522.35 1346.78Z" fill="#f28c3f"/>
<path d="M1531.35 1353.88L1528.35 1359.08L1522.35 1359.08L1519.35 1353.88L1522.35 1348.68L1528.35 1348.68Z" fill="#f28c3f"/>
<path d="M1538.35 1356.93L1535.35 1362.12L1529.35 1362.12L1526.35 1356.93L1529.35 1351.73L1535.35 1351.73Z" fill="#f28c3f"/>
<path d="M1524.35 1364.54L1521.35 1369.74L1515.35 1369.74L1512.35 1364.54L1515.35 1359.34L1521.35 1359.34Z" fill="#f28c3f"/>
<path d="M1558.95 1394.62L1555.95 1399.82L1549.95 1399.82L1546.95 1394.62L1549.95 1389.43L1555.95 1389.43Z" fill="#f28c3f"/>
<path d="M1562.95 1394.62L1559.95 1399.82L1553.95 1399.82L1550.95 1394.62L1553.95 1389.43L1559.95 1389.43Z" fill="#f28c3f"/>
<path d="M1566.95 1394.62L1563.95 1399.82L1557.95 1399.82L1554.95 1394.62L1557.95 1389.43L1563.95 1389.43Z" fill="#f28c3f"/>
<path d="M1570.95 1394.62L1567.95 1399.82L1561.95 1399.82L1558.95 1394.62L1561.95 1389.43L1567.95 1389.43Z" fill="#f28c3f"/>
<circle cx="1597.9" cy="1114.7" r="5.4" fill="#b35e45"/>
<text font-size="27.8" transform="translate(1637.8 1124.7) scale(0.99 1)" stroke="#000" stroke-width="0.5">Lung</text>
<rect x="1592.7" y="1156.2" width="10.4" height="10.4" fill="#a23669"/>
<text font-size="27.8" transform="translate(1637.8 1171.4) scale(0.99 1)" stroke="#000" stroke-width="0.5">Brain</text>
<path d="M1597.9 1202.7L1603.3 1213.5L1592.5 1213.5Z" fill="#5a8a2e"/>
<text font-size="27.8" transform="translate(1637.8 1218.1) scale(0.99 1)" stroke="#000" stroke-width="0.5">Heart</text>
<path d="M1597.9 1260.2L1603.3 1249.4L1592.5 1249.4Z" fill="#3f9472"/>
<text font-size="27.8" transform="translate(1637.8 1264.8) scale(0.99 1)" stroke="#000" stroke-width="0.5">Spleen</text>
<path d="M1597.9 1295.9L1603.5 1301.5L1597.9 1307.1L1592.3 1301.5Z" fill="#4a72b0"/>
<text font-size="27.8" transform="translate(1637.8 1311.5) scale(0.99 1)" stroke="#000" stroke-width="0.5">Kidney</text>
<path d="M1603.9 1348.2L1600.9 1353.4L1594.9 1353.4L1591.9 1348.2L1594.9 1343L1600.9 1343Z" fill="#f28c3f"/>
<text font-size="27.8" transform="translate(1637.8 1358.2) scale(0.99 1)" stroke="#000" stroke-width="0.5">Liver</text>
<text font-size="26.4" transform="translate(893.9 1068.6) scale(1.07 1)" font-weight="bold" text-anchor="middle">BALB/c (2.5×10<tspan dy="-12.8" font-size="21.5">5</tspan><tspan dy="12.8">PFU)</tspan></text>
<text x="117" y="1259.35" font-size="28.5" transform="rotate(-90 117 1259.35)" font-weight="bold" text-anchor="middle" textLength="299" lengthAdjust="spacingAndGlyphs">Genome copies/100mg</text>
<text x="3.5" y="2048.7" font-size="43">E</text>
<path d="M215.75 2415.2L215.75 2102.87L236.25 2102.87L236.25 2415.2" fill="#fff" stroke="#7a1f0c" stroke-width="4.7" stroke-linejoin="miter"/>
<path d="M250.63 2415.2L250.63 2243.84L271.13 2243.84L271.13 2415.2" fill="#fff" stroke="#7a1f0c" stroke-width="4.7" stroke-linejoin="miter"/>
<path d="M285.51 2415.2L285.51 2244.99L306.01 2244.99L306.01 2415.2" fill="#fff" stroke="#7a1f0c" stroke-width="4.7" stroke-linejoin="miter"/>
<path d="M320.39 2415.2L320.39 2294.43L340.89 2294.43L340.89 2415.2" fill="#fff" stroke="#7a1f0c" stroke-width="4.7" stroke-linejoin="miter"/>
<path d="M355.27 2415.2L355.27 2096.69L375.77 2096.69L375.77 2415.2" fill="#fff" stroke="#7a1f0c" stroke-width="4.7" stroke-linejoin="miter"/>
<path d="M390.15 2415.2L390.15 2285.55L410.65 2285.55L410.65 2415.2" fill="#fff" stroke="#7a1f0c" stroke-width="4.7" stroke-linejoin="miter"/>
<path d="M448.35 2415.2L448.35 2178.18L468.85 2178.18L468.85 2415.2" fill="#fff" stroke="#5e0a33" stroke-width="4.7" stroke-linejoin="miter"/>
<path d="M483.23 2415.2L483.23 2350.82L503.73 2350.82L503.73 2415.2" fill="#fff" stroke="#5e0a33" stroke-width="4.7" stroke-linejoin="miter"/>
<path d="M518.11 2415.2L518.11 2378.63L538.61 2378.63L538.61 2415.2" fill="#fff" stroke="#5e0a33" stroke-width="4.7" stroke-linejoin="miter"/>
<path d="M552.99 2415.2L552.99 2378.63L573.49 2378.63L573.49 2415.2" fill="#fff" stroke="#5e0a33" stroke-width="4.7" stroke-linejoin="miter"/>
<path d="M587.87 2415.2L587.87 2247.31L608.37 2247.31L608.37 2415.2" fill="#fff" stroke="#5e0a33" stroke-width="4.7" stroke-linejoin="miter"/>
<path d="M622.75 2415.2L622.75 2378.63L643.25 2378.63L643.25 2415.2" fill="#fff" stroke="#5e0a33" stroke-width="4.7" stroke-linejoin="miter"/>
<path d="M680.95 2415.2L680.95 2276.28L701.45 2276.28L701.45 2415.2" fill="#fff" stroke="#2f4f12" stroke-width="4.7" stroke-linejoin="miter"/>
<path d="M715.83 2415.2L715.83 2362.02L736.33 2362.02L736.33 2415.2" fill="#fff" stroke="#2f4f12" stroke-width="4.7" stroke-linejoin="miter"/>
<path d="M750.71 2415.2L750.71 2330.35L771.21 2330.35L771.21 2415.2" fill="#fff" stroke="#2f4f12" stroke-width="4.7" stroke-linejoin="miter"/>
<path d="M785.59 2415.2L785.59 2378.63L806.09 2378.63L806.09 2415.2" fill="#fff" stroke="#2f4f12" stroke-width="4.7" stroke-linejoin="miter"/>
<path d="M820.47 2415.2L820.47 2298.68L840.97 2298.68L840.97 2415.2" fill="#fff" stroke="#2f4f12" stroke-width="4.7" stroke-linejoin="miter"/>
<path d="M855.35 2415.2L855.35 2378.63L875.85 2378.63L875.85 2415.2" fill="#fff" stroke="#2f4f12" stroke-width="4.7" stroke-linejoin="miter"/>
<path d="M913.55 2415.2L913.55 2239.97L934.05 2239.97L934.05 2415.2" fill="#fff" stroke="#1c4a35" stroke-width="4.7" stroke-linejoin="miter"/>
<path d="M948.43 2415.2L948.43 2298.29L968.93 2298.29L968.93 2415.2" fill="#fff" stroke="#1c4a35" stroke-width="4.7" stroke-linejoin="miter"/>
<path d="M983.31 2415.2L983.31 2294.05L1003.81 2294.05L1003.81 2415.2" fill="#fff" stroke="#1c4a35" stroke-width="4.7" stroke-linejoin="miter"/>
<path d="M1018.19 2415.2L1018.19 2375.54L1038.69 2375.54L1038.69 2415.2" fill="#fff" stroke="#1c4a35" stroke-width="4.7" stroke-linejoin="miter"/>
<path d="M1053.07 2415.2L1053.07 2263.53L1073.57 2263.53L1073.57 2415.2" fill="#fff" stroke="#1c4a35" stroke-width="4.7" stroke-linejoin="miter"/>
<path d="M1087.95 2415.2L1087.95 2378.63L1108.45 2378.63L1108.45 2415.2" fill="#fff" stroke="#1c4a35" stroke-width="4.7" stroke-linejoin="miter"/>
<path d="M1146.15 2415.2L1146.15 2329.58L1166.65 2329.58L1166.65 2415.2" fill="#fff" stroke="#233b5e" stroke-width="4.7" stroke-linejoin="miter"/>
<path d="M1181.03 2415.2L1181.03 2341.16L1201.53 2341.16L1201.53 2415.2" fill="#fff" stroke="#233b5e" stroke-width="4.7" stroke-linejoin="miter"/>
<path d="M1215.91 2415.2L1215.91 2363.95L1236.41 2363.95L1236.41 2415.2" fill="#fff" stroke="#233b5e" stroke-width="4.7" stroke-linejoin="miter"/>
<path d="M1250.79 2415.2L1250.79 2378.63L1271.29 2378.63L1271.29 2415.2" fill="#fff" stroke="#233b5e" stroke-width="4.7" stroke-linejoin="miter"/>
<path d="M1285.67 2415.2L1285.67 2359.32L1306.17 2359.32L1306.17 2415.2" fill="#fff" stroke="#233b5e" stroke-width="4.7" stroke-linejoin="miter"/>
<path d="M1320.55 2415.2L1320.55 2378.63L1341.05 2378.63L1341.05 2415.2" fill="#fff" stroke="#233b5e" stroke-width="4.7" stroke-linejoin="miter"/>
<path d="M1378.75 2415.2L1378.75 2269.71L1399.25 2269.71L1399.25 2415.2" fill="#fff" stroke="#c25f3e" stroke-width="4.7" stroke-linejoin="miter"/>
<path d="M1413.63 2415.2L1413.63 2370.9L1434.13 2370.9L1434.13 2415.2" fill="#fff" stroke="#c25f3e" stroke-width="4.7" stroke-linejoin="miter"/>
<path d="M1448.51 2415.2L1448.51 2370.9L1469.01 2370.9L1469.01 2415.2" fill="#fff" stroke="#c25f3e" stroke-width="4.7" stroke-linejoin="miter"/>
<path d="M1483.39 2415.2L1483.39 2378.63L1503.89 2378.63L1503.89 2415.2" fill="#fff" stroke="#c25f3e" stroke-width="4.7" stroke-linejoin="miter"/>
<path d="M1518.27 2415.2L1518.27 2340.78L1538.77 2340.78L1538.77 2415.2" fill="#fff" stroke="#c25f3e" stroke-width="4.7" stroke-linejoin="miter"/>
<path d="M1553.15 2415.2L1553.15 2378.63L1573.65 2378.63L1573.65 2415.2" fill="#fff" stroke="#c25f3e" stroke-width="4.7" stroke-linejoin="miter"/>
<line x1="214.7" y1="2376.58" x2="1585" y2="2376.58" stroke="#000" stroke-width="3.3" stroke-dasharray="0.1 8.4" stroke-linecap="round"/>
<line x1="202.7" y1="2065" x2="202.7" y2="2417.8" stroke="#1a1a1a" stroke-width="5.2"/>
<line x1="200.1" y1="2415.2" x2="1590" y2="2415.2" stroke="#1a1a1a" stroke-width="5.2"/>
<line x1="189.2" y1="2415.2" x2="202.7" y2="2415.2" stroke="#1a1a1a" stroke-width="4.8"/>
<text x="185.7" y="2418.5" font-size="17" font-weight="bold" text-anchor="end">-1</text>
<text x="167.2" y="2427.5" font-size="28.5" font-weight="bold" text-anchor="end">10</text>
<line x1="189.2" y1="2376.58" x2="202.7" y2="2376.58" stroke="#1a1a1a" stroke-width="4.8"/>
<text x="185.7" y="2379.88" font-size="17" font-weight="bold" text-anchor="end">0</text>
<text x="173.7" y="2388.88" font-size="28.5" font-weight="bold" text-anchor="end">10</text>
<line x1="189.2" y1="2337.96" x2="202.7" y2="2337.96" stroke="#1a1a1a" stroke-width="4.8"/>
<text x="185.7" y="2341.26" font-size="17" font-weight="bold" text-anchor="end">1</text>
<text x="173.7" y="2350.26" font-size="28.5" font-weight="bold" text-anchor="end">10</text>
<line x1="189.2" y1="2299.33" x2="202.7" y2="2299.33" stroke="#1a1a1a" stroke-width="4.8"/>
<text x="185.7" y="2302.63" font-size="17" font-weight="bold" text-anchor="end">2</text>
<text x="173.7" y="2311.63" font-size="28.5" font-weight="bold" text-anchor="end">10</text>
<line x1="189.2" y1="2260.71" x2="202.7" y2="2260.71" stroke="#1a1a1a" stroke-width="4.8"/>
<text x="185.7" y="2264.01" font-size="17" font-weight="bold" text-anchor="end">3</text>
<text x="173.7" y="2273.01" font-size="28.5" font-weight="bold" text-anchor="end">10</text>
<line x1="189.2" y1="2222.09" x2="202.7" y2="2222.09" stroke="#1a1a1a" stroke-width="4.8"/>
<text x="185.7" y="2225.39" font-size="17" font-weight="bold" text-anchor="end">4</text>
<text x="173.7" y="2234.39" font-size="28.5" font-weight="bold" text-anchor="end">10</text>
<line x1="189.2" y1="2183.47" x2="202.7" y2="2183.47" stroke="#1a1a1a" stroke-width="4.8"/>
<text x="185.7" y="2186.77" font-size="17" font-weight="bold" text-anchor="end">5</text>
<text x="173.7" y="2195.77" font-size="28.5" font-weight="bold" text-anchor="end">10</text>
<line x1="189.2" y1="2144.84" x2="202.7" y2="2144.84" stroke="#1a1a1a" stroke-width="4.8"/>
<text x="185.7" y="2148.14" font-size="17" font-weight="bold" text-anchor="end">6</text>
<text x="173.7" y="2157.14" font-size="28.5" font-weight="bold" text-anchor="end">10</text>
<line x1="189.2" y1="2106.22" x2="202.7" y2="2106.22" stroke="#1a1a1a" stroke-width="4.8"/>
<text x="185.7" y="2109.52" font-size="17" font-weight="bold" text-anchor="end">7</text>
<text x="173.7" y="2118.52" font-size="28.5" font-weight="bold" text-anchor="end">10</text>
<line x1="189.2" y1="2067.6" x2="202.7" y2="2067.6" stroke="#1a1a1a" stroke-width="4.8"/>
<text x="185.7" y="2070.9" font-size="17" font-weight="bold" text-anchor="end">8</text>
<text x="173.7" y="2079.9" font-size="28.5" font-weight="bold" text-anchor="end">10</text>
<line x1="226" y1="2415.2" x2="226" y2="2431.2" stroke="#1a1a1a" stroke-width="4.8"/>
<text font-size="26.5" transform="translate(231.5 2455.2) rotate(-45) scale(0.93 1)" text-anchor="end" stroke="#000" stroke-width="0.85">VTT</text>
<line x1="260.88" y1="2415.2" x2="260.88" y2="2431.2" stroke="#1a1a1a" stroke-width="4.8"/>
<text font-size="26.5" transform="translate(266.38 2455.2) rotate(-45) scale(0.93 1)" text-anchor="end" stroke="#000" stroke-width="0.85">dTK</text>
<line x1="295.76" y1="2415.2" x2="295.76" y2="2431.2" stroke="#1a1a1a" stroke-width="4.8"/>
<text font-size="26.5" transform="translate(301.26 2455.2) rotate(-45) scale(0.93 1)" text-anchor="end" stroke="#000" stroke-width="0.85">dF4L</text>
<line x1="330.64" y1="2415.2" x2="330.64" y2="2431.2" stroke="#1a1a1a" stroke-width="4.8"/>
<text font-size="26.5" transform="translate(336.14 2455.2) rotate(-45) scale(0.93 1)" text-anchor="end" stroke="#000" stroke-width="0.85">dTF</text>
<line x1="365.52" y1="2415.2" x2="365.52" y2="2431.2" stroke="#1a1a1a" stroke-width="4.8"/>
<text font-size="26.5" transform="translate(371.02 2455.2) rotate(-45) scale(0.93 1)" text-anchor="end" stroke="#000" stroke-width="0.85">dB2R</text>
<line x1="400.4" y1="2415.2" x2="400.4" y2="2431.2" stroke="#1a1a1a" stroke-width="4.8"/>
<text font-size="26.5" transform="translate(405.9 2455.2) rotate(-45) scale(0.93 1)" text-anchor="end" stroke="#000" stroke-width="0.85">dBTF</text>
<line x1="458.6" y1="2415.2" x2="458.6" y2="2431.2" stroke="#1a1a1a" stroke-width="4.8"/>
<text font-size="26.5" transform="translate(464.1 2455.2) rotate(-45) scale(0.93 1)" text-anchor="end" stroke="#000" stroke-width="0.85">VTT</text>
<line x1="493.48" y1="2415.2" x2="493.48" y2="2431.2" stroke="#1a1a1a" stroke-width="4.8"/>
<text font-size="26.5" transform="translate(498.98 2455.2) rotate(-45) scale(0.93 1)" text-anchor="end" stroke="#000" stroke-width="0.85">dTK</text>
<line x1="528.36" y1="2415.2" x2="528.36" y2="2431.2" stroke="#1a1a1a" stroke-width="4.8"/>
<text font-size="26.5" transform="translate(533.86 2455.2) rotate(-45) scale(0.93 1)" text-anchor="end" stroke="#000" stroke-width="0.85">dF4L</text>
<line x1="563.24" y1="2415.2" x2="563.24" y2="2431.2" stroke="#1a1a1a" stroke-width="4.8"/>
<text font-size="26.5" transform="translate(568.74 2455.2) rotate(-45) scale(0.93 1)" text-anchor="end" stroke="#000" stroke-width="0.85">dTF</text>
<line x1="598.12" y1="2415.2" x2="598.12" y2="2431.2" stroke="#1a1a1a" stroke-width="4.8"/>
<text font-size="26.5" transform="translate(603.62 2455.2) rotate(-45) scale(0.93 1)" text-anchor="end" stroke="#000" stroke-width="0.85">dB2R</text>
<line x1="633" y1="2415.2" x2="633" y2="2431.2" stroke="#1a1a1a" stroke-width="4.8"/>
<text font-size="26.5" transform="translate(638.5 2455.2) rotate(-45) scale(0.93 1)" text-anchor="end" stroke="#000" stroke-width="0.85">dBTF</text>
<line x1="691.2" y1="2415.2" x2="691.2" y2="2431.2" stroke="#1a1a1a" stroke-width="4.8"/>
<text font-size="26.5" transform="translate(696.7 2455.2) rotate(-45) scale(0.93 1)" text-anchor="end" stroke="#000" stroke-width="0.85">VTT</text>
<line x1="726.08" y1="2415.2" x2="726.08" y2="2431.2" stroke="#1a1a1a" stroke-width="4.8"/>
<text font-size="26.5" transform="translate(731.58 2455.2) rotate(-45) scale(0.93 1)" text-anchor="end" stroke="#000" stroke-width="0.85">dTK</text>
<line x1="760.96" y1="2415.2" x2="760.96" y2="2431.2" stroke="#1a1a1a" stroke-width="4.8"/>
<text font-size="26.5" transform="translate(766.46 2455.2) rotate(-45) scale(0.93 1)" text-anchor="end" stroke="#000" stroke-width="0.85">dF4L</text>
<line x1="795.84" y1="2415.2" x2="795.84" y2="2431.2" stroke="#1a1a1a" stroke-width="4.8"/>
<text font-size="26.5" transform="translate(801.34 2455.2) rotate(-45) scale(0.93 1)" text-anchor="end" stroke="#000" stroke-width="0.85">dTF</text>
<line x1="830.72" y1="2415.2" x2="830.72" y2="2431.2" stroke="#1a1a1a" stroke-width="4.8"/>
<text font-size="26.5" transform="translate(836.22 2455.2) rotate(-45) scale(0.93 1)" text-anchor="end" stroke="#000" stroke-width="0.85">dB2R</text>
<line x1="865.6" y1="2415.2" x2="865.6" y2="2431.2" stroke="#1a1a1a" stroke-width="4.8"/>
<text font-size="26.5" transform="translate(871.1 2455.2) rotate(-45) scale(0.93 1)" text-anchor="end" stroke="#000" stroke-width="0.85">dBTF</text>
<line x1="923.8" y1="2415.2" x2="923.8" y2="2431.2" stroke="#1a1a1a" stroke-width="4.8"/>
<text font-size="26.5" transform="translate(929.3 2455.2) rotate(-45) scale(0.93 1)" text-anchor="end" stroke="#000" stroke-width="0.85">VTT</text>
<line x1="958.68" y1="2415.2" x2="958.68" y2="2431.2" stroke="#1a1a1a" stroke-width="4.8"/>
<text font-size="26.5" transform="translate(964.18 2455.2) rotate(-45) scale(0.93 1)" text-anchor="end" stroke="#000" stroke-width="0.85">dTK</text>
<line x1="993.56" y1="2415.2" x2="993.56" y2="2431.2" stroke="#1a1a1a" stroke-width="4.8"/>
<text font-size="26.5" transform="translate(999.06 2455.2) rotate(-45) scale(0.93 1)" text-anchor="end" stroke="#000" stroke-width="0.85">dF4L</text>
<line x1="1028.44" y1="2415.2" x2="1028.44" y2="2431.2" stroke="#1a1a1a" stroke-width="4.8"/>
<text font-size="26.5" transform="translate(1033.94 2455.2) rotate(-45) scale(0.93 1)" text-anchor="end" stroke="#000" stroke-width="0.85">dTF</text>
<line x1="1063.32" y1="2415.2" x2="1063.32" y2="2431.2" stroke="#1a1a1a" stroke-width="4.8"/>
<text font-size="26.5" transform="translate(1068.82 2455.2) rotate(-45) scale(0.93 1)" text-anchor="end" stroke="#000" stroke-width="0.85">dB2R</text>
<line x1="1098.2" y1="2415.2" x2="1098.2" y2="2431.2" stroke="#1a1a1a" stroke-width="4.8"/>
<text font-size="26.5" transform="translate(1103.7 2455.2) rotate(-45) scale(0.93 1)" text-anchor="end" stroke="#000" stroke-width="0.85">dBTF</text>
<line x1="1156.4" y1="2415.2" x2="1156.4" y2="2431.2" stroke="#1a1a1a" stroke-width="4.8"/>
<text font-size="26.5" transform="translate(1161.9 2455.2) rotate(-45) scale(0.93 1)" text-anchor="end" stroke="#000" stroke-width="0.85">VTT</text>
<line x1="1191.28" y1="2415.2" x2="1191.28" y2="2431.2" stroke="#1a1a1a" stroke-width="4.8"/>
<text font-size="26.5" transform="translate(1196.78 2455.2) rotate(-45) scale(0.93 1)" text-anchor="end" stroke="#000" stroke-width="0.85">dTK</text>
<line x1="1226.16" y1="2415.2" x2="1226.16" y2="2431.2" stroke="#1a1a1a" stroke-width="4.8"/>
<text font-size="26.5" transform="translate(1231.66 2455.2) rotate(-45) scale(0.93 1)" text-anchor="end" stroke="#000" stroke-width="0.85">dF4L</text>
<line x1="1261.04" y1="2415.2" x2="1261.04" y2="2431.2" stroke="#1a1a1a" stroke-width="4.8"/>
<text font-size="26.5" transform="translate(1266.54 2455.2) rotate(-45) scale(0.93 1)" text-anchor="end" stroke="#000" stroke-width="0.85">dTF</text>
<line x1="1295.92" y1="2415.2" x2="1295.92" y2="2431.2" stroke="#1a1a1a" stroke-width="4.8"/>
<text font-size="26.5" transform="translate(1301.42 2455.2) rotate(-45) scale(0.93 1)" text-anchor="end" stroke="#000" stroke-width="0.85">dB2R</text>
<line x1="1330.8" y1="2415.2" x2="1330.8" y2="2431.2" stroke="#1a1a1a" stroke-width="4.8"/>
<text font-size="26.5" transform="translate(1336.3 2455.2) rotate(-45) scale(0.93 1)" text-anchor="end" stroke="#000" stroke-width="0.85">dBTF</text>
<line x1="1389" y1="2415.2" x2="1389" y2="2431.2" stroke="#1a1a1a" stroke-width="4.8"/>
<text font-size="26.5" transform="translate(1394.5 2455.2) rotate(-45) scale(0.93 1)" text-anchor="end" stroke="#000" stroke-width="0.85">VTT</text>
<line x1="1423.88" y1="2415.2" x2="1423.88" y2="2431.2" stroke="#1a1a1a" stroke-width="4.8"/>
<text font-size="26.5" transform="translate(1429.38 2455.2) rotate(-45) scale(0.93 1)" text-anchor="end" stroke="#000" stroke-width="0.85">dTK</text>
<line x1="1458.76" y1="2415.2" x2="1458.76" y2="2431.2" stroke="#1a1a1a" stroke-width="4.8"/>
<text font-size="26.5" transform="translate(1464.26 2455.2) rotate(-45) scale(0.93 1)" text-anchor="end" stroke="#000" stroke-width="0.85">dF4L</text>
<line x1="1493.64" y1="2415.2" x2="1493.64" y2="2431.2" stroke="#1a1a1a" stroke-width="4.8"/>
<text font-size="26.5" transform="translate(1499.14 2455.2) rotate(-45) scale(0.93 1)" text-anchor="end" stroke="#000" stroke-width="0.85">dTF</text>
<line x1="1528.52" y1="2415.2" x2="1528.52" y2="2431.2" stroke="#1a1a1a" stroke-width="4.8"/>
<text font-size="26.5" transform="translate(1534.02 2455.2) rotate(-45) scale(0.93 1)" text-anchor="end" stroke="#000" stroke-width="0.85">dB2R</text>
<line x1="1563.4" y1="2415.2" x2="1563.4" y2="2431.2" stroke="#1a1a1a" stroke-width="4.8"/>
<text font-size="26.5" transform="translate(1568.9 2455.2) rotate(-45) scale(0.93 1)" text-anchor="end" stroke="#000" stroke-width="0.85">dBTF</text>
<circle cx="226" cy="2090" r="5.4" fill="#b35e45"/>
<circle cx="233" cy="2095.02" r="5.4" fill="#b35e45"/>
<circle cx="226" cy="2100.82" r="5.4" fill="#b35e45"/>
<circle cx="226" cy="2147.93" r="5.4" fill="#b35e45"/>
<circle cx="260.88" cy="2219.77" r="5.4" fill="#b35e45"/>
<circle cx="260.88" cy="2249.12" r="5.4" fill="#b35e45"/>
<circle cx="266.88" cy="2278.09" r="5.4" fill="#b35e45"/>
<circle cx="254.88" cy="2286.2" r="5.4" fill="#b35e45"/>
<circle cx="295.76" cy="2221.7" r="5.4" fill="#b35e45"/>
<circle cx="295.76" cy="2252.99" r="5.4" fill="#b35e45"/>
<circle cx="295.76" cy="2266.89" r="5.4" fill="#b35e45"/>
<circle cx="295.76" cy="2279.25" r="5.4" fill="#b35e45"/>
<circle cx="330.64" cy="2273.46" r="5.4" fill="#b35e45"/>
<circle cx="330.64" cy="2288.13" r="5.4" fill="#b35e45"/>
<circle cx="324.64" cy="2376.58" r="5.4" fill="#b35e45"/>
<circle cx="336.64" cy="2376.58" r="5.4" fill="#b35e45"/>
<circle cx="359.52" cy="2087.68" r="5.4" fill="#b35e45"/>
<circle cx="372.52" cy="2087.68" r="5.4" fill="#b35e45"/>
<circle cx="365.52" cy="2091.55" r="5.4" fill="#b35e45"/>
<circle cx="365.52" cy="2144.07" r="5.4" fill="#b35e45"/>
<circle cx="400.4" cy="2263.8" r="5.4" fill="#b35e45"/>
<circle cx="400.4" cy="2278.86" r="5.4" fill="#b35e45"/>
<circle cx="394.4" cy="2376.58" r="5.4" fill="#b35e45"/>
<circle cx="406.4" cy="2376.58" r="5.4" fill="#b35e45"/>
<rect x="453.4" y="2147.37" width="10.4" height="10.4" fill="#a23669"/>
<rect x="453.4" y="2187.15" width="10.4" height="10.4" fill="#a23669"/>
<rect x="453.4" y="2220.36" width="10.4" height="10.4" fill="#a23669"/>
<rect x="453.4" y="2261.69" width="10.4" height="10.4" fill="#a23669"/>
<rect x="488.28" y="2320.01" width="10.4" height="10.4" fill="#a23669"/>
<rect x="482.48" y="2371.38" width="10.4" height="10.4" fill="#a23669"/>
<rect x="488.28" y="2371.38" width="10.4" height="10.4" fill="#a23669"/>
<rect x="494.08" y="2371.38" width="10.4" height="10.4" fill="#a23669"/>
<rect x="517.16" y="2371.38" width="10.4" height="10.4" fill="#a23669"/>
<rect x="521.16" y="2371.38" width="10.4" height="10.4" fill="#a23669"/>
<rect x="525.16" y="2371.38" width="10.4" height="10.4" fill="#a23669"/>
<rect x="529.16" y="2371.38" width="10.4" height="10.4" fill="#a23669"/>
<rect x="552.04" y="2371.38" width="10.4" height="10.4" fill="#a23669"/>
<rect x="556.04" y="2371.38" width="10.4" height="10.4" fill="#a23669"/>
<rect x="560.04" y="2371.38" width="10.4" height="10.4" fill="#a23669"/>
<rect x="564.04" y="2371.38" width="10.4" height="10.4" fill="#a23669"/>
<rect x="592.92" y="2215.34" width="10.4" height="10.4" fill="#a23669"/>
<rect x="592.92" y="2316.15" width="10.4" height="10.4" fill="#a23669"/>
<rect x="599.92" y="2323.49" width="10.4" height="10.4" fill="#a23669"/>
<rect x="585.92" y="2329.28" width="10.4" height="10.4" fill="#a23669"/>
<rect x="621.8" y="2371.38" width="10.4" height="10.4" fill="#a23669"/>
<rect x="625.8" y="2371.38" width="10.4" height="10.4" fill="#a23669"/>
<rect x="629.8" y="2371.38" width="10.4" height="10.4" fill="#a23669"/>
<rect x="633.8" y="2371.38" width="10.4" height="10.4" fill="#a23669"/>
<path d="M684.2 2260.72L689.6 2271.52L678.8 2271.52Z" fill="#5a8a2e"/>
<path d="M691.2 2263.04L696.6 2273.84L685.8 2273.84Z" fill="#5a8a2e"/>
<path d="M698.2 2261.49L703.6 2272.29L692.8 2272.29Z" fill="#5a8a2e"/>
<path d="M691.2 2371.18L696.6 2381.98L685.8 2381.98Z" fill="#5a8a2e"/>
<path d="M726.08 2336.03L731.48 2346.83L720.68 2346.83Z" fill="#5a8a2e"/>
<path d="M720.28 2371.18L725.68 2381.98L714.88 2381.98Z" fill="#5a8a2e"/>
<path d="M726.08 2371.18L731.48 2381.98L720.68 2381.98Z" fill="#5a8a2e"/>
<path d="M731.88 2371.18L737.28 2381.98L726.48 2381.98Z" fill="#5a8a2e"/>
<path d="M760.96 2300.11L766.36 2310.91L755.56 2310.91Z" fill="#5a8a2e"/>
<path d="M755.16 2371.18L760.56 2381.98L749.76 2381.98Z" fill="#5a8a2e"/>
<path d="M760.96 2371.18L766.36 2381.98L755.56 2381.98Z" fill="#5a8a2e"/>
<path d="M766.76 2371.18L772.16 2381.98L761.36 2381.98Z" fill="#5a8a2e"/>
<path d="M789.84 2371.18L795.24 2381.98L784.44 2381.98Z" fill="#5a8a2e"/>
<path d="M793.84 2371.18L799.24 2381.98L788.44 2381.98Z" fill="#5a8a2e"/>
<path d="M797.84 2371.18L803.24 2381.98L792.44 2381.98Z" fill="#5a8a2e"/>
<path d="M801.84 2371.18L807.24 2381.98L796.44 2381.98Z" fill="#5a8a2e"/>
<path d="M830.72 2276.55L836.12 2287.35L825.32 2287.35Z" fill="#5a8a2e"/>
<path d="M823.72 2289.68L829.12 2300.48L818.32 2300.48Z" fill="#5a8a2e"/>
<path d="M830.72 2293.93L836.12 2304.73L825.32 2304.73Z" fill="#5a8a2e"/>
<path d="M830.72 2371.18L836.12 2381.98L825.32 2381.98Z" fill="#5a8a2e"/>
<path d="M859.6 2371.18L865 2381.98L854.2 2381.98Z" fill="#5a8a2e"/>
<path d="M863.6 2371.18L869 2381.98L858.2 2381.98Z" fill="#5a8a2e"/>
<path d="M867.6 2371.18L873 2381.98L862.2 2381.98Z" fill="#5a8a2e"/>
<path d="M871.6 2371.18L877 2381.98L866.2 2381.98Z" fill="#5a8a2e"/>
<path d="M916.8 2231.74L922.2 2220.94L911.4 2220.94Z" fill="#3f9472"/>
<path d="M930.8 2234.05L936.2 2223.25L925.4 2223.25Z" fill="#3f9472"/>
<path d="M923.8 2247.19L929.2 2236.39L918.4 2236.39Z" fill="#3f9472"/>
<path d="M923.8 2381.98L929.2 2371.18L918.4 2371.18Z" fill="#3f9472"/>
<path d="M958.68 2276.54L964.08 2265.74L953.28 2265.74Z" fill="#3f9472"/>
<path d="M952.88 2381.98L958.28 2371.18L947.48 2371.18Z" fill="#3f9472"/>
<path d="M958.68 2381.98L964.08 2371.18L953.28 2371.18Z" fill="#3f9472"/>
<path d="M964.48 2381.98L969.88 2371.18L959.08 2371.18Z" fill="#3f9472"/>
<path d="M989.56 2292.76L994.96 2281.96L984.16 2281.96Z" fill="#3f9472"/>
<path d="M998.56 2294.31L1003.96 2283.51L993.16 2283.51Z" fill="#3f9472"/>
<path d="M993.56 2298.94L998.96 2288.14L988.16 2288.14Z" fill="#3f9472"/>
<path d="M985.56 2300.1L990.96 2289.3L980.16 2289.3Z" fill="#3f9472"/>
<path d="M1028.44 2370L1033.84 2359.2L1023.04 2359.2Z" fill="#3f9472"/>
<path d="M1022.64 2381.98L1028.04 2371.18L1017.24 2371.18Z" fill="#3f9472"/>
<path d="M1028.44 2381.98L1033.84 2371.18L1023.04 2371.18Z" fill="#3f9472"/>
<path d="M1034.24 2381.98L1039.64 2371.18L1028.84 2371.18Z" fill="#3f9472"/>
<path d="M1063.32 2241.78L1068.72 2230.98L1057.92 2230.98Z" fill="#3f9472"/>
<path d="M1057.52 2381.98L1062.92 2371.18L1052.12 2371.18Z" fill="#3f9472"/>
<path d="M1063.32 2381.98L1068.72 2371.18L1057.92 2371.18Z" fill="#3f9472"/>
<path d="M1069.12 2381.98L1074.52 2371.18L1063.72 2371.18Z" fill="#3f9472"/>
<path d="M1092.2 2381.98L1097.6 2371.18L1086.8 2371.18Z" fill="#3f9472"/>
<path d="M1096.2 2381.98L1101.6 2371.18L1090.8 2371.18Z" fill="#3f9472"/>
<path d="M1100.2 2381.98L1105.6 2371.18L1094.8 2371.18Z" fill="#3f9472"/>
<path d="M1104.2 2381.98L1109.6 2371.18L1098.8 2371.18Z" fill="#3f9472"/>
<path d="M1156.4 2303L1162 2308.6L1156.4 2314.2L1150.8 2308.6Z" fill="#4a72b0"/>
<path d="M1162.4 2328.88L1168 2334.48L1162.4 2340.08L1156.8 2334.48Z" fill="#4a72b0"/>
<path d="M1155.4 2331.97L1161 2337.57L1155.4 2343.17L1149.8 2337.57Z" fill="#4a72b0"/>
<path d="M1156.4 2343.94L1162 2349.54L1156.4 2355.14L1150.8 2349.54Z" fill="#4a72b0"/>
<path d="M1191.28 2309.18L1196.88 2314.78L1191.28 2320.38L1185.68 2314.78Z" fill="#4a72b0"/>
<path d="M1185.48 2370.98L1191.08 2376.58L1185.48 2382.18L1179.88 2376.58Z" fill="#4a72b0"/>
<path d="M1191.28 2370.98L1196.88 2376.58L1191.28 2382.18L1185.68 2376.58Z" fill="#4a72b0"/>
<path d="M1197.08 2370.98L1202.68 2376.58L1197.08 2382.18L1191.48 2376.58Z" fill="#4a72b0"/>
<path d="M1226.16 2337.38L1231.76 2342.98L1226.16 2348.58L1220.56 2342.98Z" fill="#4a72b0"/>
<path d="M1220.36 2370.98L1225.96 2376.58L1220.36 2382.18L1214.76 2376.58Z" fill="#4a72b0"/>
<path d="M1226.16 2370.98L1231.76 2376.58L1226.16 2382.18L1220.56 2376.58Z" fill="#4a72b0"/>
<path d="M1231.96 2370.98L1237.56 2376.58L1231.96 2382.18L1226.36 2376.58Z" fill="#4a72b0"/>
<path d="M1255.04 2370.98L1260.64 2376.58L1255.04 2382.18L1249.44 2376.58Z" fill="#4a72b0"/>
<path d="M1259.04 2370.98L1264.64 2376.58L1259.04 2382.18L1253.44 2376.58Z" fill="#4a72b0"/>
<path d="M1263.04 2370.98L1268.64 2376.58L1263.04 2382.18L1257.44 2376.58Z" fill="#4a72b0"/>
<path d="M1267.04 2370.98L1272.64 2376.58L1267.04 2382.18L1261.44 2376.58Z" fill="#4a72b0"/>
<path d="M1290.92 2338.92L1296.52 2344.52L1290.92 2350.12L1285.32 2344.52Z" fill="#4a72b0"/>
<path d="M1297.92 2342.78L1303.52 2348.38L1297.92 2353.98L1292.32 2348.38Z" fill="#4a72b0"/>
<path d="M1289.92 2370.98L1295.52 2376.58L1289.92 2382.18L1284.32 2376.58Z" fill="#4a72b0"/>
<path d="M1302.92 2370.98L1308.52 2376.58L1302.92 2382.18L1297.32 2376.58Z" fill="#4a72b0"/>
<path d="M1324.8 2370.98L1330.4 2376.58L1324.8 2382.18L1319.2 2376.58Z" fill="#4a72b0"/>
<path d="M1328.8 2370.98L1334.4 2376.58L1328.8 2382.18L1323.2 2376.58Z" fill="#4a72b0"/>
<path d="M1332.8 2370.98L1338.4 2376.58L1332.8 2382.18L1327.2 2376.58Z" fill="#4a72b0"/>
<path d="M1336.8 2370.98L1342.4 2376.58L1336.8 2382.18L1331.2 2376.58Z" fill="#4a72b0"/>
<path d="M1395 2243.72L1392 2248.91L1386 2248.91L1383 2243.72L1386 2238.52L1392 2238.52Z" fill="#f28c3f"/>
<path d="M1395 2322.51L1392 2327.7L1386 2327.7L1383 2322.51L1386 2317.31L1392 2317.31Z" fill="#f28c3f"/>
<path d="M1401 2334.09L1398 2339.29L1392 2339.29L1389 2334.09L1392 2328.9L1398 2328.9Z" fill="#f28c3f"/>
<path d="M1389 2339.11L1386 2344.31L1380 2344.31L1377 2339.11L1380 2333.92L1386 2333.92Z" fill="#f28c3f"/>
<path d="M1429.88 2354.18L1426.88 2359.37L1420.88 2359.37L1417.88 2354.18L1420.88 2348.98L1426.88 2348.98Z" fill="#f28c3f"/>
<path d="M1424.08 2376.58L1421.08 2381.77L1415.08 2381.77L1412.08 2376.58L1415.08 2371.38L1421.08 2371.38Z" fill="#f28c3f"/>
<path d="M1429.88 2376.58L1426.88 2381.77L1420.88 2381.77L1417.88 2376.58L1420.88 2371.38L1426.88 2371.38Z" fill="#f28c3f"/>
<path d="M1435.68 2376.58L1432.68 2381.77L1426.68 2381.77L1423.68 2376.58L1426.68 2371.38L1432.68 2371.38Z" fill="#f28c3f"/>
<path d="M1464.76 2354.18L1461.76 2359.37L1455.76 2359.37L1452.76 2354.18L1455.76 2348.98L1461.76 2348.98Z" fill="#f28c3f"/>
<path d="M1458.96 2376.58L1455.96 2381.77L1449.96 2381.77L1446.96 2376.58L1449.96 2371.38L1455.96 2371.38Z" fill="#f28c3f"/>
<path d="M1464.76 2376.58L1461.76 2381.77L1455.76 2381.77L1452.76 2376.58L1455.76 2371.38L1461.76 2371.38Z" fill="#f28c3f"/>
<path d="M1470.56 2376.58L1467.56 2381.77L1461.56 2381.77L1458.56 2376.58L1461.56 2371.38L1467.56 2371.38Z" fill="#f28c3f"/>
<path d="M1493.64 2376.58L1490.64 2381.77L1484.64 2381.77L1481.64 2376.58L1484.64 2371.38L1490.64 2371.38Z" fill="#f28c3f"/>
<path d="M1497.64 2376.58L1494.64 2381.77L1488.64 2381.77L1485.64 2376.58L1488.64 2371.38L1494.64 2371.38Z" fill="#f28c3f"/>
<path d="M1501.64 2376.58L1498.64 2381.77L1492.64 2381.77L1489.64 2376.58L1492.64 2371.38L1498.64 2371.38Z" fill="#f28c3f"/>
<path d="M1505.64 2376.58L1502.64 2381.77L1496.64 2381.77L1493.64 2376.58L1496.64 2371.38L1502.64 2371.38Z" fill="#f28c3f"/>
<path d="M1540.52 2330.23L1537.52 2335.43L1531.52 2335.43L1528.52 2330.23L1531.52 2325.03L1537.52 2325.03Z" fill="#f28c3f"/>
<path d="M1534.52 2335.25L1531.52 2340.45L1525.52 2340.45L1522.52 2335.25L1525.52 2330.06L1531.52 2330.06Z" fill="#f28c3f"/>
<path d="M1540.52 2342.2L1537.52 2347.4L1531.52 2347.4L1528.52 2342.2L1531.52 2337.01L1537.52 2337.01Z" fill="#f28c3f"/>
<path d="M1528.52 2347.22L1525.52 2352.42L1519.52 2352.42L1516.52 2347.22L1519.52 2342.03L1525.52 2342.03Z" fill="#f28c3f"/>
<path d="M1563.4 2376.58L1560.4 2381.77L1554.4 2381.77L1551.4 2376.58L1554.4 2371.38L1560.4 2371.38Z" fill="#f28c3f"/>
<path d="M1567.4 2376.58L1564.4 2381.77L1558.4 2381.77L1555.4 2376.58L1558.4 2371.38L1564.4 2371.38Z" fill="#f28c3f"/>
<path d="M1571.4 2376.58L1568.4 2381.77L1562.4 2381.77L1559.4 2376.58L1562.4 2371.38L1568.4 2371.38Z" fill="#f28c3f"/>
<path d="M1575.4 2376.58L1572.4 2381.77L1566.4 2381.77L1563.4 2376.58L1566.4 2371.38L1572.4 2371.38Z" fill="#f28c3f"/>
<circle cx="1607.2" cy="2092.2" r="5.4" fill="#b35e45"/>
<text font-size="27.8" transform="translate(1647 2102.2) scale(0.99 1)" stroke="#000" stroke-width="0.5">Lung</text>
<rect x="1602" y="2134.3" width="10.4" height="10.4" fill="#a23669"/>
<text font-size="27.8" transform="translate(1647 2149.5) scale(0.99 1)" stroke="#000" stroke-width="0.5">Brain</text>
<path d="M1607.2 2181.4L1612.6 2192.2L1601.8 2192.2Z" fill="#5a8a2e"/>
<text font-size="27.8" transform="translate(1647 2196.8) scale(0.99 1)" stroke="#000" stroke-width="0.5">Heart</text>
<path d="M1607.2 2239.5L1612.6 2228.7L1601.8 2228.7Z" fill="#3f9472"/>
<text font-size="27.8" transform="translate(1647 2244.1) scale(0.99 1)" stroke="#000" stroke-width="0.5">Spleen</text>
<path d="M1607.2 2275.8L1612.8 2281.4L1607.2 2287L1601.6 2281.4Z" fill="#4a72b0"/>
<text font-size="27.8" transform="translate(1647 2291.4) scale(0.99 1)" stroke="#000" stroke-width="0.5">Kidney</text>
<path d="M1613.2 2328.7L1610.2 2333.9L1604.2 2333.9L1601.2 2328.7L1604.2 2323.5L1610.2 2323.5Z" fill="#f28c3f"/>
<text font-size="27.8" transform="translate(1647 2338.7) scale(0.99 1)" stroke="#000" stroke-width="0.5">Liver</text>
<text font-size="26.4" transform="translate(893.4 2044.2) scale(1.07 1)" font-weight="bold" text-anchor="middle">BALB/c (2.5×10<tspan dy="-12.8" font-size="21.5">6</tspan><tspan dy="12.8">PFU)</tspan></text>
<text x="111" y="2239.4" font-size="28.5" transform="rotate(-90 111 2239.4)" font-weight="bold" text-anchor="middle" textLength="305" lengthAdjust="spacingAndGlyphs">Genome copies/100mg</text>
</svg>
</body></html>
